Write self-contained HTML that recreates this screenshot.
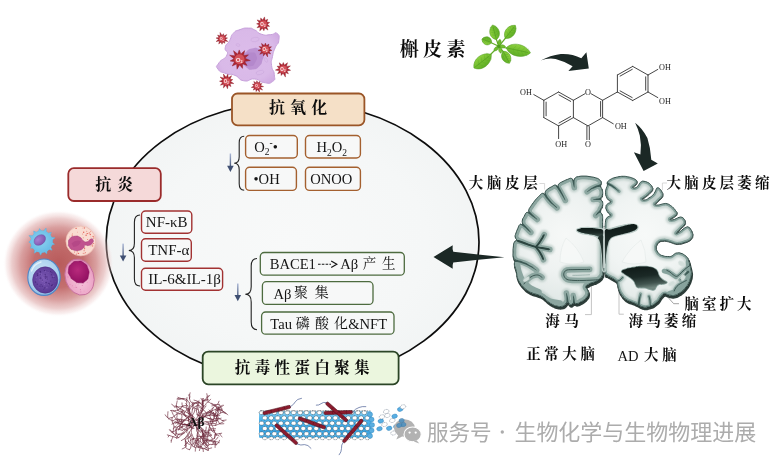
<!DOCTYPE html>
<html><head><meta charset="utf-8"><title>Quercetin and AD</title>
<style>html,body{margin:0;padding:0;background:#fff;}svg{display:block}text{font-family:"Liberation Serif",serif}</style>
</head><body>
<svg width="780" height="470" viewBox="0 0 780 470">
<defs>
<linearGradient id="gArr" x1="0" y1="0" x2="0" y2="1"><stop offset="0" stop-color="#a9b6d6"/><stop offset="1" stop-color="#3f4f72"/></linearGradient>
<radialGradient id="gEl" cx="50%" cy="50%" r="60%"><stop offset="0" stop-color="#f8f9f9"/><stop offset="0.6" stop-color="#f5f7f7"/><stop offset="1" stop-color="#f0f3f3"/></radialGradient>
<radialGradient id="gMac" cx="50%" cy="50%" r="60%"><stop offset="0" stop-color="#dcbcea"/><stop offset="0.75" stop-color="#d9b9e8"/><stop offset="1" stop-color="#d0abe2"/></radialGradient>
<radialGradient id="gGlow" cx="50%" cy="50%" r="50%"><stop offset="0" stop-color="#b45252" stop-opacity="0.95"/><stop offset="0.45" stop-color="#bd5f5f" stop-opacity="0.9"/><stop offset="0.68" stop-color="#cc7f7f" stop-opacity="0.75"/><stop offset="0.84" stop-color="#dca4a4" stop-opacity="0.55"/><stop offset="0.94" stop-color="#ecc8c8" stop-opacity="0.27"/><stop offset="1" stop-color="#fff" stop-opacity="0"/></radialGradient>
<radialGradient id="gC1" cx="45%" cy="45%" r="60%"><stop offset="0" stop-color="#8fd3f0"/><stop offset="1" stop-color="#67bce6"/></radialGradient>
<radialGradient id="gN1" cx="40%" cy="35%" r="70%"><stop offset="0" stop-color="#a77fd0"/><stop offset="1" stop-color="#7a52ac"/></radialGradient>
<radialGradient id="gC3" cx="45%" cy="40%" r="65%"><stop offset="0" stop-color="#cfe6f6"/><stop offset="0.7" stop-color="#a9d0ee"/><stop offset="1" stop-color="#7fb2e0"/></radialGradient>
<radialGradient id="gN3" cx="45%" cy="45%" r="60%"><stop offset="0" stop-color="#7c59b5"/><stop offset="1" stop-color="#553590"/></radialGradient>
<radialGradient id="gC4" cx="50%" cy="60%" r="65%"><stop offset="0" stop-color="#f6c6dc"/><stop offset="0.7" stop-color="#eba4c6"/><stop offset="1" stop-color="#dd86b2"/></radialGradient>
<radialGradient id="gN4" cx="45%" cy="40%" r="65%"><stop offset="0" stop-color="#b82a7c"/><stop offset="1" stop-color="#900f60"/></radialGradient>
<linearGradient id="gLeaf" x1="0" y1="0" x2="0" y2="1"><stop offset="0" stop-color="#8ed13f"/><stop offset="0.5" stop-color="#74be30"/><stop offset="1" stop-color="#5fae26"/></linearGradient>
<clipPath id="cpLow"><rect x="500" y="256" width="220" height="70"/></clipPath>
<filter id="fBl2" x="-30%" y="-30%" width="160%" height="160%"><feGaussianBlur stdDeviation="0.6"/></filter>
<filter id="fBl" x="-5%" y="-5%" width="110%" height="110%"><feGaussianBlur stdDeviation="0.9"/></filter>
<radialGradient id="gWML" gradientUnits="userSpaceOnUse" cx="565" cy="235" r="70"><stop offset="0" stop-color="#f6f8f7"/><stop offset="0.55" stop-color="#eef2f1"/><stop offset="1" stop-color="#dfe7e5"/></radialGradient>
<radialGradient id="gWMR" gradientUnits="userSpaceOnUse" cx="645" cy="235" r="70"><stop offset="0" stop-color="#f7f9f8"/><stop offset="0.55" stop-color="#f0f4f3"/><stop offset="1" stop-color="#e2e9e7"/></radialGradient>
<linearGradient id="gV0" x1="0" y1="0" x2="0" y2="1"><stop offset="0" stop-color="#0f1a18"/><stop offset="0.5" stop-color="#1d2b28"/><stop offset="1" stop-color="#4a5f5a"/></linearGradient>
<linearGradient id="gV2" x1="0" y1="0" x2="0.25" y2="1"><stop offset="0" stop-color="#0e1816"/><stop offset="0.5" stop-color="#1b2926"/><stop offset="0.82" stop-color="#41544f"/><stop offset="1" stop-color="#71867f"/></linearGradient>
<linearGradient id="gTub" x1="0" y1="0" x2="0" y2="1"><stop offset="0" stop-color="#8fd2f3"/><stop offset="0.3" stop-color="#4fb4ea"/><stop offset="0.75" stop-color="#3aa2df"/><stop offset="1" stop-color="#5ab8ea"/></linearGradient>
</defs>
<rect width="780" height="470" fill="#fff"/>
<g opacity="0.999">
<ellipse cx="292.6" cy="241.4" rx="186.4" ry="139.8" transform="rotate(0.3 292.6 241.4)" fill="url(#gEl)" stroke="#0d0d0d" stroke-width="1.7"/>
<rect x="232.0" y="93.5" width="132.4" height="31.8" rx="5.5" fill="#f5e0c7" stroke="#9a5527" stroke-width="1.8"/>
<rect x="68.3" y="168.2" width="92.5" height="32.8" rx="5.5" fill="#f5d9d9" stroke="#9a2b2b" stroke-width="1.8"/>
<rect x="202.7" y="351.6" width="195.9" height="32.7" rx="5.5" fill="#ebf6de" stroke="#2b4526" stroke-width="1.8"/>
<rect x="245.6" y="135.5" width="51.7" height="22.5" rx="4.0" fill="#f7f8f8" stroke="#a4602f" stroke-width="1.4"/>
<rect x="305.5" y="135.5" width="54.9" height="22.5" rx="4.0" fill="#f7f8f8" stroke="#a4602f" stroke-width="1.4"/>
<rect x="245.6" y="167.2" width="50.8" height="23.2" rx="4.0" fill="#f7f8f8" stroke="#a4602f" stroke-width="1.4"/>
<rect x="305.5" y="167.2" width="54.9" height="23.2" rx="4.0" fill="#f7f8f8" stroke="#a4602f" stroke-width="1.4"/>
<rect x="141.5" y="211.0" width="50.3" height="22.2" rx="4.0" fill="#f7f8f8" stroke="#a23232" stroke-width="1.4"/>
<rect x="141.5" y="238.7" width="49.8" height="22.6" rx="4.0" fill="#f7f8f8" stroke="#a23232" stroke-width="1.4"/>
<rect x="141.5" y="268.2" width="81.1" height="22.0" rx="4.0" fill="#f7f8f8" stroke="#a23232" stroke-width="1.4"/>
<rect x="260.3" y="252.5" width="144.0" height="22.7" rx="4.0" fill="#f7f8f8" stroke="#4d6b3f" stroke-width="1.3"/>
<rect x="262.4" y="281.7" width="110.6" height="22.7" rx="4.0" fill="#f7f8f8" stroke="#4d6b3f" stroke-width="1.3"/>
<rect x="261.6" y="312.0" width="132.4" height="22.2" rx="4.0" fill="#f7f8f8" stroke="#4d6b3f" stroke-width="1.3"/>
<path d="M244.2 136.3 Q239.2 136.3 239.2 142.8 L239.2 156.7 Q239.2 163.2 234.2 163.2 Q239.2 163.2 239.2 169.7 L239.2 183.7 Q239.2 190.2 244.2 190.2" fill="none" stroke="#222" stroke-width="1.1"/>
<rect x="229.70" y="153.5" width="1.4" height="14.5" fill="url(#gArr)"/><path d="M227.1 165.8 L233.7 165.8 L230.4 172.0 Z" fill="#3f4f72"/>
<path d="M140.0 215.0 Q134.4 215.0 134.4 222.3 L134.4 243.2 Q134.4 250.5 128.8 250.5 Q134.4 250.5 134.4 257.8 L134.4 278.7 Q134.4 286.0 140.0 286.0" fill="none" stroke="#222" stroke-width="1.1"/>
<rect x="122.40" y="243.6" width="1.4" height="14.0" fill="url(#gArr)"/><path d="M119.8 255.4 L126.4 255.4 L123.1 261.6 Z" fill="#3f4f72"/>
<path d="M257.0 258.5 Q251.2 258.5 251.2 266.1 L251.2 286.7 Q251.2 294.3 245.3 294.3 Q251.2 294.3 251.2 301.9 L251.2 322.1 Q251.2 329.7 257.0 329.7" fill="none" stroke="#222" stroke-width="1.1"/>
<rect x="237.10" y="283.5" width="1.4" height="13.8" fill="url(#gArr)"/><path d="M234.5 295.1 L241.1 295.1 L237.8 301.3 Z" fill="#3f4f72"/>
<text x="254.3" y="151.5" font-size="14.6" text-anchor="start" font-family="Liberation Serif" fill="#151515" >O<tspan font-size="9.5" dy="3.2">2</tspan><tspan font-size="9.5" dy="-8.5">-</tspan><tspan dy="5.3">•</tspan></text>
<text x="316.5" y="152.2" font-size="14.6" text-anchor="start" font-family="Liberation Serif" fill="#151515" >H<tspan font-size="9.5" dy="3.4">2</tspan><tspan dy="-3.4">O</tspan><tspan font-size="9.5" dy="3.4">2</tspan></text>
<text x="253.5" y="184.2" font-size="14.6" text-anchor="start" font-family="Liberation Serif" fill="#151515" >•OH</text>
<text x="310.2" y="184.4" font-size="14.6" text-anchor="start" font-family="Liberation Serif" fill="#151515" >ONOO</text>
<text x="145.8" y="227.0" font-size="15.0" text-anchor="start" font-family="Liberation Serif" fill="#151515" >NF-κB</text>
<text x="148.2" y="255.0" font-size="15.0" text-anchor="start" font-family="Liberation Serif" fill="#151515" >TNF-α</text>
<text x="148.2" y="284.2" font-size="15.0" text-anchor="start" font-family="Liberation Serif" fill="#151515" >IL-6&amp;IL-1β</text>
<text x="269.7" y="269.0" font-size="14.6" text-anchor="start" font-family="Liberation Serif" fill="#151515" >BACE1</text>
<path d="M318 264.2 H331" stroke="#151515" stroke-width="1.1" stroke-dasharray="2.6 1.2" fill="none"/><path d="M331.2 260.9 L336.8 264.2 L331.2 267.5" fill="none" stroke="#151515" stroke-width="1.2"/>
<text x="340.3" y="269.0" font-size="14.6" text-anchor="start" font-family="Liberation Serif" fill="#151515" >Aβ</text>
<text x="362.7" y="268.0" font-size="13.5" textLength="32.7" lengthAdjust="spacing" style="font-family:'Liberation Serif','Noto Serif CJK SC',serif" fill="#0c0c0c">产生</text>
<text x="273.5" y="298.6" font-size="14.6" text-anchor="start" font-family="Liberation Serif" fill="#151515" >Aβ</text>
<text x="294.1" y="297.2" font-size="14" textLength="34.6" lengthAdjust="spacing" style="font-family:'Liberation Serif','Noto Serif CJK SC',serif" fill="#0c0c0c">聚集</text>
<text x="270.3" y="328.8" font-size="14.6" text-anchor="start" font-family="Liberation Serif" fill="#151515" >Tau</text>
<text x="295.8" y="328.2" font-size="14" textLength="52.2" lengthAdjust="spacing" style="font-family:'Liberation Serif','Noto Serif CJK SC',serif" fill="#0c0c0c">磷酸化</text>
<text x="348.2" y="328.8" font-size="14.6" text-anchor="start" font-family="Liberation Serif" fill="#151515" >&amp;NFT</text>
<text x="268.9" y="113.2" font-size="16" font-weight="bold" textLength="58.4" lengthAdjust="spacing" style="font-family:'Liberation Serif','Noto Serif CJK SC',serif" fill="#0c0c0c">抗氧化</text>
<text x="95.3" y="190.0" font-size="16" font-weight="bold" textLength="38.0" lengthAdjust="spacing" style="font-family:'Liberation Serif','Noto Serif CJK SC',serif" fill="#0c0c0c">抗炎</text>
<text x="234.7" y="373.4" font-size="15.5" font-weight="bold" textLength="135.1" lengthAdjust="spacing" style="font-family:'Liberation Serif','Noto Serif CJK SC',serif" fill="#0c0c0c">抗毒性蛋白聚集</text>
<text x="399.8" y="56.4" font-size="19" font-weight="bold" textLength="65.6" lengthAdjust="spacing" style="font-family:'Liberation Serif','Noto Serif CJK SC',serif" fill="#0c0c0c">槲皮素</text>
<text x="468.7" y="188.4" font-size="14.5" font-weight="bold" textLength="69.1" lengthAdjust="spacing" style="font-family:'Liberation Serif','Noto Serif CJK SC',serif" fill="#0c0c0c">大脑皮层</text>
<text x="666.5" y="188.2" font-size="14.5" font-weight="bold" textLength="103.0" lengthAdjust="spacing" style="font-family:'Liberation Serif','Noto Serif CJK SC',serif" fill="#0c0c0c">大脑皮层萎缩</text>
<text x="684.6" y="309.3" font-size="14.5" font-weight="bold" textLength="67.0" lengthAdjust="spacing" style="font-family:'Liberation Serif','Noto Serif CJK SC',serif" fill="#0c0c0c">脑室扩大</text>
<text x="545.3" y="325.5" font-size="14.5" font-weight="bold" textLength="33.4" lengthAdjust="spacing" style="font-family:'Liberation Serif','Noto Serif CJK SC',serif" fill="#0c0c0c">海马</text>
<text x="628.5" y="325.5" font-size="14.5" font-weight="bold" textLength="67.7" lengthAdjust="spacing" style="font-family:'Liberation Serif','Noto Serif CJK SC',serif" fill="#0c0c0c">海马萎缩</text>
<text x="526.3" y="359.4" font-size="14.5" font-weight="bold" textLength="68.6" lengthAdjust="spacing" style="font-family:'Liberation Serif','Noto Serif CJK SC',serif" fill="#0c0c0c">正常大脑</text>
<text x="617.5" y="360.6" font-size="14.6" text-anchor="start" font-family="Liberation Serif" fill="#151515" >AD</text>
<text x="644.1" y="359.7" font-size="14.5" font-weight="bold" textLength="32.6" lengthAdjust="spacing" style="font-family:'Liberation Serif','Noto Serif CJK SC',serif" fill="#0c0c0c">大脑</text>
<path d="M539.5 183.5 H544.6 V189.5" fill="none" stroke="#cfcfcf" stroke-width="0.8"/>
<path d="M667 183 H662.4 V190" fill="none" stroke="#cfcfcf" stroke-width="0.8"/>
<path d="M591.4 285 V314.6 H585" fill="none" stroke="#b5b5b5" stroke-width="0.8"/>
<path d="M619 280 V314.2 H623.8" fill="none" stroke="#b5b5b5" stroke-width="0.8"/>
<path d="M656.4 284.4 L673.7 303.7 H679" fill="none" stroke="#8a8a8a" stroke-width="0.8"/>
<path d="M433.5 257 L452.7 245.3 Q452.2 249 453.3 251.7 Q478 254.5 504.5 257.2 Q478 259.5 453.3 262.6 Q452.2 265 452.7 268.8 Z" fill="#1b2825"/>
<path d="M540.8 60.4 Q550 55.5 560.8 54 Q572 53.4 581.3 58.3 L586.4 52.2 L588.8 68.5 L568.4 70.9 L572.6 66.2 Q565 61.5 555.6 59 Q548 57.8 540.8 60.4 Z" fill="#1b2825"/>
<path d="M635.1 122.8 Q642.5 128.5 647.4 138 Q650.6 148 651.3 159.7 L657.8 163.4 L643.6 171 L633.9 152.2 L640.4 154.6 Q641.8 145 639.8 135.4 Q638 128.5 635.1 122.8 Z" fill="#1b2825"/>
<path d="M543.8 100.3 L558.6 92.0 M558.6 92.0 L573.4 100.3 M573.4 100.3 L573.4 117.6 M573.4 117.6 L558.6 125.9 M558.6 125.9 L543.8 117.6 M543.8 117.6 L543.8 100.3 M602.6 100.3 L602.6 117.6 M602.6 117.6 L588.0 125.9 M588.0 125.9 L573.4 117.6 M602.6 100.3 L617.4 92.0 M617.4 92.0 L617.4 75.0 M617.4 75.0 L632.7 66.4 M632.7 66.4 L648.0 75.0 M648.0 75.0 L648.0 92.0 M648.0 92.0 L632.7 100.5 M632.7 100.5 L617.4 92.0 M543.8 100.3 L533.8 94.6 M558.6 125.9 L558.6 138.6 M602.6 117.6 L613.3 123.8 M648.0 75.0 L657.8 69.4 M648.0 92.0 L657.8 97.6 M573.4 100.3 L585.0 93.7 M591.0 93.7 L602.6 100.3 M586.9 125.9 V139.6 M589.3 126.6 V139.6 M559.0 94.9 L570.7 101.4 M546.1 115.8 L546.1 102.1 M570.7 116.5 L559.0 123.0 M600.6 101.5 L600.6 116.4 M620.1 76.1 L632.3 69.3 M645.7 76.8 L645.7 90.2 M632.2 97.6 L620.1 90.9" fill="none" stroke="#3c3c3c" stroke-width="0.95" stroke-linecap="round"/><text x="588.0" y="95.0" font-family="Liberation Serif" font-size="8.2" fill="#222" text-anchor="middle">O</text><text x="588.0" y="146.8" font-family="Liberation Serif" font-size="8.2" fill="#222" text-anchor="middle">O</text><text x="526.0" y="95.3" font-family="Liberation Serif" font-size="8.2" fill="#222" text-anchor="middle">OH</text><text x="561.2" y="146.8" font-family="Liberation Serif" font-size="8.2" fill="#222" text-anchor="middle">OH</text><text x="620.8" y="129.3" font-family="Liberation Serif" font-size="8.2" fill="#222" text-anchor="middle">OH</text><text x="665.0" y="69.8" font-family="Liberation Serif" font-size="8.2" fill="#222" text-anchor="middle">OH</text><text x="665.0" y="103.6" font-family="Liberation Serif" font-size="8.2" fill="#222" text-anchor="middle">OH</text>
<path d="M233.2 33.4C236.7 29.7 234.9 31.4 240.0 29.6C245.1 27.8 243.5 28.0 248.4 28.1C253.3 28.2 250.1 27.8 254.6 29.9C259.1 32.0 256.4 32.7 261.8 34.3C267.2 35.9 265.6 34.9 270.7 34.6C275.8 34.3 274.3 31.4 277.0 33.4C279.7 35.4 279.4 35.8 278.8 40.6C278.2 45.4 277.3 42.4 275.2 47.7C273.1 53.0 273.7 50.6 272.5 56.6C271.3 62.6 271.0 59.6 271.6 65.6C272.2 71.6 274.0 69.2 274.3 74.5C274.6 79.8 276.1 78.9 272.5 81.6C268.9 84.3 269.6 83.4 263.6 82.5C257.6 81.6 261.2 79.6 254.6 79.0C248.0 78.4 250.4 82.0 243.9 80.8C237.4 79.6 240.9 77.8 235.0 75.4C229.1 73.0 231.8 75.7 226.1 73.6C220.4 71.5 220.4 72.7 218.0 69.1C215.6 65.5 215.9 67.6 218.9 62.9C221.9 58.2 224.9 60.0 227.0 54.9C229.1 49.8 224.3 52.5 225.2 47.7C226.1 42.9 226.9 45.4 229.6 40.6C232.3 35.8 229.7 37.1 233.2 33.4Z" fill="url(#gMac)" stroke="#c6a0da" stroke-width="1"/><ellipse cx="255.0" cy="39.5" rx="4.2" ry="2.2" transform="rotate(-10 255.0 39.5)" fill="none" stroke="#caa6dc" stroke-width="0.6" opacity="0.8"/><ellipse cx="260.0" cy="72.5" rx="4.0" ry="2.0" transform="rotate(-15 260.0 72.5)" fill="none" stroke="#caa6dc" stroke-width="0.6" opacity="0.8"/><ellipse cx="238.0" cy="45.0" rx="2.0" ry="1.2" transform="rotate(20 238.0 45.0)" fill="none" stroke="#caa6dc" stroke-width="0.6" opacity="0.8"/><ellipse cx="266.0" cy="60.0" rx="2.5" ry="1.4" transform="rotate(60 266.0 60.0)" fill="none" stroke="#caa6dc" stroke-width="0.6" opacity="0.8"/><ellipse cx="232.0" cy="64.0" rx="2.0" ry="1.2" transform="rotate(0 232.0 64.0)" fill="none" stroke="#caa6dc" stroke-width="0.6" opacity="0.8"/><path d="M246.0 52.0C248.7 49.5 247.7 49.5 252.0 48.5C256.3 47.5 255.2 47.3 259.0 49.0C262.8 50.7 262.3 49.8 263.5 53.5C264.7 57.2 263.8 55.8 262.5 60.0C261.2 64.2 262.7 62.8 259.5 66.0C256.3 69.2 257.3 69.0 253.0 69.5C248.7 70.0 249.7 70.2 246.5 67.5C243.3 64.8 244.4 65.3 243.5 61.5C242.6 57.7 243.0 59.2 243.8 56.0C244.6 52.8 243.3 54.5 246.0 52.0Z" fill="#b98fd0" opacity="0.9"/><path d="M249.0 55.0C251.3 51.3 251.3 52.0 255.0 52.0C258.7 52.0 258.7 51.7 260.0 55.0C261.3 58.3 261.0 58.3 259.0 62.0C257.0 65.7 257.7 65.7 254.0 66.0C250.3 66.3 249.7 66.7 248.0 63.0C246.3 59.3 246.7 58.7 249.0 55.0Z" fill="#ad80c6" opacity="0.55" transform="translate(1.5 1.5) scale(0.98)"/><path d="M269.6 26.3L266.6 26.5L268.0 30.1L264.8 27.9L263.9 30.7L262.5 28.2L259.8 30.8L260.4 27.1L257.0 27.7L259.2 25.1L256.6 23.8L259.3 22.8L257.1 19.9L260.6 20.9L260.7 18.0L262.8 20.0L264.5 16.9L265.1 20.4L267.7 19.3L266.8 22.0L269.7 22.5L267.3 24.3Z" fill="#ad2733" stroke="#8a1a25" stroke-width="0.4" stroke-linejoin="round"/><circle cx="263.2" cy="24.1" r="3.7" fill="#d4525b"/><text x="262.9" y="25.8" style="font-family:Liberation Sans,sans-serif" font-weight="bold" font-size="4.6" fill="#fbe9e9" text-anchor="middle">O<tspan font-size="2.8" dy="1.1">2</tspan></text><path d="M227.8 41.4L224.5 41.0L224.9 43.3L222.9 42.0L222.0 44.3L221.1 42.0L218.7 43.9L219.5 41.0L216.1 41.5L218.7 39.3L216.0 38.0L219.0 37.4L217.6 35.0L220.2 36.0L220.1 32.5L222.0 35.5L223.5 33.7L223.8 36.0L226.8 34.6L225.0 37.4L227.5 38.0L225.3 39.3Z" fill="#ad2733" stroke="#8a1a25" stroke-width="0.4" stroke-linejoin="round"/><circle cx="222.0" cy="38.8" r="3.0" fill="#d4525b"/><text x="221.7" y="40.1" style="font-family:Liberation Sans,sans-serif" font-weight="bold" font-size="3.7" fill="#fbe9e9" text-anchor="middle">O<tspan font-size="2.2" dy="0.9">2</tspan></text><path d="M271.9 50.4L269.1 51.2L270.6 54.0L267.6 52.9L267.6 56.9L265.4 53.5L263.5 55.9L263.2 52.9L259.8 54.3L261.7 51.2L258.0 50.5L261.4 48.9L259.1 46.6L262.4 46.9L261.5 43.4L264.3 45.6L265.4 43.1L266.5 45.6L268.9 44.1L268.5 46.9L271.5 46.7L269.4 48.9Z" fill="#ad2733" stroke="#8a1a25" stroke-width="0.4" stroke-linejoin="round"/><circle cx="265.4" cy="49.5" r="3.6" fill="#d4525b"/><text x="265.1" y="51.1" style="font-family:Liberation Sans,sans-serif" font-weight="bold" font-size="4.5" fill="#fbe9e9" text-anchor="middle">O<tspan font-size="2.7" dy="1.1">2</tspan></text><path d="M247.1 65.5L242.7 63.9L242.5 68.4L239.7 64.9L237.0 69.2L236.6 64.1L232.2 66.0L234.5 61.8L230.1 61.0L233.9 58.7L229.6 55.2L235.1 55.8L233.5 50.7L237.7 54.0L239.2 49.9L240.9 53.9L244.7 50.6L243.6 55.5L248.5 54.8L245.0 58.3L250.3 60.5L244.7 61.5Z" fill="#ad2733" stroke="#8a1a25" stroke-width="0.4" stroke-linejoin="round"/><circle cx="239.5" cy="59.3" r="5.0" fill="#d4525b"/><text x="239.2" y="61.5" style="font-family:Liberation Sans,sans-serif" font-weight="bold" font-size="6.2" fill="#fbe9e9" text-anchor="middle">O<tspan font-size="3.7" dy="1.6">2</tspan></text><path d="M288.4 73.8L285.4 72.6L285.4 77.1L283.1 73.2L281.2 75.5L280.9 72.6L277.6 73.8L279.4 70.8L275.4 70.1L279.1 68.4L277.1 66.2L280.1 66.3L279.3 62.8L282.1 65.1L283.3 62.5L284.4 65.1L287.5 62.7L286.4 66.4L290.4 65.9L287.3 68.6L290.6 70.3L286.9 70.9Z" fill="#ad2733" stroke="#8a1a25" stroke-width="0.4" stroke-linejoin="round"/><circle cx="283.2" cy="69.1" r="3.7" fill="#d4525b"/><text x="282.9" y="70.8" style="font-family:Liberation Sans,sans-serif" font-weight="bold" font-size="4.6" fill="#fbe9e9" text-anchor="middle">O<tspan font-size="2.8" dy="1.1">2</tspan></text><path d="M231.0 86.6L228.2 85.0L227.5 88.8L226.0 85.3L223.4 87.9L223.9 84.3L220.4 85.2L222.7 82.4L219.5 81.2L222.8 80.1L220.1 77.0L224.0 78.2L223.4 74.0L226.1 77.3L227.8 74.2L228.3 77.7L231.6 75.7L230.0 79.2L232.8 79.6L230.6 81.4L233.8 83.6L230.0 83.5Z" fill="#ad2733" stroke="#8a1a25" stroke-width="0.4" stroke-linejoin="round"/><circle cx="226.6" cy="81.3" r="3.6" fill="#d4525b"/><text x="226.3" y="82.9" style="font-family:Liberation Sans,sans-serif" font-weight="bold" font-size="4.5" fill="#fbe9e9" text-anchor="middle">O<tspan font-size="2.7" dy="1.1">2</tspan></text><path d="M262.6 90.1L259.3 88.8L259.5 92.1L257.5 89.4L256.1 91.6L255.7 89.0L253.2 90.1L254.4 87.7L251.3 87.4L254.0 85.8L252.4 84.3L254.7 84.1L253.8 81.4L256.2 83.0L256.9 80.7L258.0 82.9L259.9 81.4L259.6 83.8L261.9 83.6L260.5 85.4L263.6 86.6L260.4 87.3Z" fill="#ad2733" stroke="#8a1a25" stroke-width="0.4" stroke-linejoin="round"/><circle cx="257.3" cy="86.1" r="3.0" fill="#d4525b"/><text x="257.0" y="87.4" style="font-family:Liberation Sans,sans-serif" font-weight="bold" font-size="3.7" fill="#fbe9e9" text-anchor="middle">O<tspan font-size="2.2" dy="0.9">2</tspan></text>
<ellipse cx="58.5" cy="263.5" rx="55.5" ry="53.5" fill="url(#gGlow)"/><path d="M52.4 242.4L54.5 244.2L51.8 245.1L50.8 247.3L52.1 250.2L49.0 249.4L47.1 250.9L46.8 253.8L44.5 252.0L42.1 252.4L40.5 255.2L39.4 252.2L37.1 251.4L34.3 253.2L34.7 249.9L33.0 248.2L30.4 248.1L31.6 245.8L31.0 243.4L28.8 242.1L30.8 240.6L31.3 238.3L29.0 235.6L32.5 235.8L34.0 233.9L33.7 231.1L36.3 232.2L38.5 231.3L39.5 228.6L41.2 230.8L43.6 231.0L46.1 228.1L46.3 231.9L48.3 233.2L51.3 232.3L50.3 235.2L51.5 237.3L55.0 237.7L52.3 240.0Z" fill="#74c4ea" stroke="#5aaedb" stroke-width="0.5" stroke-linejoin="round"/><circle cx="41.6" cy="241.6" r="10.9" fill="url(#gC1)"/><ellipse cx="39.8" cy="240" rx="6.3" ry="4.7" transform="rotate(-38 39.8 240)" fill="url(#gN1)" stroke="#6d4a9c" stroke-width="0.4"/><circle cx="80.8" cy="241.0" r="14.9" fill="#f9dcd2" stroke="#e9b9ae" stroke-width="0.7"/><circle cx="69.7" cy="242.7" r="0.40" fill="#e0584e" opacity="0.80"/><circle cx="87.6" cy="233.5" r="0.61" fill="#e0584e" opacity="0.82"/><circle cx="92.0" cy="245.8" r="0.56" fill="#e0584e" opacity="0.67"/><circle cx="93.6" cy="243.5" r="0.52" fill="#e0584e" opacity="0.84"/><circle cx="89.3" cy="232.9" r="0.67" fill="#e0584e" opacity="0.71"/><circle cx="83.7" cy="232.2" r="0.68" fill="#e0584e" opacity="0.90"/><circle cx="85.0" cy="244.0" r="0.43" fill="#e0584e" opacity="0.94"/><circle cx="70.6" cy="245.3" r="0.46" fill="#e0584e" opacity="0.75"/><circle cx="74.6" cy="246.4" r="0.55" fill="#e0584e" opacity="0.78"/><circle cx="90.3" cy="234.5" r="0.68" fill="#e0584e" opacity="0.89"/><circle cx="92.2" cy="240.4" r="0.41" fill="#e0584e" opacity="0.89"/><circle cx="93.8" cy="238.1" r="0.55" fill="#e0584e" opacity="0.84"/><circle cx="83.9" cy="253.4" r="0.55" fill="#e0584e" opacity="0.66"/><circle cx="92.7" cy="246.0" r="0.70" fill="#e0584e" opacity="0.59"/><circle cx="83.6" cy="232.5" r="0.40" fill="#e0584e" opacity="0.67"/><circle cx="82.3" cy="228.0" r="0.37" fill="#e0584e" opacity="0.80"/><circle cx="92.2" cy="244.3" r="0.47" fill="#e0584e" opacity="0.90"/><circle cx="90.7" cy="239.8" r="0.70" fill="#e0584e" opacity="0.67"/><circle cx="90.4" cy="246.0" r="0.36" fill="#e0584e" opacity="0.63"/><circle cx="71.7" cy="247.0" r="0.40" fill="#e0584e" opacity="0.57"/><circle cx="86.1" cy="235.2" r="0.69" fill="#e0584e" opacity="0.91"/><circle cx="74.0" cy="247.6" r="0.53" fill="#e0584e" opacity="0.81"/><circle cx="72.2" cy="235.1" r="0.57" fill="#e0584e" opacity="0.93"/><circle cx="71.6" cy="240.6" r="0.60" fill="#e0584e" opacity="0.65"/><circle cx="76.4" cy="254.1" r="0.53" fill="#e0584e" opacity="0.77"/><circle cx="89.8" cy="241.6" r="0.55" fill="#e0584e" opacity="0.56"/><circle cx="72.5" cy="233.6" r="0.37" fill="#e0584e" opacity="0.80"/><circle cx="69.5" cy="243.4" r="0.47" fill="#e0584e" opacity="0.83"/><circle cx="80.6" cy="238.9" r="0.37" fill="#e0584e" opacity="0.82"/><circle cx="87.6" cy="239.4" r="0.51" fill="#e0584e" opacity="0.79"/><circle cx="77.2" cy="248.6" r="0.46" fill="#e0584e" opacity="0.70"/><circle cx="74.5" cy="236.7" r="0.48" fill="#e0584e" opacity="0.86"/><circle cx="91.2" cy="242.8" r="0.61" fill="#e0584e" opacity="0.67"/><circle cx="83.0" cy="253.3" r="0.43" fill="#e0584e" opacity="0.62"/><circle cx="70.1" cy="245.6" r="0.39" fill="#e0584e" opacity="0.68"/><circle cx="74.4" cy="252.0" r="0.50" fill="#e0584e" opacity="0.89"/><circle cx="84.7" cy="248.1" r="0.58" fill="#e0584e" opacity="0.90"/><circle cx="74.5" cy="243.0" r="0.39" fill="#e0584e" opacity="0.76"/><circle cx="85.4" cy="252.7" r="0.64" fill="#e0584e" opacity="0.62"/><circle cx="78.6" cy="253.4" r="0.57" fill="#e0584e" opacity="0.87"/><circle cx="78.0" cy="245.2" r="0.45" fill="#e0584e" opacity="0.87"/><circle cx="79.7" cy="249.2" r="0.50" fill="#e0584e" opacity="0.72"/><circle cx="69.5" cy="248.2" r="0.40" fill="#e0584e" opacity="0.55"/><circle cx="93.1" cy="236.4" r="0.70" fill="#e0584e" opacity="0.72"/><circle cx="93.6" cy="236.9" r="0.43" fill="#e0584e" opacity="0.85"/><circle cx="86.7" cy="231.3" r="0.53" fill="#e0584e" opacity="0.67"/><circle cx="77.2" cy="246.6" r="0.37" fill="#e0584e" opacity="0.79"/><circle cx="77.9" cy="253.2" r="0.37" fill="#e0584e" opacity="0.91"/><circle cx="76.1" cy="228.4" r="0.66" fill="#e0584e" opacity="0.91"/><circle cx="79.4" cy="240.3" r="0.61" fill="#e0584e" opacity="0.62"/><circle cx="77.3" cy="251.8" r="0.53" fill="#e0584e" opacity="0.72"/><circle cx="90.9" cy="236.9" r="0.47" fill="#e0584e" opacity="0.65"/><circle cx="87.0" cy="233.6" r="0.62" fill="#e0584e" opacity="0.69"/><circle cx="84.1" cy="250.7" r="0.64" fill="#e0584e" opacity="0.62"/><circle cx="84.3" cy="228.0" r="0.63" fill="#e0584e" opacity="0.88"/><circle cx="91.9" cy="241.5" r="0.65" fill="#e0584e" opacity="0.57"/><circle cx="79.8" cy="248.2" r="0.53" fill="#e0584e" opacity="0.72"/><circle cx="68.7" cy="243.1" r="0.35" fill="#e0584e" opacity="0.57"/><circle cx="84.2" cy="244.5" r="0.37" fill="#e0584e" opacity="0.94"/><circle cx="83.3" cy="237.8" r="0.53" fill="#e0584e" opacity="0.68"/><circle cx="77.5" cy="248.6" r="0.58" fill="#e0584e" opacity="0.78"/><circle cx="76.9" cy="245.7" r="0.47" fill="#e0584e" opacity="0.60"/><circle cx="69.7" cy="237.0" r="0.48" fill="#e0584e" opacity="0.58"/><circle cx="84.5" cy="248.7" r="0.56" fill="#e0584e" opacity="0.86"/><circle cx="71.7" cy="249.5" r="0.57" fill="#e0584e" opacity="0.72"/><circle cx="74.0" cy="248.1" r="0.60" fill="#e0584e" opacity="0.72"/><circle cx="77.5" cy="232.1" r="0.44" fill="#e0584e" opacity="0.76"/><circle cx="79.5" cy="237.5" r="0.50" fill="#e0584e" opacity="0.72"/><circle cx="90.6" cy="231.7" r="0.48" fill="#e0584e" opacity="0.91"/><circle cx="82.6" cy="234.1" r="0.51" fill="#e0584e" opacity="0.60"/><path d="M68.5 243.5C68.7 240.6 67.8 240.9 70.0 238.5C72.2 236.1 71.7 236.6 75.0 236.2C78.3 235.8 77.3 235.9 80.0 237.3C82.7 238.7 80.7 239.0 83.0 240.5C85.3 242.0 84.5 242.2 87.0 241.8C89.5 241.4 88.5 239.9 90.5 239.2C92.5 238.5 92.4 238.5 93.0 239.8C93.6 241.1 93.8 241.3 92.3 243.2C90.8 245.1 90.9 244.8 88.5 245.5C86.1 246.2 86.8 244.4 85.0 245.3C83.2 246.2 85.4 246.6 83.2 248.3C81.0 250.0 81.9 249.9 78.5 250.4C75.1 250.9 76.0 250.9 73.0 249.8C70.0 248.7 71.0 249.3 69.5 247.2C68.0 245.1 68.3 246.4 68.5 243.5Z" fill="#c0538f" stroke="#a23c78" stroke-width="0.5"/><path d="M71.5 243.5 Q76 239 81 241.5 Q79 246.5 73.5 247 Z" fill="#b04483" opacity="0.7"/><ellipse cx="44" cy="277.2" rx="16.2" ry="18.2" fill="url(#gC3)" stroke="#4f86c6" stroke-width="1.1"/><ellipse cx="45.2" cy="280" rx="12.6" ry="13.2" fill="url(#gN3)" stroke="#4a2d80" stroke-width="0.5"/><circle cx="48.2" cy="272.2" r="0.75" fill="#8a68bd" opacity="0.7"/><circle cx="40.5" cy="272.2" r="0.63" fill="#49297f" opacity="0.7"/><circle cx="48.2" cy="271.8" r="0.59" fill="#49297f" opacity="0.7"/><circle cx="45.2" cy="277.8" r="0.44" fill="#49297f" opacity="0.7"/><circle cx="41.4" cy="274.6" r="0.73" fill="#8a68bd" opacity="0.7"/><circle cx="46.9" cy="277.0" r="0.74" fill="#3d2070" opacity="0.7"/><circle cx="36.2" cy="281.0" r="0.51" fill="#8a68bd" opacity="0.7"/><circle cx="45.5" cy="278.1" r="0.71" fill="#3d2070" opacity="0.7"/><circle cx="39.9" cy="279.1" r="0.62" fill="#49297f" opacity="0.7"/><circle cx="47.3" cy="279.0" r="0.53" fill="#3d2070" opacity="0.7"/><circle cx="46.1" cy="282.6" r="0.80" fill="#3d2070" opacity="0.7"/><circle cx="44.9" cy="288.2" r="0.70" fill="#8a68bd" opacity="0.7"/><circle cx="44.8" cy="288.1" r="0.78" fill="#3d2070" opacity="0.7"/><circle cx="42.3" cy="281.5" r="0.60" fill="#8a68bd" opacity="0.7"/><circle cx="50.6" cy="271.5" r="0.57" fill="#3d2070" opacity="0.7"/><circle cx="45.2" cy="271.4" r="0.61" fill="#8a68bd" opacity="0.7"/><circle cx="48.6" cy="285.5" r="0.76" fill="#49297f" opacity="0.7"/><circle cx="52.3" cy="285.1" r="0.77" fill="#3d2070" opacity="0.7"/><circle cx="52.5" cy="277.6" r="0.74" fill="#49297f" opacity="0.7"/><circle cx="44.4" cy="284.6" r="0.63" fill="#8a68bd" opacity="0.7"/><circle cx="53.7" cy="276.2" r="0.62" fill="#8a68bd" opacity="0.7"/><circle cx="40.3" cy="271.5" r="0.64" fill="#3d2070" opacity="0.7"/><circle cx="40.3" cy="277.3" r="0.49" fill="#49297f" opacity="0.7"/><circle cx="43.8" cy="289.3" r="0.48" fill="#3d2070" opacity="0.7"/><circle cx="41.1" cy="284.6" r="0.71" fill="#49297f" opacity="0.7"/><circle cx="37.3" cy="284.3" r="0.68" fill="#49297f" opacity="0.7"/><circle cx="35.6" cy="281.9" r="0.73" fill="#3d2070" opacity="0.7"/><circle cx="55.1" cy="281.8" r="0.43" fill="#8a68bd" opacity="0.7"/><circle cx="46.9" cy="270.4" r="0.42" fill="#49297f" opacity="0.7"/><circle cx="51.4" cy="274.7" r="0.71" fill="#49297f" opacity="0.7"/><circle cx="54.2" cy="277.5" r="0.50" fill="#49297f" opacity="0.7"/><circle cx="45.5" cy="276.2" r="0.65" fill="#3d2070" opacity="0.7"/><circle cx="51.1" cy="272.3" r="0.50" fill="#49297f" opacity="0.7"/><circle cx="42.3" cy="286.3" r="0.69" fill="#49297f" opacity="0.7"/><circle cx="48.9" cy="283.6" r="0.77" fill="#49297f" opacity="0.7"/><circle cx="40.0" cy="286.2" r="0.67" fill="#49297f" opacity="0.7"/><circle cx="50.8" cy="281.1" r="0.55" fill="#49297f" opacity="0.7"/><circle cx="46.9" cy="287.7" r="0.78" fill="#8a68bd" opacity="0.7"/><circle cx="49.1" cy="284.2" r="0.75" fill="#49297f" opacity="0.7"/><circle cx="43.1" cy="277.0" r="0.75" fill="#8a68bd" opacity="0.7"/><circle cx="53.2" cy="285.8" r="0.55" fill="#8a68bd" opacity="0.7"/><circle cx="45.2" cy="274.3" r="0.67" fill="#3d2070" opacity="0.7"/><circle cx="53.8" cy="276.8" r="0.44" fill="#8a68bd" opacity="0.7"/><circle cx="41.3" cy="273.2" r="0.45" fill="#8a68bd" opacity="0.7"/><circle cx="42.4" cy="279.9" r="0.52" fill="#3d2070" opacity="0.7"/><circle cx="40.8" cy="278.2" r="0.66" fill="#3d2070" opacity="0.7"/><circle cx="48.6" cy="285.1" r="0.77" fill="#8a68bd" opacity="0.7"/><circle cx="52.1" cy="287.0" r="0.46" fill="#8a68bd" opacity="0.7"/><circle cx="39.7" cy="273.4" r="0.57" fill="#8a68bd" opacity="0.7"/><circle cx="40.7" cy="274.4" r="0.52" fill="#49297f" opacity="0.7"/><circle cx="44.0" cy="276.7" r="0.47" fill="#3d2070" opacity="0.7"/><circle cx="36.3" cy="277.6" r="0.54" fill="#8a68bd" opacity="0.7"/><circle cx="44.6" cy="282.4" r="0.45" fill="#8a68bd" opacity="0.7"/><circle cx="39.7" cy="279.8" r="0.71" fill="#8a68bd" opacity="0.7"/><circle cx="52.1" cy="272.8" r="0.58" fill="#49297f" opacity="0.7"/><circle cx="39.1" cy="287.7" r="0.44" fill="#8a68bd" opacity="0.7"/><circle cx="37.6" cy="275.4" r="0.63" fill="#3d2070" opacity="0.7"/><circle cx="51.5" cy="285.6" r="0.63" fill="#3d2070" opacity="0.7"/><circle cx="44.5" cy="270.6" r="0.70" fill="#3d2070" opacity="0.7"/><circle cx="37.4" cy="273.9" r="0.72" fill="#3d2070" opacity="0.7"/><path d="M31.5 271 Q34 264 41 262" fill="none" stroke="#e6f3fb" stroke-width="1.4" stroke-linecap="round" opacity="0.9"/><g transform="rotate(-18 79.8 277.8)"><ellipse cx="79.8" cy="277" rx="14.2" ry="18.4" fill="url(#gC4)" stroke="#c7709d" stroke-width="0.9"/><circle cx="70.9" cy="275.8" r="0.36" fill="#d35f9a" opacity="0.6"/><circle cx="79.8" cy="291.7" r="0.31" fill="#d35f9a" opacity="0.6"/><circle cx="83.5" cy="263.8" r="0.58" fill="#d35f9a" opacity="0.6"/><circle cx="73.2" cy="285.6" r="0.47" fill="#d35f9a" opacity="0.6"/><circle cx="71.9" cy="266.3" r="0.51" fill="#d35f9a" opacity="0.6"/><circle cx="76.4" cy="291.6" r="0.45" fill="#d35f9a" opacity="0.6"/><circle cx="71.6" cy="269.9" r="0.30" fill="#d35f9a" opacity="0.6"/><circle cx="81.0" cy="265.2" r="0.45" fill="#d35f9a" opacity="0.6"/><circle cx="71.8" cy="276.2" r="0.36" fill="#d35f9a" opacity="0.6"/><circle cx="77.5" cy="277.2" r="0.45" fill="#d35f9a" opacity="0.6"/><circle cx="74.9" cy="269.5" r="0.47" fill="#d35f9a" opacity="0.6"/><circle cx="90.7" cy="274.0" r="0.34" fill="#d35f9a" opacity="0.6"/><circle cx="82.3" cy="265.9" r="0.32" fill="#d35f9a" opacity="0.6"/><circle cx="76.1" cy="283.6" r="0.32" fill="#d35f9a" opacity="0.6"/><circle cx="68.6" cy="274.1" r="0.40" fill="#d35f9a" opacity="0.6"/><circle cx="86.7" cy="268.3" r="0.34" fill="#d35f9a" opacity="0.6"/><circle cx="85.6" cy="268.4" r="0.58" fill="#d35f9a" opacity="0.6"/><circle cx="77.6" cy="264.6" r="0.40" fill="#d35f9a" opacity="0.6"/><circle cx="83.8" cy="263.6" r="0.56" fill="#d35f9a" opacity="0.6"/><circle cx="70.2" cy="283.1" r="0.45" fill="#d35f9a" opacity="0.6"/><circle cx="81.7" cy="279.9" r="0.32" fill="#d35f9a" opacity="0.6"/><circle cx="81.3" cy="283.8" r="0.45" fill="#d35f9a" opacity="0.6"/><circle cx="77.0" cy="266.9" r="0.43" fill="#d35f9a" opacity="0.6"/><circle cx="75.9" cy="270.8" r="0.44" fill="#d35f9a" opacity="0.6"/><circle cx="80.1" cy="267.9" r="0.35" fill="#d35f9a" opacity="0.6"/><circle cx="88.0" cy="269.9" r="0.41" fill="#d35f9a" opacity="0.6"/><circle cx="73.8" cy="286.1" r="0.48" fill="#d35f9a" opacity="0.6"/><circle cx="79.9" cy="278.6" r="0.36" fill="#d35f9a" opacity="0.6"/><circle cx="80.7" cy="272.0" r="0.44" fill="#d35f9a" opacity="0.6"/><circle cx="81.6" cy="284.6" r="0.35" fill="#d35f9a" opacity="0.6"/><circle cx="75.8" cy="281.5" r="0.31" fill="#d35f9a" opacity="0.6"/><circle cx="83.6" cy="281.9" r="0.45" fill="#d35f9a" opacity="0.6"/><circle cx="81.5" cy="278.7" r="0.43" fill="#d35f9a" opacity="0.6"/><circle cx="71.4" cy="285.0" r="0.32" fill="#d35f9a" opacity="0.6"/><circle cx="73.6" cy="283.4" r="0.31" fill="#d35f9a" opacity="0.6"/><circle cx="85.3" cy="276.2" r="0.33" fill="#d35f9a" opacity="0.6"/><circle cx="75.0" cy="278.8" r="0.49" fill="#d35f9a" opacity="0.6"/><circle cx="77.4" cy="282.3" r="0.32" fill="#d35f9a" opacity="0.6"/><circle cx="78.9" cy="269.7" r="0.54" fill="#d35f9a" opacity="0.6"/><circle cx="68.5" cy="281.1" r="0.39" fill="#d35f9a" opacity="0.6"/><circle cx="79.8" cy="285.9" r="0.54" fill="#d35f9a" opacity="0.6"/><circle cx="75.0" cy="271.1" r="0.33" fill="#d35f9a" opacity="0.6"/><circle cx="74.9" cy="263.7" r="0.48" fill="#d35f9a" opacity="0.6"/><circle cx="81.9" cy="277.9" r="0.33" fill="#d35f9a" opacity="0.6"/><circle cx="80.9" cy="280.4" r="0.32" fill="#d35f9a" opacity="0.6"/><circle cx="73.4" cy="265.5" r="0.36" fill="#d35f9a" opacity="0.6"/><circle cx="88.0" cy="276.0" r="0.54" fill="#d35f9a" opacity="0.6"/><circle cx="89.9" cy="270.3" r="0.31" fill="#d35f9a" opacity="0.6"/><circle cx="76.7" cy="289.3" r="0.58" fill="#d35f9a" opacity="0.6"/><circle cx="85.3" cy="282.2" r="0.55" fill="#d35f9a" opacity="0.6"/><circle cx="85.4" cy="284.3" r="0.40" fill="#d35f9a" opacity="0.6"/><circle cx="74.9" cy="264.1" r="0.35" fill="#d35f9a" opacity="0.6"/><circle cx="79.1" cy="264.4" r="0.55" fill="#d35f9a" opacity="0.6"/><circle cx="68.9" cy="272.8" r="0.41" fill="#d35f9a" opacity="0.6"/><circle cx="74.9" cy="281.6" r="0.53" fill="#d35f9a" opacity="0.6"/></g><path d="M68.5 270.0C69.0 265.9 68.5 266.7 71.5 263.8C74.5 260.9 73.3 261.6 77.5 261.3C81.7 261.0 80.5 260.6 84.0 263.0C87.5 265.4 86.5 264.3 88.0 268.5C89.5 272.7 89.3 271.3 88.5 275.5C87.7 279.7 88.3 278.6 85.5 281.0C82.7 283.4 83.8 283.0 80.0 282.8C76.2 282.6 77.3 282.8 74.0 280.5C70.7 278.2 71.8 279.5 70.0 276.0C68.2 272.5 68.0 274.1 68.5 270.0Z" fill="url(#gN4)" stroke="#860f5a" stroke-width="0.5"/>
<path d="M498.8 46.3 L488 57 M498.8 46.3 L513 49.5 M498.8 46.3 L495.5 37 M498.8 46.3 L508 35 M498.8 46.3 L489.5 42 M498.8 46.3 L505.5 54.5" stroke="#62ad28" stroke-width="1.2" fill="none"/><g transform="translate(482.6 61.2) rotate(-38.0)"><path d="M-11.0 0 C-6.6 -8.2 6.1 -7.6 11.0 0 C6.1 7.6 -6.6 8.2 -11.0 0Z" fill="url(#gLeaf)" stroke="#4e9a1e" stroke-width="0.5"/><path d="M-9.9 0 L8.8 0" stroke="#4a941c" stroke-width="0.5" fill="none"/><path d="M-5.0 0 L-2.5 -4.0 M-5.0 0 L-2.5 4.0 M-1.1 0 L1.3 -4.0 M-1.1 0 L1.3 4.0 M2.8 0 L5.2 -4.0 M2.8 0 L5.2 4.0 M6.1 0 L8.5 -4.0 M6.1 0 L8.5 4.0" stroke="#58a524" stroke-width="0.35" fill="none" opacity="0.8"/></g><g transform="translate(518.3 50.4) rotate(12.0)"><path d="M-12.4 0 C-7.4 -8.1 6.8 -7.5 12.4 0 C6.8 7.5 -7.4 8.1 -12.4 0Z" fill="url(#gLeaf)" stroke="#4e9a1e" stroke-width="0.5"/><path d="M-11.2 0 L9.9 0" stroke="#4a941c" stroke-width="0.5" fill="none"/><path d="M-5.6 0 L-2.9 -3.9 M-5.6 0 L-2.9 3.9 M-1.2 0 L1.5 -3.9 M-1.2 0 L1.5 3.9 M3.1 0 L5.8 -3.9 M3.1 0 L5.8 3.9 M6.8 0 L9.5 -3.9 M6.8 0 L9.5 3.9" stroke="#58a524" stroke-width="0.35" fill="none" opacity="0.8"/></g><g transform="translate(494.5 32.3) rotate(-105.0)"><path d="M-7.6 0 C-4.6 -6.6 4.2 -6.1 7.6 0 C4.2 6.1 -4.6 6.6 -7.6 0Z" fill="url(#gLeaf)" stroke="#4e9a1e" stroke-width="0.5"/><path d="M-6.8 0 L6.1 0" stroke="#4a941c" stroke-width="0.5" fill="none"/><path d="M-3.4 0 L-1.7 -3.2 M-3.4 0 L-1.7 3.2 M-0.8 0 L0.9 -3.2 M-0.8 0 L0.9 3.2 M1.9 0 L3.6 -3.2 M1.9 0 L3.6 3.2 M4.2 0 L5.9 -3.2 M4.2 0 L5.9 3.2" stroke="#58a524" stroke-width="0.35" fill="none" opacity="0.8"/></g><g transform="translate(510.3 31.8) rotate(-52.0)"><path d="M-8.2 0 C-4.9 -6.5 4.5 -6.0 8.2 0 C4.5 6.0 -4.9 6.5 -8.2 0Z" fill="url(#gLeaf)" stroke="#4e9a1e" stroke-width="0.5"/><path d="M-7.4 0 L6.6 0" stroke="#4a941c" stroke-width="0.5" fill="none"/><path d="M-3.7 0 L-1.9 -3.1 M-3.7 0 L-1.9 3.1 M-0.8 0 L1.0 -3.1 M-0.8 0 L1.0 3.1 M2.0 0 L3.9 -3.1 M2.0 0 L3.9 3.1 M4.5 0 L6.3 -3.1 M4.5 0 L6.3 3.1" stroke="#58a524" stroke-width="0.35" fill="none" opacity="0.8"/></g><g transform="translate(486.8 40.8) rotate(-160.0)"><path d="M-5.2 0 C-3.1 -5.5 2.9 -5.1 5.2 0 C2.9 5.1 -3.1 5.5 -5.2 0Z" fill="url(#gLeaf)" stroke="#4e9a1e" stroke-width="0.5"/><path d="M-4.7 0 L4.2 0" stroke="#4a941c" stroke-width="0.5" fill="none"/><path d="M-2.3 0 L-1.2 -2.6 M-2.3 0 L-1.2 2.6 M-0.5 0 L0.6 -2.6 M-0.5 0 L0.6 2.6 M1.3 0 L2.4 -2.6 M1.3 0 L2.4 2.6 M2.9 0 L4.0 -2.6 M2.9 0 L4.0 2.6" stroke="#58a524" stroke-width="0.35" fill="none" opacity="0.8"/></g><g transform="translate(506.3 57.3) rotate(62.0)"><path d="M-6.8 0 C-4.1 -6.0 3.7 -5.5 6.8 0 C3.7 5.5 -4.1 6.0 -6.8 0Z" fill="url(#gLeaf)" stroke="#4e9a1e" stroke-width="0.5"/><path d="M-6.1 0 L5.4 0" stroke="#4a941c" stroke-width="0.5" fill="none"/><path d="M-3.1 0 L-1.6 -2.9 M-3.1 0 L-1.6 2.9 M-0.7 0 L0.8 -2.9 M-0.7 0 L0.8 2.9 M1.7 0 L3.2 -2.9 M1.7 0 L3.2 2.9 M3.7 0 L5.2 -2.9 M3.7 0 L5.2 2.9" stroke="#58a524" stroke-width="0.35" fill="none" opacity="0.8"/></g><g transform="translate(499.5 42.5) rotate(-80.0)"><path d="M-3.2 0 C-1.9 -2.2 1.8 -2.1 3.2 0 C1.8 2.1 -1.9 2.2 -3.2 0Z" fill="#6fbb2e" stroke="#4e9a1e" stroke-width="0.5"/></g><g transform="translate(502.3 46.5) rotate(5.0)"><path d="M-3.2 0 C-1.9 -2.2 1.8 -2.1 3.2 0 C1.8 2.1 -1.9 2.2 -3.2 0Z" fill="#74c030" stroke="#4e9a1e" stroke-width="0.5"/></g><g transform="translate(496.3 48.7) rotate(140.0)"><path d="M-3.0 0 C-1.8 -2.2 1.7 -2.1 3.0 0 C1.7 2.1 -1.8 2.2 -3.0 0Z" fill="#6fbb2e" stroke="#4e9a1e" stroke-width="0.5"/></g><g transform="translate(500.3 50.2) rotate(80.0)"><path d="M-3.0 0 C-1.8 -2.1 1.7 -2.0 3.0 0 C1.7 2.0 -1.8 2.1 -3.0 0Z" fill="#78c434" stroke="#4e9a1e" stroke-width="0.5"/></g><circle cx="498.8" cy="46.3" r="1.6" fill="#4e9a1e"/>
<clipPath id="cpL"><path d="M602.6 226.0C602.5 220.0 602.7 223.7 602.6 220.0C602.5 216.3 603.0 218.0 602.2 215.0C601.4 212.0 600.2 214.0 600.3 211.0C600.4 208.0 601.6 209.0 602.4 206.0C603.2 203.0 603.2 204.3 602.6 202.0C602.0 199.7 600.7 201.3 600.6 199.0C600.5 196.7 601.9 198.0 602.4 195.0C602.9 192.0 602.9 193.0 602.2 190.0C601.5 187.0 600.7 188.5 600.4 186.0C600.1 183.5 601.6 184.6 601.2 182.5C600.8 180.4 601.1 181.2 599.2 179.6C597.3 178.0 598.6 178.8 595.5 177.8C592.4 176.8 593.8 177.3 590.0 176.7C586.2 176.1 587.8 176.1 584.0 176.1C580.2 176.1 581.4 176.0 578.5 176.6C575.6 177.2 576.9 176.7 575.2 178.0C573.5 179.3 574.7 180.5 573.4 180.6C572.1 180.7 573.4 178.8 571.4 178.4C569.4 178.0 570.3 178.4 567.5 179.4C564.7 180.4 565.8 180.0 563.0 181.4C560.2 182.8 561.1 181.9 559.2 183.6C557.3 185.3 558.6 186.1 557.3 186.6C556.0 187.1 557.2 184.9 555.3 185.0C553.4 185.1 554.0 185.5 551.5 186.8C549.0 188.1 549.8 187.5 547.8 189.0C545.8 190.5 546.6 189.7 545.5 191.4C544.4 193.1 545.6 193.6 544.6 194.2C543.6 194.8 544.2 192.9 542.6 193.3C541.0 193.7 541.8 193.6 539.8 195.4C537.8 197.2 538.7 196.2 536.6 198.6C534.5 201.0 535.4 199.9 533.4 202.6C531.4 205.3 532.1 204.3 530.6 206.6C529.1 208.9 529.6 207.6 528.9 209.6C528.2 211.6 529.4 211.6 528.6 212.6C527.8 213.6 527.8 211.4 526.4 212.6C525.0 213.8 525.6 213.7 524.3 216.2C523.0 218.7 523.1 217.3 522.4 220.0C521.7 222.7 523.0 222.8 522.2 224.3C521.4 225.8 521.5 223.0 520.0 224.4C518.5 225.8 519.1 225.6 517.8 228.5C516.5 231.4 516.9 230.2 516.0 233.0C515.1 235.8 515.0 234.7 515.2 237.0C515.4 239.3 516.9 238.3 516.6 240.0C516.3 241.7 515.4 239.9 514.3 242.2C513.2 244.5 513.7 243.7 513.3 247.0C512.9 250.3 513.1 248.7 513.1 252.0C513.1 255.3 512.7 254.1 513.4 257.0C514.1 259.9 514.9 258.3 515.2 260.6C515.5 262.9 514.2 261.3 514.3 264.0C514.4 266.7 514.8 265.6 515.6 268.6C516.4 271.6 516.0 270.0 516.6 273.0C517.2 276.0 516.3 274.4 517.4 277.6C518.5 280.8 517.8 279.5 519.8 282.6C521.8 285.7 520.8 284.3 523.4 287.0C526.0 289.7 524.7 288.6 527.6 290.6C530.5 292.6 528.9 291.6 532.0 292.9C535.1 294.2 533.8 293.3 537.0 294.5C540.2 295.7 538.9 294.9 541.6 296.4C544.3 297.9 542.7 297.1 545.0 299.0C547.3 300.9 546.1 300.2 548.6 302.0C551.1 303.8 549.8 303.1 552.6 304.5C555.4 305.9 554.1 305.5 557.0 306.1C559.9 306.7 558.8 306.8 561.3 306.4C563.8 306.0 562.5 306.4 564.6 305.0C566.7 303.6 565.7 302.3 567.6 302.2C569.5 302.1 568.4 304.3 570.4 304.6C572.4 304.9 571.4 303.4 573.6 303.0C575.8 302.6 574.7 303.8 577.0 303.5C579.3 303.2 578.3 303.1 580.4 302.0C582.5 300.9 581.4 301.8 583.4 300.3C585.4 298.8 584.8 299.5 586.4 297.4C588.0 295.3 587.8 296.5 588.2 294.0C588.6 291.5 588.4 292.4 587.6 290.0C586.8 287.6 585.5 288.7 585.8 286.8C586.1 284.9 586.5 285.6 588.6 284.2C590.7 282.8 589.7 283.6 592.2 282.6C594.7 281.6 593.5 282.5 596.0 281.2C598.5 279.9 597.6 280.6 599.6 278.8C601.6 277.0 600.9 278.1 602.0 275.8C603.1 273.5 602.5 276.6 602.8 272.0C603.1 267.4 602.9 269.3 603.0 262.0C603.1 254.7 603.0 258.0 603.0 250.0C603.0 242.0 603.1 246.0 603.0 238.0C602.9 230.0 602.7 232.0 602.6 226.0Z"/></clipPath><path d="M602.6 226.0C602.5 220.0 602.7 223.7 602.6 220.0C602.5 216.3 603.0 218.0 602.2 215.0C601.4 212.0 600.2 214.0 600.3 211.0C600.4 208.0 601.6 209.0 602.4 206.0C603.2 203.0 603.2 204.3 602.6 202.0C602.0 199.7 600.7 201.3 600.6 199.0C600.5 196.7 601.9 198.0 602.4 195.0C602.9 192.0 602.9 193.0 602.2 190.0C601.5 187.0 600.7 188.5 600.4 186.0C600.1 183.5 601.6 184.6 601.2 182.5C600.8 180.4 601.1 181.2 599.2 179.6C597.3 178.0 598.6 178.8 595.5 177.8C592.4 176.8 593.8 177.3 590.0 176.7C586.2 176.1 587.8 176.1 584.0 176.1C580.2 176.1 581.4 176.0 578.5 176.6C575.6 177.2 576.9 176.7 575.2 178.0C573.5 179.3 574.7 180.5 573.4 180.6C572.1 180.7 573.4 178.8 571.4 178.4C569.4 178.0 570.3 178.4 567.5 179.4C564.7 180.4 565.8 180.0 563.0 181.4C560.2 182.8 561.1 181.9 559.2 183.6C557.3 185.3 558.6 186.1 557.3 186.6C556.0 187.1 557.2 184.9 555.3 185.0C553.4 185.1 554.0 185.5 551.5 186.8C549.0 188.1 549.8 187.5 547.8 189.0C545.8 190.5 546.6 189.7 545.5 191.4C544.4 193.1 545.6 193.6 544.6 194.2C543.6 194.8 544.2 192.9 542.6 193.3C541.0 193.7 541.8 193.6 539.8 195.4C537.8 197.2 538.7 196.2 536.6 198.6C534.5 201.0 535.4 199.9 533.4 202.6C531.4 205.3 532.1 204.3 530.6 206.6C529.1 208.9 529.6 207.6 528.9 209.6C528.2 211.6 529.4 211.6 528.6 212.6C527.8 213.6 527.8 211.4 526.4 212.6C525.0 213.8 525.6 213.7 524.3 216.2C523.0 218.7 523.1 217.3 522.4 220.0C521.7 222.7 523.0 222.8 522.2 224.3C521.4 225.8 521.5 223.0 520.0 224.4C518.5 225.8 519.1 225.6 517.8 228.5C516.5 231.4 516.9 230.2 516.0 233.0C515.1 235.8 515.0 234.7 515.2 237.0C515.4 239.3 516.9 238.3 516.6 240.0C516.3 241.7 515.4 239.9 514.3 242.2C513.2 244.5 513.7 243.7 513.3 247.0C512.9 250.3 513.1 248.7 513.1 252.0C513.1 255.3 512.7 254.1 513.4 257.0C514.1 259.9 514.9 258.3 515.2 260.6C515.5 262.9 514.2 261.3 514.3 264.0C514.4 266.7 514.8 265.6 515.6 268.6C516.4 271.6 516.0 270.0 516.6 273.0C517.2 276.0 516.3 274.4 517.4 277.6C518.5 280.8 517.8 279.5 519.8 282.6C521.8 285.7 520.8 284.3 523.4 287.0C526.0 289.7 524.7 288.6 527.6 290.6C530.5 292.6 528.9 291.6 532.0 292.9C535.1 294.2 533.8 293.3 537.0 294.5C540.2 295.7 538.9 294.9 541.6 296.4C544.3 297.9 542.7 297.1 545.0 299.0C547.3 300.9 546.1 300.2 548.6 302.0C551.1 303.8 549.8 303.1 552.6 304.5C555.4 305.9 554.1 305.5 557.0 306.1C559.9 306.7 558.8 306.8 561.3 306.4C563.8 306.0 562.5 306.4 564.6 305.0C566.7 303.6 565.7 302.3 567.6 302.2C569.5 302.1 568.4 304.3 570.4 304.6C572.4 304.9 571.4 303.4 573.6 303.0C575.8 302.6 574.7 303.8 577.0 303.5C579.3 303.2 578.3 303.1 580.4 302.0C582.5 300.9 581.4 301.8 583.4 300.3C585.4 298.8 584.8 299.5 586.4 297.4C588.0 295.3 587.8 296.5 588.2 294.0C588.6 291.5 588.4 292.4 587.6 290.0C586.8 287.6 585.5 288.7 585.8 286.8C586.1 284.9 586.5 285.6 588.6 284.2C590.7 282.8 589.7 283.6 592.2 282.6C594.7 281.6 593.5 282.5 596.0 281.2C598.5 279.9 597.6 280.6 599.6 278.8C601.6 277.0 600.9 278.1 602.0 275.8C603.1 273.5 602.5 276.6 602.8 272.0C603.1 267.4 602.9 269.3 603.0 262.0C603.1 254.7 603.0 258.0 603.0 250.0C603.0 242.0 603.1 246.0 603.0 238.0C602.9 230.0 602.7 232.0 602.6 226.0Z" fill="#22332f" stroke="#22332f" stroke-width="1.0" transform="translate(0.3 0.6)" opacity="0.9"/><g clip-path="url(#cpLow)"><path d="M602.6 226.0C602.5 220.0 602.7 223.7 602.6 220.0C602.5 216.3 603.0 218.0 602.2 215.0C601.4 212.0 600.2 214.0 600.3 211.0C600.4 208.0 601.6 209.0 602.4 206.0C603.2 203.0 603.2 204.3 602.6 202.0C602.0 199.7 600.7 201.3 600.6 199.0C600.5 196.7 601.9 198.0 602.4 195.0C602.9 192.0 602.9 193.0 602.2 190.0C601.5 187.0 600.7 188.5 600.4 186.0C600.1 183.5 601.6 184.6 601.2 182.5C600.8 180.4 601.1 181.2 599.2 179.6C597.3 178.0 598.6 178.8 595.5 177.8C592.4 176.8 593.8 177.3 590.0 176.7C586.2 176.1 587.8 176.1 584.0 176.1C580.2 176.1 581.4 176.0 578.5 176.6C575.6 177.2 576.9 176.7 575.2 178.0C573.5 179.3 574.7 180.5 573.4 180.6C572.1 180.7 573.4 178.8 571.4 178.4C569.4 178.0 570.3 178.4 567.5 179.4C564.7 180.4 565.8 180.0 563.0 181.4C560.2 182.8 561.1 181.9 559.2 183.6C557.3 185.3 558.6 186.1 557.3 186.6C556.0 187.1 557.2 184.9 555.3 185.0C553.4 185.1 554.0 185.5 551.5 186.8C549.0 188.1 549.8 187.5 547.8 189.0C545.8 190.5 546.6 189.7 545.5 191.4C544.4 193.1 545.6 193.6 544.6 194.2C543.6 194.8 544.2 192.9 542.6 193.3C541.0 193.7 541.8 193.6 539.8 195.4C537.8 197.2 538.7 196.2 536.6 198.6C534.5 201.0 535.4 199.9 533.4 202.6C531.4 205.3 532.1 204.3 530.6 206.6C529.1 208.9 529.6 207.6 528.9 209.6C528.2 211.6 529.4 211.6 528.6 212.6C527.8 213.6 527.8 211.4 526.4 212.6C525.0 213.8 525.6 213.7 524.3 216.2C523.0 218.7 523.1 217.3 522.4 220.0C521.7 222.7 523.0 222.8 522.2 224.3C521.4 225.8 521.5 223.0 520.0 224.4C518.5 225.8 519.1 225.6 517.8 228.5C516.5 231.4 516.9 230.2 516.0 233.0C515.1 235.8 515.0 234.7 515.2 237.0C515.4 239.3 516.9 238.3 516.6 240.0C516.3 241.7 515.4 239.9 514.3 242.2C513.2 244.5 513.7 243.7 513.3 247.0C512.9 250.3 513.1 248.7 513.1 252.0C513.1 255.3 512.7 254.1 513.4 257.0C514.1 259.9 514.9 258.3 515.2 260.6C515.5 262.9 514.2 261.3 514.3 264.0C514.4 266.7 514.8 265.6 515.6 268.6C516.4 271.6 516.0 270.0 516.6 273.0C517.2 276.0 516.3 274.4 517.4 277.6C518.5 280.8 517.8 279.5 519.8 282.6C521.8 285.7 520.8 284.3 523.4 287.0C526.0 289.7 524.7 288.6 527.6 290.6C530.5 292.6 528.9 291.6 532.0 292.9C535.1 294.2 533.8 293.3 537.0 294.5C540.2 295.7 538.9 294.9 541.6 296.4C544.3 297.9 542.7 297.1 545.0 299.0C547.3 300.9 546.1 300.2 548.6 302.0C551.1 303.8 549.8 303.1 552.6 304.5C555.4 305.9 554.1 305.5 557.0 306.1C559.9 306.7 558.8 306.8 561.3 306.4C563.8 306.0 562.5 306.4 564.6 305.0C566.7 303.6 565.7 302.3 567.6 302.2C569.5 302.1 568.4 304.3 570.4 304.6C572.4 304.9 571.4 303.4 573.6 303.0C575.8 302.6 574.7 303.8 577.0 303.5C579.3 303.2 578.3 303.1 580.4 302.0C582.5 300.9 581.4 301.8 583.4 300.3C585.4 298.8 584.8 299.5 586.4 297.4C588.0 295.3 587.8 296.5 588.2 294.0C588.6 291.5 588.4 292.4 587.6 290.0C586.8 287.6 585.5 288.7 585.8 286.8C586.1 284.9 586.5 285.6 588.6 284.2C590.7 282.8 589.7 283.6 592.2 282.6C594.7 281.6 593.5 282.5 596.0 281.2C598.5 279.9 597.6 280.6 599.6 278.8C601.6 277.0 600.9 278.1 602.0 275.8C603.1 273.5 602.5 276.6 602.8 272.0C603.1 267.4 602.9 269.3 603.0 262.0C603.1 254.7 603.0 258.0 603.0 250.0C603.0 242.0 603.1 246.0 603.0 238.0C602.9 230.0 602.7 232.0 602.6 226.0Z" fill="#22332f" stroke="#22332f" stroke-width="2.0" transform="translate(0.7 2.1)" opacity="0.95"/></g><path d="M602.6 226.0C602.5 220.0 602.7 223.7 602.6 220.0C602.5 216.3 603.0 218.0 602.2 215.0C601.4 212.0 600.2 214.0 600.3 211.0C600.4 208.0 601.6 209.0 602.4 206.0C603.2 203.0 603.2 204.3 602.6 202.0C602.0 199.7 600.7 201.3 600.6 199.0C600.5 196.7 601.9 198.0 602.4 195.0C602.9 192.0 602.9 193.0 602.2 190.0C601.5 187.0 600.7 188.5 600.4 186.0C600.1 183.5 601.6 184.6 601.2 182.5C600.8 180.4 601.1 181.2 599.2 179.6C597.3 178.0 598.6 178.8 595.5 177.8C592.4 176.8 593.8 177.3 590.0 176.7C586.2 176.1 587.8 176.1 584.0 176.1C580.2 176.1 581.4 176.0 578.5 176.6C575.6 177.2 576.9 176.7 575.2 178.0C573.5 179.3 574.7 180.5 573.4 180.6C572.1 180.7 573.4 178.8 571.4 178.4C569.4 178.0 570.3 178.4 567.5 179.4C564.7 180.4 565.8 180.0 563.0 181.4C560.2 182.8 561.1 181.9 559.2 183.6C557.3 185.3 558.6 186.1 557.3 186.6C556.0 187.1 557.2 184.9 555.3 185.0C553.4 185.1 554.0 185.5 551.5 186.8C549.0 188.1 549.8 187.5 547.8 189.0C545.8 190.5 546.6 189.7 545.5 191.4C544.4 193.1 545.6 193.6 544.6 194.2C543.6 194.8 544.2 192.9 542.6 193.3C541.0 193.7 541.8 193.6 539.8 195.4C537.8 197.2 538.7 196.2 536.6 198.6C534.5 201.0 535.4 199.9 533.4 202.6C531.4 205.3 532.1 204.3 530.6 206.6C529.1 208.9 529.6 207.6 528.9 209.6C528.2 211.6 529.4 211.6 528.6 212.6C527.8 213.6 527.8 211.4 526.4 212.6C525.0 213.8 525.6 213.7 524.3 216.2C523.0 218.7 523.1 217.3 522.4 220.0C521.7 222.7 523.0 222.8 522.2 224.3C521.4 225.8 521.5 223.0 520.0 224.4C518.5 225.8 519.1 225.6 517.8 228.5C516.5 231.4 516.9 230.2 516.0 233.0C515.1 235.8 515.0 234.7 515.2 237.0C515.4 239.3 516.9 238.3 516.6 240.0C516.3 241.7 515.4 239.9 514.3 242.2C513.2 244.5 513.7 243.7 513.3 247.0C512.9 250.3 513.1 248.7 513.1 252.0C513.1 255.3 512.7 254.1 513.4 257.0C514.1 259.9 514.9 258.3 515.2 260.6C515.5 262.9 514.2 261.3 514.3 264.0C514.4 266.7 514.8 265.6 515.6 268.6C516.4 271.6 516.0 270.0 516.6 273.0C517.2 276.0 516.3 274.4 517.4 277.6C518.5 280.8 517.8 279.5 519.8 282.6C521.8 285.7 520.8 284.3 523.4 287.0C526.0 289.7 524.7 288.6 527.6 290.6C530.5 292.6 528.9 291.6 532.0 292.9C535.1 294.2 533.8 293.3 537.0 294.5C540.2 295.7 538.9 294.9 541.6 296.4C544.3 297.9 542.7 297.1 545.0 299.0C547.3 300.9 546.1 300.2 548.6 302.0C551.1 303.8 549.8 303.1 552.6 304.5C555.4 305.9 554.1 305.5 557.0 306.1C559.9 306.7 558.8 306.8 561.3 306.4C563.8 306.0 562.5 306.4 564.6 305.0C566.7 303.6 565.7 302.3 567.6 302.2C569.5 302.1 568.4 304.3 570.4 304.6C572.4 304.9 571.4 303.4 573.6 303.0C575.8 302.6 574.7 303.8 577.0 303.5C579.3 303.2 578.3 303.1 580.4 302.0C582.5 300.9 581.4 301.8 583.4 300.3C585.4 298.8 584.8 299.5 586.4 297.4C588.0 295.3 587.8 296.5 588.2 294.0C588.6 291.5 588.4 292.4 587.6 290.0C586.8 287.6 585.5 288.7 585.8 286.8C586.1 284.9 586.5 285.6 588.6 284.2C590.7 282.8 589.7 283.6 592.2 282.6C594.7 281.6 593.5 282.5 596.0 281.2C598.5 279.9 597.6 280.6 599.6 278.8C601.6 277.0 600.9 278.1 602.0 275.8C603.1 273.5 602.5 276.6 602.8 272.0C603.1 267.4 602.9 269.3 603.0 262.0C603.1 254.7 603.0 258.0 603.0 250.0C603.0 242.0 603.1 246.0 603.0 238.0C602.9 230.0 602.7 232.0 602.6 226.0Z" fill="url(#gWML)"/><g clip-path="url(#cpL)" fill="none" stroke-linecap="round" stroke-linejoin="round"><g filter="url(#fBl)" stroke="#c3d1cd"><path d="M602.6 226.0C602.5 220.0 602.7 223.7 602.6 220.0C602.5 216.3 603.0 218.0 602.2 215.0C601.4 212.0 600.2 214.0 600.3 211.0C600.4 208.0 601.6 209.0 602.4 206.0C603.2 203.0 603.2 204.3 602.6 202.0C602.0 199.7 600.7 201.3 600.6 199.0C600.5 196.7 601.9 198.0 602.4 195.0C602.9 192.0 602.9 193.0 602.2 190.0C601.5 187.0 600.7 188.5 600.4 186.0C600.1 183.5 601.6 184.6 601.2 182.5C600.8 180.4 601.1 181.2 599.2 179.6C597.3 178.0 598.6 178.8 595.5 177.8C592.4 176.8 593.8 177.3 590.0 176.7C586.2 176.1 587.8 176.1 584.0 176.1C580.2 176.1 581.4 176.0 578.5 176.6C575.6 177.2 576.9 176.7 575.2 178.0C573.5 179.3 574.7 180.5 573.4 180.6C572.1 180.7 573.4 178.8 571.4 178.4C569.4 178.0 570.3 178.4 567.5 179.4C564.7 180.4 565.8 180.0 563.0 181.4C560.2 182.8 561.1 181.9 559.2 183.6C557.3 185.3 558.6 186.1 557.3 186.6C556.0 187.1 557.2 184.9 555.3 185.0C553.4 185.1 554.0 185.5 551.5 186.8C549.0 188.1 549.8 187.5 547.8 189.0C545.8 190.5 546.6 189.7 545.5 191.4C544.4 193.1 545.6 193.6 544.6 194.2C543.6 194.8 544.2 192.9 542.6 193.3C541.0 193.7 541.8 193.6 539.8 195.4C537.8 197.2 538.7 196.2 536.6 198.6C534.5 201.0 535.4 199.9 533.4 202.6C531.4 205.3 532.1 204.3 530.6 206.6C529.1 208.9 529.6 207.6 528.9 209.6C528.2 211.6 529.4 211.6 528.6 212.6C527.8 213.6 527.8 211.4 526.4 212.6C525.0 213.8 525.6 213.7 524.3 216.2C523.0 218.7 523.1 217.3 522.4 220.0C521.7 222.7 523.0 222.8 522.2 224.3C521.4 225.8 521.5 223.0 520.0 224.4C518.5 225.8 519.1 225.6 517.8 228.5C516.5 231.4 516.9 230.2 516.0 233.0C515.1 235.8 515.0 234.7 515.2 237.0C515.4 239.3 516.9 238.3 516.6 240.0C516.3 241.7 515.4 239.9 514.3 242.2C513.2 244.5 513.7 243.7 513.3 247.0C512.9 250.3 513.1 248.7 513.1 252.0C513.1 255.3 512.7 254.1 513.4 257.0C514.1 259.9 514.9 258.3 515.2 260.6C515.5 262.9 514.2 261.3 514.3 264.0C514.4 266.7 514.8 265.6 515.6 268.6C516.4 271.6 516.0 270.0 516.6 273.0C517.2 276.0 516.3 274.4 517.4 277.6C518.5 280.8 517.8 279.5 519.8 282.6C521.8 285.7 520.8 284.3 523.4 287.0C526.0 289.7 524.7 288.6 527.6 290.6C530.5 292.6 528.9 291.6 532.0 292.9C535.1 294.2 533.8 293.3 537.0 294.5C540.2 295.7 538.9 294.9 541.6 296.4C544.3 297.9 542.7 297.1 545.0 299.0C547.3 300.9 546.1 300.2 548.6 302.0C551.1 303.8 549.8 303.1 552.6 304.5C555.4 305.9 554.1 305.5 557.0 306.1C559.9 306.7 558.8 306.8 561.3 306.4C563.8 306.0 562.5 306.4 564.6 305.0C566.7 303.6 565.7 302.3 567.6 302.2C569.5 302.1 568.4 304.3 570.4 304.6C572.4 304.9 571.4 303.4 573.6 303.0C575.8 302.6 574.7 303.8 577.0 303.5C579.3 303.2 578.3 303.1 580.4 302.0C582.5 300.9 581.4 301.8 583.4 300.3C585.4 298.8 584.8 299.5 586.4 297.4C588.0 295.3 587.8 296.5 588.2 294.0C588.6 291.5 588.4 292.4 587.6 290.0C586.8 287.6 585.5 288.7 585.8 286.8C586.1 284.9 586.5 285.6 588.6 284.2C590.7 282.8 589.7 283.6 592.2 282.6C594.7 281.6 593.5 282.5 596.0 281.2C598.5 279.9 597.6 280.6 599.6 278.8C601.6 277.0 600.9 278.1 602.0 275.8C603.1 273.5 602.5 276.6 602.8 272.0C603.1 267.4 602.9 269.3 603.0 262.0C603.1 254.7 603.0 258.0 603.0 250.0C603.0 242.0 603.1 246.0 603.0 238.0C602.9 230.0 602.7 232.0 602.6 226.0Z" stroke-width="10.8"/><path d="M573.4 180.0C573.5 180.7 573.6 182.7 573.8 184.0C573.9 185.3 574.2 187.0 574.3 187.6 M557.2 186.0C557.7 186.8 559.1 188.9 560.0 190.5C560.9 192.1 561.9 193.9 562.8 195.6C563.7 197.2 564.9 199.6 565.3 200.4 M544.5 193.6C545.0 194.3 546.0 196.4 547.2 198.0C548.4 199.6 549.9 201.4 551.5 203.0C553.1 204.6 556.1 207.0 557.0 207.8 M528.4 212.0C529.1 212.6 531.0 214.3 532.5 215.6C534.0 216.8 536.4 218.8 537.2 219.5 M522.0 224.0C522.7 224.6 524.5 226.2 526.0 227.6C527.5 229.0 530.0 231.6 530.8 232.4 M515.8 240.0C516.8 240.3 519.8 241.2 522.0 242.0C524.2 242.8 526.7 243.8 529.0 244.6C531.3 245.4 534.7 246.5 535.8 246.9 M535.8 246.9C536.4 246.2 538.4 244.0 539.4 242.6C540.4 241.2 541.2 239.9 542.0 238.6C542.8 237.3 543.8 235.3 544.2 234.6 M535.8 246.9C536.8 247.1 539.7 247.6 542.0 248.0C544.3 248.4 548.5 249.2 549.8 249.5 M535.8 246.9C536.3 247.6 538.0 249.6 539.0 251.0C540.0 252.4 540.9 253.9 541.6 255.4C542.4 256.9 543.2 259.1 543.5 259.8 M514.8 260.6C515.7 260.8 518.1 261.1 520.0 261.6C521.9 262.1 524.0 262.9 526.0 263.8C528.0 264.7 530.2 265.9 532.0 267.0C533.8 268.1 535.8 269.8 536.6 270.4 M524.0 284.0C524.6 283.2 526.1 280.8 527.5 279.5C528.9 278.2 530.8 276.8 532.5 276.0C534.2 275.2 536.4 274.8 538.0 275.0C539.6 275.2 541.3 277.0 542.0 277.4 M600.8 185.4C600.1 185.6 598.0 185.9 596.5 186.4C595.0 186.9 593.1 187.7 591.6 188.6C590.1 189.5 587.9 191.3 587.2 191.8 M601.0 199.0C600.3 199.0 598.3 199.1 597.0 199.2C595.7 199.3 593.8 199.4 593.2 199.5 M600.6 211.0C600.2 211.3 598.8 212.2 598.0 213.0C597.2 213.8 596.2 215.1 595.8 215.5 M567.6 302.6C567.5 301.8 567.4 299.2 567.2 297.6C567.0 296.0 566.5 293.8 566.4 293.0 M574.0 303.5C574.0 302.8 573.9 300.3 573.8 299.0C573.7 297.7 573.3 296.2 573.2 295.6 M599.0 279.6C597.7 279.7 593.8 280.1 591.0 280.2C588.2 280.3 585.0 280.5 582.0 280.5C579.0 280.5 575.5 280.6 573.0 280.4C570.5 280.2 568.5 280.1 567.0 279.4C565.5 278.7 564.5 277.2 564.0 276.0C563.5 274.8 563.7 273.4 564.2 272.4C564.7 271.4 565.4 270.5 567.0 270.0C568.6 269.5 571.5 269.7 574.0 269.6C576.5 269.5 579.4 269.5 582.0 269.5C584.6 269.5 588.3 269.4 589.6 269.4" stroke-width="9.3"/></g><path d="M516.0 262.0C516.3 263.7 517.0 268.8 518.0 272.0C519.0 275.2 520.2 278.3 522.0 281.0C523.8 283.7 526.3 286.1 529.0 288.0C531.7 289.9 536.5 291.8 538.0 292.5" stroke="#8ca6a0" stroke-width="7.5"/><path d="M541.0 296.0C542.5 296.8 546.8 299.8 550.0 301.0C553.2 302.2 558.3 302.7 560.0 303.0" stroke="#8ca6a0" stroke-width="5.5"/><path d="M602.6 226.0C602.5 220.0 602.7 223.7 602.6 220.0C602.5 216.3 603.0 218.0 602.2 215.0C601.4 212.0 600.2 214.0 600.3 211.0C600.4 208.0 601.6 209.0 602.4 206.0C603.2 203.0 603.2 204.3 602.6 202.0C602.0 199.7 600.7 201.3 600.6 199.0C600.5 196.7 601.9 198.0 602.4 195.0C602.9 192.0 602.9 193.0 602.2 190.0C601.5 187.0 600.7 188.5 600.4 186.0C600.1 183.5 601.6 184.6 601.2 182.5C600.8 180.4 601.1 181.2 599.2 179.6C597.3 178.0 598.6 178.8 595.5 177.8C592.4 176.8 593.8 177.3 590.0 176.7C586.2 176.1 587.8 176.1 584.0 176.1C580.2 176.1 581.4 176.0 578.5 176.6C575.6 177.2 576.9 176.7 575.2 178.0C573.5 179.3 574.7 180.5 573.4 180.6C572.1 180.7 573.4 178.8 571.4 178.4C569.4 178.0 570.3 178.4 567.5 179.4C564.7 180.4 565.8 180.0 563.0 181.4C560.2 182.8 561.1 181.9 559.2 183.6C557.3 185.3 558.6 186.1 557.3 186.6C556.0 187.1 557.2 184.9 555.3 185.0C553.4 185.1 554.0 185.5 551.5 186.8C549.0 188.1 549.8 187.5 547.8 189.0C545.8 190.5 546.6 189.7 545.5 191.4C544.4 193.1 545.6 193.6 544.6 194.2C543.6 194.8 544.2 192.9 542.6 193.3C541.0 193.7 541.8 193.6 539.8 195.4C537.8 197.2 538.7 196.2 536.6 198.6C534.5 201.0 535.4 199.9 533.4 202.6C531.4 205.3 532.1 204.3 530.6 206.6C529.1 208.9 529.6 207.6 528.9 209.6C528.2 211.6 529.4 211.6 528.6 212.6C527.8 213.6 527.8 211.4 526.4 212.6C525.0 213.8 525.6 213.7 524.3 216.2C523.0 218.7 523.1 217.3 522.4 220.0C521.7 222.7 523.0 222.8 522.2 224.3C521.4 225.8 521.5 223.0 520.0 224.4C518.5 225.8 519.1 225.6 517.8 228.5C516.5 231.4 516.9 230.2 516.0 233.0C515.1 235.8 515.0 234.7 515.2 237.0C515.4 239.3 516.9 238.3 516.6 240.0C516.3 241.7 515.4 239.9 514.3 242.2C513.2 244.5 513.7 243.7 513.3 247.0C512.9 250.3 513.1 248.7 513.1 252.0C513.1 255.3 512.7 254.1 513.4 257.0C514.1 259.9 514.9 258.3 515.2 260.6C515.5 262.9 514.2 261.3 514.3 264.0C514.4 266.7 514.8 265.6 515.6 268.6C516.4 271.6 516.0 270.0 516.6 273.0C517.2 276.0 516.3 274.4 517.4 277.6C518.5 280.8 517.8 279.5 519.8 282.6C521.8 285.7 520.8 284.3 523.4 287.0C526.0 289.7 524.7 288.6 527.6 290.6C530.5 292.6 528.9 291.6 532.0 292.9C535.1 294.2 533.8 293.3 537.0 294.5C540.2 295.7 538.9 294.9 541.6 296.4C544.3 297.9 542.7 297.1 545.0 299.0C547.3 300.9 546.1 300.2 548.6 302.0C551.1 303.8 549.8 303.1 552.6 304.5C555.4 305.9 554.1 305.5 557.0 306.1C559.9 306.7 558.8 306.8 561.3 306.4C563.8 306.0 562.5 306.4 564.6 305.0C566.7 303.6 565.7 302.3 567.6 302.2C569.5 302.1 568.4 304.3 570.4 304.6C572.4 304.9 571.4 303.4 573.6 303.0C575.8 302.6 574.7 303.8 577.0 303.5C579.3 303.2 578.3 303.1 580.4 302.0C582.5 300.9 581.4 301.8 583.4 300.3C585.4 298.8 584.8 299.5 586.4 297.4C588.0 295.3 587.8 296.5 588.2 294.0C588.6 291.5 588.4 292.4 587.6 290.0C586.8 287.6 585.5 288.7 585.8 286.8C586.1 284.9 586.5 285.6 588.6 284.2C590.7 282.8 589.7 283.6 592.2 282.6C594.7 281.6 593.5 282.5 596.0 281.2C598.5 279.9 597.6 280.6 599.6 278.8C601.6 277.0 600.9 278.1 602.0 275.8C603.1 273.5 602.5 276.6 602.8 272.0C603.1 267.4 602.9 269.3 603.0 262.0C603.1 254.7 603.0 258.0 603.0 250.0C603.0 242.0 603.1 246.0 603.0 238.0C602.9 230.0 602.7 232.0 602.6 226.0Z" stroke="#8ca6a0" stroke-width="6.4"/><path d="M573.4 180.0C573.5 180.7 573.6 182.7 573.8 184.0C573.9 185.3 574.2 187.0 574.3 187.6 M557.2 186.0C557.7 186.8 559.1 188.9 560.0 190.5C560.9 192.1 561.9 193.9 562.8 195.6C563.7 197.2 564.9 199.6 565.3 200.4 M544.5 193.6C545.0 194.3 546.0 196.4 547.2 198.0C548.4 199.6 549.9 201.4 551.5 203.0C553.1 204.6 556.1 207.0 557.0 207.8 M528.4 212.0C529.1 212.6 531.0 214.3 532.5 215.6C534.0 216.8 536.4 218.8 537.2 219.5 M522.0 224.0C522.7 224.6 524.5 226.2 526.0 227.6C527.5 229.0 530.0 231.6 530.8 232.4 M515.8 240.0C516.8 240.3 519.8 241.2 522.0 242.0C524.2 242.8 526.7 243.8 529.0 244.6C531.3 245.4 534.7 246.5 535.8 246.9 M535.8 246.9C536.4 246.2 538.4 244.0 539.4 242.6C540.4 241.2 541.2 239.9 542.0 238.6C542.8 237.3 543.8 235.3 544.2 234.6 M535.8 246.9C536.8 247.1 539.7 247.6 542.0 248.0C544.3 248.4 548.5 249.2 549.8 249.5 M535.8 246.9C536.3 247.6 538.0 249.6 539.0 251.0C540.0 252.4 540.9 253.9 541.6 255.4C542.4 256.9 543.2 259.1 543.5 259.8 M514.8 260.6C515.7 260.8 518.1 261.1 520.0 261.6C521.9 262.1 524.0 262.9 526.0 263.8C528.0 264.7 530.2 265.9 532.0 267.0C533.8 268.1 535.8 269.8 536.6 270.4 M524.0 284.0C524.6 283.2 526.1 280.8 527.5 279.5C528.9 278.2 530.8 276.8 532.5 276.0C534.2 275.2 536.4 274.8 538.0 275.0C539.6 275.2 541.3 277.0 542.0 277.4 M600.8 185.4C600.1 185.6 598.0 185.9 596.5 186.4C595.0 186.9 593.1 187.7 591.6 188.6C590.1 189.5 587.9 191.3 587.2 191.8 M601.0 199.0C600.3 199.0 598.3 199.1 597.0 199.2C595.7 199.3 593.8 199.4 593.2 199.5 M600.6 211.0C600.2 211.3 598.8 212.2 598.0 213.0C597.2 213.8 596.2 215.1 595.8 215.5 M567.6 302.6C567.5 301.8 567.4 299.2 567.2 297.6C567.0 296.0 566.5 293.8 566.4 293.0 M574.0 303.5C574.0 302.8 573.9 300.3 573.8 299.0C573.7 297.7 573.3 296.2 573.2 295.6 M599.0 279.6C597.7 279.7 593.8 280.1 591.0 280.2C588.2 280.3 585.0 280.5 582.0 280.5C579.0 280.5 575.5 280.6 573.0 280.4C570.5 280.2 568.5 280.1 567.0 279.4C565.5 278.7 564.5 277.2 564.0 276.0C563.5 274.8 563.7 273.4 564.2 272.4C564.7 271.4 565.4 270.5 567.0 270.0C568.6 269.5 571.5 269.7 574.0 269.6C576.5 269.5 579.4 269.5 582.0 269.5C584.6 269.5 588.3 269.4 589.6 269.4" stroke="#8ca6a0" stroke-width="5.6"/><path d="M515.8 240.0C516.8 240.3 519.8 241.2 522.0 242.0C524.2 242.8 526.7 243.8 529.0 244.6C531.3 245.4 534.7 246.5 535.8 246.9 M535.8 246.9C536.4 246.2 538.4 244.0 539.4 242.6C540.4 241.2 541.2 239.9 542.0 238.6C542.8 237.3 543.8 235.3 544.2 234.6 M535.8 246.9C536.8 247.1 539.7 247.6 542.0 248.0C544.3 248.4 548.5 249.2 549.8 249.5 M535.8 246.9C536.3 247.6 538.0 249.6 539.0 251.0C540.0 252.4 540.9 253.9 541.6 255.4C542.4 256.9 543.2 259.1 543.5 259.8 M524.0 284.0C524.6 283.2 526.1 280.8 527.5 279.5C528.9 278.2 530.8 276.8 532.5 276.0C534.2 275.2 536.4 274.8 538.0 275.0C539.6 275.2 541.3 277.0 542.0 277.4 M599.0 279.6C597.7 279.7 593.8 280.1 591.0 280.2C588.2 280.3 585.0 280.5 582.0 280.5C579.0 280.5 575.5 280.6 573.0 280.4C570.5 280.2 568.5 280.1 567.0 279.4C565.5 278.7 564.5 277.2 564.0 276.0C563.5 274.8 563.7 273.4 564.2 272.4C564.7 271.4 565.4 270.5 567.0 270.0C568.6 269.5 571.5 269.7 574.0 269.6C576.5 269.5 579.4 269.5 582.0 269.5C584.6 269.5 588.3 269.4 589.6 269.4" stroke="#35504b" stroke-width="1.0" opacity="0.9"/><path d="M572.2 178.9L572.3 180.1L572.5 181.1L572.7 182.1L572.9 183.1L573.1 184.1L573.3 185.0L573.6 185.9L573.8 186.8L574.1 187.6L574.5 187.6L574.5 186.6L574.5 185.7L574.5 184.8L574.5 183.9L574.5 182.9L574.5 181.9L574.5 180.9L574.5 179.9L574.4 178.7Z M555.6 185.6L556.3 186.6L557.0 187.7L557.8 188.8L558.5 189.9L559.3 190.9L560.0 192.2L560.8 193.4L561.5 194.6L562.3 195.9L563.0 197.0L563.7 198.2L564.4 199.4L565.1 200.5L565.5 200.3L565.0 199.0L564.4 197.8L563.9 196.6L563.3 195.3L562.7 194.0L562.0 192.7L561.4 191.4L560.7 190.1L560.1 188.9L559.4 187.7L558.8 186.6L558.1 185.4L557.5 184.4Z M542.9 193.2L543.6 194.2L544.3 195.2L545.0 196.3L545.7 197.4L546.5 198.5L547.7 199.8L548.8 201.0L549.9 202.2L551.1 203.4L552.5 204.6L554.0 205.7L555.4 206.9L556.8 208.0L557.2 207.6L555.9 206.3L554.5 205.1L553.2 203.8L551.9 202.6L550.9 201.3L549.9 200.0L548.9 198.7L547.9 197.5L547.3 196.4L546.7 195.3L546.1 194.2L545.4 193.0L544.8 192.0Z M526.8 212.0L527.7 212.8L528.8 213.7L529.8 214.5L530.9 215.3L532.0 216.2L533.3 217.1L534.5 217.9L535.8 218.8L537.0 219.7L537.4 219.3L536.3 218.2L535.2 217.2L534.1 216.1L533.0 215.0L532.0 214.1L531.1 213.1L530.1 212.1L529.1 211.2L528.2 210.4Z M520.4 224.0L521.3 224.8L522.3 225.7L523.4 226.5L524.4 227.3L525.5 228.1L526.7 229.3L528.0 230.4L529.3 231.5L530.6 232.6L531.0 232.2L529.9 230.9L528.8 229.6L527.7 228.3L526.5 227.1L525.6 226.1L524.6 225.1L523.7 224.1L522.7 223.2L521.8 222.4Z M513.4 261.5L514.6 261.7L515.9 261.9L517.2 262.1L518.5 262.3L519.7 262.5L521.2 263.0L522.7 263.5L524.2 264.0L525.7 264.5L527.2 265.2L528.7 265.9L530.2 266.7L531.7 267.4L532.9 268.2L534.1 269.0L535.3 269.8L536.5 270.6L536.7 270.2L535.6 269.3L534.5 268.4L533.4 267.5L532.3 266.6L530.8 265.7L529.3 264.9L527.8 264.0L526.3 263.1L524.8 262.5L523.3 261.9L521.8 261.3L520.3 260.7L518.9 260.4L517.6 260.1L516.3 259.8L515.0 259.5L513.8 259.3Z M601.7 184.1L600.6 184.3L599.5 184.6L598.4 184.9L597.4 185.2L596.2 185.6L594.9 186.2L593.7 186.8L592.6 187.4L591.3 188.1L590.2 189.0L589.1 189.9L588.1 190.7L587.1 191.6L587.3 192.0L588.5 191.3L589.7 190.5L590.8 189.8L591.9 189.1L593.1 188.7L594.4 188.2L595.6 187.7L596.8 187.2L597.8 187.1L598.9 186.9L600.0 186.7L601.0 186.5L602.2 186.2Z M602.1 197.8L600.9 197.9L599.9 198.0L599.0 198.2L598.0 198.4L597.0 198.5L596.0 198.7L595.1 198.9L594.1 199.0L593.2 199.3L593.2 199.7L594.2 199.8L595.1 199.8L596.1 199.9L597.0 199.9L598.0 199.9L599.0 200.0L600.1 200.1L601.1 200.1L602.3 200.0Z M600.9 209.4L599.9 210.1L599.3 210.7L598.7 211.3L598.2 211.9L597.5 212.5L597.0 213.2L596.5 213.9L596.1 214.6L595.6 215.3L596.0 215.7L596.6 215.1L597.3 214.6L597.9 214.0L598.5 213.5L599.1 213.1L599.9 212.7L600.6 212.3L601.3 211.9L602.2 211.1Z M568.8 303.7L568.7 302.5L568.5 301.3L568.3 300.0L568.1 298.8L567.9 297.5L567.6 296.3L567.3 295.2L567.0 294.1L566.6 293.0L566.2 293.0L566.2 294.2L566.3 295.4L566.4 296.6L566.5 297.7L566.5 298.9L566.5 300.2L566.5 301.4L566.5 302.7L566.6 303.9Z M575.2 304.6L575.1 303.5L574.9 302.3L574.8 301.2L574.6 300.1L574.4 298.9L574.2 298.1L574.0 297.2L573.7 296.4L573.4 295.6L573.0 295.6L573.0 296.5L573.0 297.4L573.1 298.2L573.2 299.1L573.1 300.2L573.0 301.3L573.0 302.4L572.9 303.5L573.0 304.7Z" fill="#3d5a55" stroke="none"/><path d="M518.0 241.0C519.0 241.3 522.0 242.3 524.0 243.0C526.0 243.7 528.0 244.5 530.0 245.2C532.0 245.8 534.8 246.6 535.8 246.9" stroke="#2c4540" stroke-width="1.9"/><path d="M535.8 246.9C536.4 246.2 538.4 244.0 539.4 242.6C540.4 241.2 541.3 239.8 542.0 238.6C542.7 237.4 543.3 236.1 543.6 235.6" stroke="#2c4540" stroke-width="1.9"/><path d="M535.8 246.9C536.8 247.1 539.9 247.6 542.0 248.0C544.1 248.4 547.5 249.1 548.6 249.3" stroke="#2c4540" stroke-width="1.9"/><path d="M535.8 246.9C536.3 247.6 538.0 249.6 539.0 251.0C540.0 252.4 540.9 254.1 541.6 255.4C542.3 256.7 542.8 258.2 543.0 258.8" stroke="#2c4540" stroke-width="1.9"/><path d="M572.8 275.3C574.0 275.3 577.2 275.3 580.0 275.2C582.8 275.1 588.0 274.9 589.6 274.8" stroke="#8ca6a0" stroke-width="0.8"/></g><ellipse cx="526.4" cy="279.2" rx="3.6" ry="1.9" transform="rotate(-35 526.4 279.2)" fill="#d3dfdb" filter="url(#fBl2)"/><path d="M602.6 226.0C602.5 220.0 602.7 223.7 602.6 220.0C602.5 216.3 603.0 218.0 602.2 215.0C601.4 212.0 600.2 214.0 600.3 211.0C600.4 208.0 601.6 209.0 602.4 206.0C603.2 203.0 603.2 204.3 602.6 202.0C602.0 199.7 600.7 201.3 600.6 199.0C600.5 196.7 601.9 198.0 602.4 195.0C602.9 192.0 602.9 193.0 602.2 190.0C601.5 187.0 600.7 188.5 600.4 186.0C600.1 183.5 601.6 184.6 601.2 182.5C600.8 180.4 601.1 181.2 599.2 179.6C597.3 178.0 598.6 178.8 595.5 177.8C592.4 176.8 593.8 177.3 590.0 176.7C586.2 176.1 587.8 176.1 584.0 176.1C580.2 176.1 581.4 176.0 578.5 176.6C575.6 177.2 576.9 176.7 575.2 178.0C573.5 179.3 574.7 180.5 573.4 180.6C572.1 180.7 573.4 178.8 571.4 178.4C569.4 178.0 570.3 178.4 567.5 179.4C564.7 180.4 565.8 180.0 563.0 181.4C560.2 182.8 561.1 181.9 559.2 183.6C557.3 185.3 558.6 186.1 557.3 186.6C556.0 187.1 557.2 184.9 555.3 185.0C553.4 185.1 554.0 185.5 551.5 186.8C549.0 188.1 549.8 187.5 547.8 189.0C545.8 190.5 546.6 189.7 545.5 191.4C544.4 193.1 545.6 193.6 544.6 194.2C543.6 194.8 544.2 192.9 542.6 193.3C541.0 193.7 541.8 193.6 539.8 195.4C537.8 197.2 538.7 196.2 536.6 198.6C534.5 201.0 535.4 199.9 533.4 202.6C531.4 205.3 532.1 204.3 530.6 206.6C529.1 208.9 529.6 207.6 528.9 209.6C528.2 211.6 529.4 211.6 528.6 212.6C527.8 213.6 527.8 211.4 526.4 212.6C525.0 213.8 525.6 213.7 524.3 216.2C523.0 218.7 523.1 217.3 522.4 220.0C521.7 222.7 523.0 222.8 522.2 224.3C521.4 225.8 521.5 223.0 520.0 224.4C518.5 225.8 519.1 225.6 517.8 228.5C516.5 231.4 516.9 230.2 516.0 233.0C515.1 235.8 515.0 234.7 515.2 237.0C515.4 239.3 516.9 238.3 516.6 240.0C516.3 241.7 515.4 239.9 514.3 242.2C513.2 244.5 513.7 243.7 513.3 247.0C512.9 250.3 513.1 248.7 513.1 252.0C513.1 255.3 512.7 254.1 513.4 257.0C514.1 259.9 514.9 258.3 515.2 260.6C515.5 262.9 514.2 261.3 514.3 264.0C514.4 266.7 514.8 265.6 515.6 268.6C516.4 271.6 516.0 270.0 516.6 273.0C517.2 276.0 516.3 274.4 517.4 277.6C518.5 280.8 517.8 279.5 519.8 282.6C521.8 285.7 520.8 284.3 523.4 287.0C526.0 289.7 524.7 288.6 527.6 290.6C530.5 292.6 528.9 291.6 532.0 292.9C535.1 294.2 533.8 293.3 537.0 294.5C540.2 295.7 538.9 294.9 541.6 296.4C544.3 297.9 542.7 297.1 545.0 299.0C547.3 300.9 546.1 300.2 548.6 302.0C551.1 303.8 549.8 303.1 552.6 304.5C555.4 305.9 554.1 305.5 557.0 306.1C559.9 306.7 558.8 306.8 561.3 306.4C563.8 306.0 562.5 306.4 564.6 305.0C566.7 303.6 565.7 302.3 567.6 302.2C569.5 302.1 568.4 304.3 570.4 304.6C572.4 304.9 571.4 303.4 573.6 303.0C575.8 302.6 574.7 303.8 577.0 303.5C579.3 303.2 578.3 303.1 580.4 302.0C582.5 300.9 581.4 301.8 583.4 300.3C585.4 298.8 584.8 299.5 586.4 297.4C588.0 295.3 587.8 296.5 588.2 294.0C588.6 291.5 588.4 292.4 587.6 290.0C586.8 287.6 585.5 288.7 585.8 286.8C586.1 284.9 586.5 285.6 588.6 284.2C590.7 282.8 589.7 283.6 592.2 282.6C594.7 281.6 593.5 282.5 596.0 281.2C598.5 279.9 597.6 280.6 599.6 278.8C601.6 277.0 600.9 278.1 602.0 275.8C603.1 273.5 602.5 276.6 602.8 272.0C603.1 267.4 602.9 269.3 603.0 262.0C603.1 254.7 603.0 258.0 603.0 250.0C603.0 242.0 603.1 246.0 603.0 238.0C602.9 230.0 602.7 232.0 602.6 226.0Z" fill="none" stroke="#35504b" stroke-width="1.0" stroke-linejoin="round"/><clipPath id="cpR"><path d="M605.0 226.0C605.3 220.7 605.0 224.4 605.4 222.0C605.8 219.6 605.2 220.6 606.2 218.8C607.2 217.0 606.9 217.8 608.4 216.6C609.9 215.4 610.7 216.4 610.8 215.2C610.9 214.0 610.0 214.7 608.6 213.0C607.2 211.3 607.5 212.1 606.6 210.0C605.7 207.9 605.7 208.6 606.0 206.6C606.3 204.6 605.8 205.6 607.4 204.0C609.0 202.4 610.5 203.3 610.8 201.8C611.1 200.3 609.9 201.3 608.4 199.6C606.9 197.9 607.3 198.9 606.4 196.6C605.5 194.3 605.7 195.3 605.6 192.6C605.5 189.9 605.6 191.1 606.2 188.6C606.8 186.1 607.1 187.1 607.4 185.2C607.7 183.3 606.8 184.3 607.2 182.8C607.6 181.3 607.2 182.1 608.6 180.8C610.0 179.5 609.3 180.0 611.4 178.9C613.5 177.8 612.5 178.3 615.0 177.6C617.5 176.9 616.3 177.1 619.0 176.7C621.7 176.3 620.3 176.3 623.2 176.3C626.1 176.3 624.8 176.3 627.6 176.8C630.4 177.3 629.1 176.9 631.6 177.8C634.1 178.7 633.2 178.1 635.0 179.4C636.8 180.7 636.7 180.1 636.9 181.8C637.1 183.5 636.7 182.9 635.6 184.4C634.5 185.9 634.6 185.2 633.6 186.2C632.6 187.2 631.9 186.9 632.5 187.4C633.1 187.9 633.6 188.3 635.4 187.8C637.2 187.3 636.6 187.3 638.0 185.8C639.4 184.3 638.4 184.8 639.6 183.4C640.8 182.0 640.1 182.3 641.6 181.6C643.1 180.9 642.0 181.0 644.0 181.3C646.0 181.6 645.5 181.4 647.6 182.4C649.7 183.4 648.9 182.9 650.4 184.4C651.9 185.9 651.3 185.2 652.0 186.8C652.7 188.4 653.0 187.6 652.5 189.3C652.0 191.0 652.3 190.1 650.6 192.0C648.9 193.9 649.6 193.1 647.4 195.0C645.2 196.9 645.8 196.2 644.0 197.6C642.2 199.0 641.5 198.3 642.0 199.1C642.5 199.9 643.1 200.3 645.4 199.9C647.7 199.5 646.6 199.4 649.0 197.9C651.4 196.4 650.6 197.3 652.6 195.3C654.6 193.3 653.8 194.0 655.0 192.0C656.2 190.0 655.3 190.7 656.2 189.3C657.1 187.9 656.3 187.8 657.6 187.8C658.9 187.8 658.6 187.9 660.0 189.2C661.4 190.5 660.9 190.0 661.8 191.8C662.7 193.6 662.8 192.7 662.7 194.6C662.6 196.5 662.8 195.6 661.6 197.4C660.4 199.2 660.7 198.3 659.0 200.0C657.3 201.7 658.0 201.0 656.6 202.4C655.2 203.8 654.5 203.4 654.8 204.3C655.1 205.2 655.6 205.0 657.6 205.0C659.6 205.0 658.7 204.8 660.8 204.4C662.9 204.0 661.7 203.9 663.8 203.7C665.9 203.5 665.0 203.2 667.2 203.8C669.4 204.4 668.4 204.1 670.4 205.4C672.4 206.7 671.5 206.1 673.2 207.8C674.9 209.5 674.4 208.7 675.6 210.6C676.8 212.5 677.1 211.7 676.8 213.6C676.5 215.5 676.2 214.7 674.6 216.2C673.0 217.7 673.5 216.9 672.0 218.0C670.5 219.1 669.7 218.9 670.0 219.5C670.3 220.1 670.9 220.1 673.0 219.8C675.1 219.5 674.2 219.4 676.2 218.6C678.2 217.8 677.1 217.8 679.0 217.4C680.9 217.0 680.1 216.7 681.8 217.3C683.5 217.9 682.9 217.6 684.0 219.2C685.1 220.8 685.1 220.1 685.2 222.0C685.3 223.9 685.5 223.1 684.2 225.0C682.9 226.9 683.3 225.7 681.4 227.6C679.5 229.5 680.3 228.7 678.6 230.6C676.9 232.5 675.9 233.0 676.2 233.4C676.5 233.8 677.3 233.2 679.6 231.8C681.9 230.4 680.9 230.7 683.0 229.2C685.1 227.7 684.1 228.1 685.8 227.4C687.5 226.7 686.7 226.5 688.2 227.0C689.7 227.5 689.1 227.3 690.4 229.0C691.7 230.7 691.3 229.8 692.0 232.0C692.7 234.2 692.9 233.4 692.6 235.6C692.3 237.8 692.5 236.9 691.2 238.6C689.9 240.3 691.0 239.5 688.6 240.8C686.2 242.1 687.1 241.6 684.0 242.6C680.9 243.6 682.3 243.4 679.4 243.7C676.5 244.0 678.2 244.1 675.4 243.6C672.6 243.1 674.0 243.1 671.0 242.2C668.0 241.3 669.3 241.4 666.4 240.9C663.5 240.4 664.9 240.5 662.4 240.8C659.9 241.1 660.9 240.6 659.0 241.9C657.1 243.2 657.7 242.6 656.8 244.6C655.9 246.6 656.1 245.9 656.2 248.0C656.3 250.1 655.9 249.0 657.0 251.0C658.1 253.0 657.4 252.4 659.4 254.0C661.4 255.6 660.3 255.0 663.0 255.8C665.7 256.6 664.7 256.4 667.6 256.5C670.5 256.6 669.3 256.9 671.6 256.1C673.9 255.3 672.5 255.1 674.4 254.0C676.3 252.9 675.2 253.1 677.4 252.9C679.6 252.7 678.7 252.6 681.0 253.3C683.3 254.0 682.3 253.6 684.4 255.0C686.5 256.4 685.7 255.6 687.2 257.6C688.7 259.6 687.9 258.5 688.8 261.0C689.7 263.5 689.1 262.0 689.8 265.0C690.5 268.0 690.5 266.8 691.0 270.0C691.5 273.2 691.5 271.6 691.2 274.6C690.9 277.6 691.1 276.1 690.2 279.0C689.3 281.9 689.8 280.7 688.4 283.4C687.0 286.1 687.8 284.7 686.0 287.0C684.2 289.3 685.2 288.4 683.0 290.4C680.8 292.4 682.1 291.4 679.4 293.0C676.7 294.6 677.8 294.4 675.0 295.2C672.2 296.0 673.5 295.6 671.0 295.3C668.5 295.0 669.6 295.0 667.4 294.4C665.2 293.8 666.2 293.3 664.4 293.6C662.6 293.9 663.4 294.1 662.0 295.4C660.6 296.7 661.4 295.9 660.2 297.6C659.0 299.3 659.8 298.7 658.4 300.4C657.0 302.1 657.6 301.2 656.0 302.6C654.4 304.0 655.3 303.5 653.6 304.6C651.9 305.7 653.1 305.0 651.0 305.8C648.9 306.6 649.7 306.5 647.2 306.9C644.7 307.3 646.0 307.5 643.4 307.0C640.8 306.5 642.1 306.6 639.4 305.4C636.7 304.2 638.1 304.6 635.4 303.4C632.7 302.2 634.1 302.9 631.4 301.8C628.7 300.7 629.9 301.6 627.4 300.2C624.9 298.8 626.0 299.5 624.0 297.6C622.0 295.7 622.9 296.7 621.4 294.4C619.9 292.1 620.5 293.5 619.4 290.8C618.3 288.1 618.8 289.3 618.0 286.4C617.2 283.5 618.2 284.3 617.0 282.0C615.8 279.7 616.5 281.0 614.4 279.4C612.3 277.8 613.0 278.6 610.6 277.2C608.2 275.8 609.1 276.7 607.2 275.2C605.3 273.7 605.9 277.0 605.0 272.6C604.1 268.2 604.7 269.5 604.6 262.0C604.5 254.5 604.6 258.0 604.6 250.0C604.6 242.0 604.5 246.0 604.6 238.0C604.7 230.0 604.7 231.3 605.0 226.0Z"/></clipPath><path d="M605.0 226.0C605.3 220.7 605.0 224.4 605.4 222.0C605.8 219.6 605.2 220.6 606.2 218.8C607.2 217.0 606.9 217.8 608.4 216.6C609.9 215.4 610.7 216.4 610.8 215.2C610.9 214.0 610.0 214.7 608.6 213.0C607.2 211.3 607.5 212.1 606.6 210.0C605.7 207.9 605.7 208.6 606.0 206.6C606.3 204.6 605.8 205.6 607.4 204.0C609.0 202.4 610.5 203.3 610.8 201.8C611.1 200.3 609.9 201.3 608.4 199.6C606.9 197.9 607.3 198.9 606.4 196.6C605.5 194.3 605.7 195.3 605.6 192.6C605.5 189.9 605.6 191.1 606.2 188.6C606.8 186.1 607.1 187.1 607.4 185.2C607.7 183.3 606.8 184.3 607.2 182.8C607.6 181.3 607.2 182.1 608.6 180.8C610.0 179.5 609.3 180.0 611.4 178.9C613.5 177.8 612.5 178.3 615.0 177.6C617.5 176.9 616.3 177.1 619.0 176.7C621.7 176.3 620.3 176.3 623.2 176.3C626.1 176.3 624.8 176.3 627.6 176.8C630.4 177.3 629.1 176.9 631.6 177.8C634.1 178.7 633.2 178.1 635.0 179.4C636.8 180.7 636.7 180.1 636.9 181.8C637.1 183.5 636.7 182.9 635.6 184.4C634.5 185.9 634.6 185.2 633.6 186.2C632.6 187.2 631.9 186.9 632.5 187.4C633.1 187.9 633.6 188.3 635.4 187.8C637.2 187.3 636.6 187.3 638.0 185.8C639.4 184.3 638.4 184.8 639.6 183.4C640.8 182.0 640.1 182.3 641.6 181.6C643.1 180.9 642.0 181.0 644.0 181.3C646.0 181.6 645.5 181.4 647.6 182.4C649.7 183.4 648.9 182.9 650.4 184.4C651.9 185.9 651.3 185.2 652.0 186.8C652.7 188.4 653.0 187.6 652.5 189.3C652.0 191.0 652.3 190.1 650.6 192.0C648.9 193.9 649.6 193.1 647.4 195.0C645.2 196.9 645.8 196.2 644.0 197.6C642.2 199.0 641.5 198.3 642.0 199.1C642.5 199.9 643.1 200.3 645.4 199.9C647.7 199.5 646.6 199.4 649.0 197.9C651.4 196.4 650.6 197.3 652.6 195.3C654.6 193.3 653.8 194.0 655.0 192.0C656.2 190.0 655.3 190.7 656.2 189.3C657.1 187.9 656.3 187.8 657.6 187.8C658.9 187.8 658.6 187.9 660.0 189.2C661.4 190.5 660.9 190.0 661.8 191.8C662.7 193.6 662.8 192.7 662.7 194.6C662.6 196.5 662.8 195.6 661.6 197.4C660.4 199.2 660.7 198.3 659.0 200.0C657.3 201.7 658.0 201.0 656.6 202.4C655.2 203.8 654.5 203.4 654.8 204.3C655.1 205.2 655.6 205.0 657.6 205.0C659.6 205.0 658.7 204.8 660.8 204.4C662.9 204.0 661.7 203.9 663.8 203.7C665.9 203.5 665.0 203.2 667.2 203.8C669.4 204.4 668.4 204.1 670.4 205.4C672.4 206.7 671.5 206.1 673.2 207.8C674.9 209.5 674.4 208.7 675.6 210.6C676.8 212.5 677.1 211.7 676.8 213.6C676.5 215.5 676.2 214.7 674.6 216.2C673.0 217.7 673.5 216.9 672.0 218.0C670.5 219.1 669.7 218.9 670.0 219.5C670.3 220.1 670.9 220.1 673.0 219.8C675.1 219.5 674.2 219.4 676.2 218.6C678.2 217.8 677.1 217.8 679.0 217.4C680.9 217.0 680.1 216.7 681.8 217.3C683.5 217.9 682.9 217.6 684.0 219.2C685.1 220.8 685.1 220.1 685.2 222.0C685.3 223.9 685.5 223.1 684.2 225.0C682.9 226.9 683.3 225.7 681.4 227.6C679.5 229.5 680.3 228.7 678.6 230.6C676.9 232.5 675.9 233.0 676.2 233.4C676.5 233.8 677.3 233.2 679.6 231.8C681.9 230.4 680.9 230.7 683.0 229.2C685.1 227.7 684.1 228.1 685.8 227.4C687.5 226.7 686.7 226.5 688.2 227.0C689.7 227.5 689.1 227.3 690.4 229.0C691.7 230.7 691.3 229.8 692.0 232.0C692.7 234.2 692.9 233.4 692.6 235.6C692.3 237.8 692.5 236.9 691.2 238.6C689.9 240.3 691.0 239.5 688.6 240.8C686.2 242.1 687.1 241.6 684.0 242.6C680.9 243.6 682.3 243.4 679.4 243.7C676.5 244.0 678.2 244.1 675.4 243.6C672.6 243.1 674.0 243.1 671.0 242.2C668.0 241.3 669.3 241.4 666.4 240.9C663.5 240.4 664.9 240.5 662.4 240.8C659.9 241.1 660.9 240.6 659.0 241.9C657.1 243.2 657.7 242.6 656.8 244.6C655.9 246.6 656.1 245.9 656.2 248.0C656.3 250.1 655.9 249.0 657.0 251.0C658.1 253.0 657.4 252.4 659.4 254.0C661.4 255.6 660.3 255.0 663.0 255.8C665.7 256.6 664.7 256.4 667.6 256.5C670.5 256.6 669.3 256.9 671.6 256.1C673.9 255.3 672.5 255.1 674.4 254.0C676.3 252.9 675.2 253.1 677.4 252.9C679.6 252.7 678.7 252.6 681.0 253.3C683.3 254.0 682.3 253.6 684.4 255.0C686.5 256.4 685.7 255.6 687.2 257.6C688.7 259.6 687.9 258.5 688.8 261.0C689.7 263.5 689.1 262.0 689.8 265.0C690.5 268.0 690.5 266.8 691.0 270.0C691.5 273.2 691.5 271.6 691.2 274.6C690.9 277.6 691.1 276.1 690.2 279.0C689.3 281.9 689.8 280.7 688.4 283.4C687.0 286.1 687.8 284.7 686.0 287.0C684.2 289.3 685.2 288.4 683.0 290.4C680.8 292.4 682.1 291.4 679.4 293.0C676.7 294.6 677.8 294.4 675.0 295.2C672.2 296.0 673.5 295.6 671.0 295.3C668.5 295.0 669.6 295.0 667.4 294.4C665.2 293.8 666.2 293.3 664.4 293.6C662.6 293.9 663.4 294.1 662.0 295.4C660.6 296.7 661.4 295.9 660.2 297.6C659.0 299.3 659.8 298.7 658.4 300.4C657.0 302.1 657.6 301.2 656.0 302.6C654.4 304.0 655.3 303.5 653.6 304.6C651.9 305.7 653.1 305.0 651.0 305.8C648.9 306.6 649.7 306.5 647.2 306.9C644.7 307.3 646.0 307.5 643.4 307.0C640.8 306.5 642.1 306.6 639.4 305.4C636.7 304.2 638.1 304.6 635.4 303.4C632.7 302.2 634.1 302.9 631.4 301.8C628.7 300.7 629.9 301.6 627.4 300.2C624.9 298.8 626.0 299.5 624.0 297.6C622.0 295.7 622.9 296.7 621.4 294.4C619.9 292.1 620.5 293.5 619.4 290.8C618.3 288.1 618.8 289.3 618.0 286.4C617.2 283.5 618.2 284.3 617.0 282.0C615.8 279.7 616.5 281.0 614.4 279.4C612.3 277.8 613.0 278.6 610.6 277.2C608.2 275.8 609.1 276.7 607.2 275.2C605.3 273.7 605.9 277.0 605.0 272.6C604.1 268.2 604.7 269.5 604.6 262.0C604.5 254.5 604.6 258.0 604.6 250.0C604.6 242.0 604.5 246.0 604.6 238.0C604.7 230.0 604.7 231.3 605.0 226.0Z" fill="#22332f" stroke="#22332f" stroke-width="1.0" transform="translate(0.3 0.6)" opacity="0.9"/><g clip-path="url(#cpLow)"><path d="M605.0 226.0C605.3 220.7 605.0 224.4 605.4 222.0C605.8 219.6 605.2 220.6 606.2 218.8C607.2 217.0 606.9 217.8 608.4 216.6C609.9 215.4 610.7 216.4 610.8 215.2C610.9 214.0 610.0 214.7 608.6 213.0C607.2 211.3 607.5 212.1 606.6 210.0C605.7 207.9 605.7 208.6 606.0 206.6C606.3 204.6 605.8 205.6 607.4 204.0C609.0 202.4 610.5 203.3 610.8 201.8C611.1 200.3 609.9 201.3 608.4 199.6C606.9 197.9 607.3 198.9 606.4 196.6C605.5 194.3 605.7 195.3 605.6 192.6C605.5 189.9 605.6 191.1 606.2 188.6C606.8 186.1 607.1 187.1 607.4 185.2C607.7 183.3 606.8 184.3 607.2 182.8C607.6 181.3 607.2 182.1 608.6 180.8C610.0 179.5 609.3 180.0 611.4 178.9C613.5 177.8 612.5 178.3 615.0 177.6C617.5 176.9 616.3 177.1 619.0 176.7C621.7 176.3 620.3 176.3 623.2 176.3C626.1 176.3 624.8 176.3 627.6 176.8C630.4 177.3 629.1 176.9 631.6 177.8C634.1 178.7 633.2 178.1 635.0 179.4C636.8 180.7 636.7 180.1 636.9 181.8C637.1 183.5 636.7 182.9 635.6 184.4C634.5 185.9 634.6 185.2 633.6 186.2C632.6 187.2 631.9 186.9 632.5 187.4C633.1 187.9 633.6 188.3 635.4 187.8C637.2 187.3 636.6 187.3 638.0 185.8C639.4 184.3 638.4 184.8 639.6 183.4C640.8 182.0 640.1 182.3 641.6 181.6C643.1 180.9 642.0 181.0 644.0 181.3C646.0 181.6 645.5 181.4 647.6 182.4C649.7 183.4 648.9 182.9 650.4 184.4C651.9 185.9 651.3 185.2 652.0 186.8C652.7 188.4 653.0 187.6 652.5 189.3C652.0 191.0 652.3 190.1 650.6 192.0C648.9 193.9 649.6 193.1 647.4 195.0C645.2 196.9 645.8 196.2 644.0 197.6C642.2 199.0 641.5 198.3 642.0 199.1C642.5 199.9 643.1 200.3 645.4 199.9C647.7 199.5 646.6 199.4 649.0 197.9C651.4 196.4 650.6 197.3 652.6 195.3C654.6 193.3 653.8 194.0 655.0 192.0C656.2 190.0 655.3 190.7 656.2 189.3C657.1 187.9 656.3 187.8 657.6 187.8C658.9 187.8 658.6 187.9 660.0 189.2C661.4 190.5 660.9 190.0 661.8 191.8C662.7 193.6 662.8 192.7 662.7 194.6C662.6 196.5 662.8 195.6 661.6 197.4C660.4 199.2 660.7 198.3 659.0 200.0C657.3 201.7 658.0 201.0 656.6 202.4C655.2 203.8 654.5 203.4 654.8 204.3C655.1 205.2 655.6 205.0 657.6 205.0C659.6 205.0 658.7 204.8 660.8 204.4C662.9 204.0 661.7 203.9 663.8 203.7C665.9 203.5 665.0 203.2 667.2 203.8C669.4 204.4 668.4 204.1 670.4 205.4C672.4 206.7 671.5 206.1 673.2 207.8C674.9 209.5 674.4 208.7 675.6 210.6C676.8 212.5 677.1 211.7 676.8 213.6C676.5 215.5 676.2 214.7 674.6 216.2C673.0 217.7 673.5 216.9 672.0 218.0C670.5 219.1 669.7 218.9 670.0 219.5C670.3 220.1 670.9 220.1 673.0 219.8C675.1 219.5 674.2 219.4 676.2 218.6C678.2 217.8 677.1 217.8 679.0 217.4C680.9 217.0 680.1 216.7 681.8 217.3C683.5 217.9 682.9 217.6 684.0 219.2C685.1 220.8 685.1 220.1 685.2 222.0C685.3 223.9 685.5 223.1 684.2 225.0C682.9 226.9 683.3 225.7 681.4 227.6C679.5 229.5 680.3 228.7 678.6 230.6C676.9 232.5 675.9 233.0 676.2 233.4C676.5 233.8 677.3 233.2 679.6 231.8C681.9 230.4 680.9 230.7 683.0 229.2C685.1 227.7 684.1 228.1 685.8 227.4C687.5 226.7 686.7 226.5 688.2 227.0C689.7 227.5 689.1 227.3 690.4 229.0C691.7 230.7 691.3 229.8 692.0 232.0C692.7 234.2 692.9 233.4 692.6 235.6C692.3 237.8 692.5 236.9 691.2 238.6C689.9 240.3 691.0 239.5 688.6 240.8C686.2 242.1 687.1 241.6 684.0 242.6C680.9 243.6 682.3 243.4 679.4 243.7C676.5 244.0 678.2 244.1 675.4 243.6C672.6 243.1 674.0 243.1 671.0 242.2C668.0 241.3 669.3 241.4 666.4 240.9C663.5 240.4 664.9 240.5 662.4 240.8C659.9 241.1 660.9 240.6 659.0 241.9C657.1 243.2 657.7 242.6 656.8 244.6C655.9 246.6 656.1 245.9 656.2 248.0C656.3 250.1 655.9 249.0 657.0 251.0C658.1 253.0 657.4 252.4 659.4 254.0C661.4 255.6 660.3 255.0 663.0 255.8C665.7 256.6 664.7 256.4 667.6 256.5C670.5 256.6 669.3 256.9 671.6 256.1C673.9 255.3 672.5 255.1 674.4 254.0C676.3 252.9 675.2 253.1 677.4 252.9C679.6 252.7 678.7 252.6 681.0 253.3C683.3 254.0 682.3 253.6 684.4 255.0C686.5 256.4 685.7 255.6 687.2 257.6C688.7 259.6 687.9 258.5 688.8 261.0C689.7 263.5 689.1 262.0 689.8 265.0C690.5 268.0 690.5 266.8 691.0 270.0C691.5 273.2 691.5 271.6 691.2 274.6C690.9 277.6 691.1 276.1 690.2 279.0C689.3 281.9 689.8 280.7 688.4 283.4C687.0 286.1 687.8 284.7 686.0 287.0C684.2 289.3 685.2 288.4 683.0 290.4C680.8 292.4 682.1 291.4 679.4 293.0C676.7 294.6 677.8 294.4 675.0 295.2C672.2 296.0 673.5 295.6 671.0 295.3C668.5 295.0 669.6 295.0 667.4 294.4C665.2 293.8 666.2 293.3 664.4 293.6C662.6 293.9 663.4 294.1 662.0 295.4C660.6 296.7 661.4 295.9 660.2 297.6C659.0 299.3 659.8 298.7 658.4 300.4C657.0 302.1 657.6 301.2 656.0 302.6C654.4 304.0 655.3 303.5 653.6 304.6C651.9 305.7 653.1 305.0 651.0 305.8C648.9 306.6 649.7 306.5 647.2 306.9C644.7 307.3 646.0 307.5 643.4 307.0C640.8 306.5 642.1 306.6 639.4 305.4C636.7 304.2 638.1 304.6 635.4 303.4C632.7 302.2 634.1 302.9 631.4 301.8C628.7 300.7 629.9 301.6 627.4 300.2C624.9 298.8 626.0 299.5 624.0 297.6C622.0 295.7 622.9 296.7 621.4 294.4C619.9 292.1 620.5 293.5 619.4 290.8C618.3 288.1 618.8 289.3 618.0 286.4C617.2 283.5 618.2 284.3 617.0 282.0C615.8 279.7 616.5 281.0 614.4 279.4C612.3 277.8 613.0 278.6 610.6 277.2C608.2 275.8 609.1 276.7 607.2 275.2C605.3 273.7 605.9 277.0 605.0 272.6C604.1 268.2 604.7 269.5 604.6 262.0C604.5 254.5 604.6 258.0 604.6 250.0C604.6 242.0 604.5 246.0 604.6 238.0C604.7 230.0 604.7 231.3 605.0 226.0Z" fill="#22332f" stroke="#22332f" stroke-width="2.0" transform="translate(0.7 2.1)" opacity="0.95"/></g><path d="M605.0 226.0C605.3 220.7 605.0 224.4 605.4 222.0C605.8 219.6 605.2 220.6 606.2 218.8C607.2 217.0 606.9 217.8 608.4 216.6C609.9 215.4 610.7 216.4 610.8 215.2C610.9 214.0 610.0 214.7 608.6 213.0C607.2 211.3 607.5 212.1 606.6 210.0C605.7 207.9 605.7 208.6 606.0 206.6C606.3 204.6 605.8 205.6 607.4 204.0C609.0 202.4 610.5 203.3 610.8 201.8C611.1 200.3 609.9 201.3 608.4 199.6C606.9 197.9 607.3 198.9 606.4 196.6C605.5 194.3 605.7 195.3 605.6 192.6C605.5 189.9 605.6 191.1 606.2 188.6C606.8 186.1 607.1 187.1 607.4 185.2C607.7 183.3 606.8 184.3 607.2 182.8C607.6 181.3 607.2 182.1 608.6 180.8C610.0 179.5 609.3 180.0 611.4 178.9C613.5 177.8 612.5 178.3 615.0 177.6C617.5 176.9 616.3 177.1 619.0 176.7C621.7 176.3 620.3 176.3 623.2 176.3C626.1 176.3 624.8 176.3 627.6 176.8C630.4 177.3 629.1 176.9 631.6 177.8C634.1 178.7 633.2 178.1 635.0 179.4C636.8 180.7 636.7 180.1 636.9 181.8C637.1 183.5 636.7 182.9 635.6 184.4C634.5 185.9 634.6 185.2 633.6 186.2C632.6 187.2 631.9 186.9 632.5 187.4C633.1 187.9 633.6 188.3 635.4 187.8C637.2 187.3 636.6 187.3 638.0 185.8C639.4 184.3 638.4 184.8 639.6 183.4C640.8 182.0 640.1 182.3 641.6 181.6C643.1 180.9 642.0 181.0 644.0 181.3C646.0 181.6 645.5 181.4 647.6 182.4C649.7 183.4 648.9 182.9 650.4 184.4C651.9 185.9 651.3 185.2 652.0 186.8C652.7 188.4 653.0 187.6 652.5 189.3C652.0 191.0 652.3 190.1 650.6 192.0C648.9 193.9 649.6 193.1 647.4 195.0C645.2 196.9 645.8 196.2 644.0 197.6C642.2 199.0 641.5 198.3 642.0 199.1C642.5 199.9 643.1 200.3 645.4 199.9C647.7 199.5 646.6 199.4 649.0 197.9C651.4 196.4 650.6 197.3 652.6 195.3C654.6 193.3 653.8 194.0 655.0 192.0C656.2 190.0 655.3 190.7 656.2 189.3C657.1 187.9 656.3 187.8 657.6 187.8C658.9 187.8 658.6 187.9 660.0 189.2C661.4 190.5 660.9 190.0 661.8 191.8C662.7 193.6 662.8 192.7 662.7 194.6C662.6 196.5 662.8 195.6 661.6 197.4C660.4 199.2 660.7 198.3 659.0 200.0C657.3 201.7 658.0 201.0 656.6 202.4C655.2 203.8 654.5 203.4 654.8 204.3C655.1 205.2 655.6 205.0 657.6 205.0C659.6 205.0 658.7 204.8 660.8 204.4C662.9 204.0 661.7 203.9 663.8 203.7C665.9 203.5 665.0 203.2 667.2 203.8C669.4 204.4 668.4 204.1 670.4 205.4C672.4 206.7 671.5 206.1 673.2 207.8C674.9 209.5 674.4 208.7 675.6 210.6C676.8 212.5 677.1 211.7 676.8 213.6C676.5 215.5 676.2 214.7 674.6 216.2C673.0 217.7 673.5 216.9 672.0 218.0C670.5 219.1 669.7 218.9 670.0 219.5C670.3 220.1 670.9 220.1 673.0 219.8C675.1 219.5 674.2 219.4 676.2 218.6C678.2 217.8 677.1 217.8 679.0 217.4C680.9 217.0 680.1 216.7 681.8 217.3C683.5 217.9 682.9 217.6 684.0 219.2C685.1 220.8 685.1 220.1 685.2 222.0C685.3 223.9 685.5 223.1 684.2 225.0C682.9 226.9 683.3 225.7 681.4 227.6C679.5 229.5 680.3 228.7 678.6 230.6C676.9 232.5 675.9 233.0 676.2 233.4C676.5 233.8 677.3 233.2 679.6 231.8C681.9 230.4 680.9 230.7 683.0 229.2C685.1 227.7 684.1 228.1 685.8 227.4C687.5 226.7 686.7 226.5 688.2 227.0C689.7 227.5 689.1 227.3 690.4 229.0C691.7 230.7 691.3 229.8 692.0 232.0C692.7 234.2 692.9 233.4 692.6 235.6C692.3 237.8 692.5 236.9 691.2 238.6C689.9 240.3 691.0 239.5 688.6 240.8C686.2 242.1 687.1 241.6 684.0 242.6C680.9 243.6 682.3 243.4 679.4 243.7C676.5 244.0 678.2 244.1 675.4 243.6C672.6 243.1 674.0 243.1 671.0 242.2C668.0 241.3 669.3 241.4 666.4 240.9C663.5 240.4 664.9 240.5 662.4 240.8C659.9 241.1 660.9 240.6 659.0 241.9C657.1 243.2 657.7 242.6 656.8 244.6C655.9 246.6 656.1 245.9 656.2 248.0C656.3 250.1 655.9 249.0 657.0 251.0C658.1 253.0 657.4 252.4 659.4 254.0C661.4 255.6 660.3 255.0 663.0 255.8C665.7 256.6 664.7 256.4 667.6 256.5C670.5 256.6 669.3 256.9 671.6 256.1C673.9 255.3 672.5 255.1 674.4 254.0C676.3 252.9 675.2 253.1 677.4 252.9C679.6 252.7 678.7 252.6 681.0 253.3C683.3 254.0 682.3 253.6 684.4 255.0C686.5 256.4 685.7 255.6 687.2 257.6C688.7 259.6 687.9 258.5 688.8 261.0C689.7 263.5 689.1 262.0 689.8 265.0C690.5 268.0 690.5 266.8 691.0 270.0C691.5 273.2 691.5 271.6 691.2 274.6C690.9 277.6 691.1 276.1 690.2 279.0C689.3 281.9 689.8 280.7 688.4 283.4C687.0 286.1 687.8 284.7 686.0 287.0C684.2 289.3 685.2 288.4 683.0 290.4C680.8 292.4 682.1 291.4 679.4 293.0C676.7 294.6 677.8 294.4 675.0 295.2C672.2 296.0 673.5 295.6 671.0 295.3C668.5 295.0 669.6 295.0 667.4 294.4C665.2 293.8 666.2 293.3 664.4 293.6C662.6 293.9 663.4 294.1 662.0 295.4C660.6 296.7 661.4 295.9 660.2 297.6C659.0 299.3 659.8 298.7 658.4 300.4C657.0 302.1 657.6 301.2 656.0 302.6C654.4 304.0 655.3 303.5 653.6 304.6C651.9 305.7 653.1 305.0 651.0 305.8C648.9 306.6 649.7 306.5 647.2 306.9C644.7 307.3 646.0 307.5 643.4 307.0C640.8 306.5 642.1 306.6 639.4 305.4C636.7 304.2 638.1 304.6 635.4 303.4C632.7 302.2 634.1 302.9 631.4 301.8C628.7 300.7 629.9 301.6 627.4 300.2C624.9 298.8 626.0 299.5 624.0 297.6C622.0 295.7 622.9 296.7 621.4 294.4C619.9 292.1 620.5 293.5 619.4 290.8C618.3 288.1 618.8 289.3 618.0 286.4C617.2 283.5 618.2 284.3 617.0 282.0C615.8 279.7 616.5 281.0 614.4 279.4C612.3 277.8 613.0 278.6 610.6 277.2C608.2 275.8 609.1 276.7 607.2 275.2C605.3 273.7 605.9 277.0 605.0 272.6C604.1 268.2 604.7 269.5 604.6 262.0C604.5 254.5 604.6 258.0 604.6 250.0C604.6 242.0 604.5 246.0 604.6 238.0C604.7 230.0 604.7 231.3 605.0 226.0Z" fill="url(#gWMR)"/><g clip-path="url(#cpR)" fill="none" stroke-linecap="round" stroke-linejoin="round"><g filter="url(#fBl)" stroke="#c3d1cd"><path d="M605.0 226.0C605.3 220.7 605.0 224.4 605.4 222.0C605.8 219.6 605.2 220.6 606.2 218.8C607.2 217.0 606.9 217.8 608.4 216.6C609.9 215.4 610.7 216.4 610.8 215.2C610.9 214.0 610.0 214.7 608.6 213.0C607.2 211.3 607.5 212.1 606.6 210.0C605.7 207.9 605.7 208.6 606.0 206.6C606.3 204.6 605.8 205.6 607.4 204.0C609.0 202.4 610.5 203.3 610.8 201.8C611.1 200.3 609.9 201.3 608.4 199.6C606.9 197.9 607.3 198.9 606.4 196.6C605.5 194.3 605.7 195.3 605.6 192.6C605.5 189.9 605.6 191.1 606.2 188.6C606.8 186.1 607.1 187.1 607.4 185.2C607.7 183.3 606.8 184.3 607.2 182.8C607.6 181.3 607.2 182.1 608.6 180.8C610.0 179.5 609.3 180.0 611.4 178.9C613.5 177.8 612.5 178.3 615.0 177.6C617.5 176.9 616.3 177.1 619.0 176.7C621.7 176.3 620.3 176.3 623.2 176.3C626.1 176.3 624.8 176.3 627.6 176.8C630.4 177.3 629.1 176.9 631.6 177.8C634.1 178.7 633.2 178.1 635.0 179.4C636.8 180.7 636.7 180.1 636.9 181.8C637.1 183.5 636.7 182.9 635.6 184.4C634.5 185.9 634.6 185.2 633.6 186.2C632.6 187.2 631.9 186.9 632.5 187.4C633.1 187.9 633.6 188.3 635.4 187.8C637.2 187.3 636.6 187.3 638.0 185.8C639.4 184.3 638.4 184.8 639.6 183.4C640.8 182.0 640.1 182.3 641.6 181.6C643.1 180.9 642.0 181.0 644.0 181.3C646.0 181.6 645.5 181.4 647.6 182.4C649.7 183.4 648.9 182.9 650.4 184.4C651.9 185.9 651.3 185.2 652.0 186.8C652.7 188.4 653.0 187.6 652.5 189.3C652.0 191.0 652.3 190.1 650.6 192.0C648.9 193.9 649.6 193.1 647.4 195.0C645.2 196.9 645.8 196.2 644.0 197.6C642.2 199.0 641.5 198.3 642.0 199.1C642.5 199.9 643.1 200.3 645.4 199.9C647.7 199.5 646.6 199.4 649.0 197.9C651.4 196.4 650.6 197.3 652.6 195.3C654.6 193.3 653.8 194.0 655.0 192.0C656.2 190.0 655.3 190.7 656.2 189.3C657.1 187.9 656.3 187.8 657.6 187.8C658.9 187.8 658.6 187.9 660.0 189.2C661.4 190.5 660.9 190.0 661.8 191.8C662.7 193.6 662.8 192.7 662.7 194.6C662.6 196.5 662.8 195.6 661.6 197.4C660.4 199.2 660.7 198.3 659.0 200.0C657.3 201.7 658.0 201.0 656.6 202.4C655.2 203.8 654.5 203.4 654.8 204.3C655.1 205.2 655.6 205.0 657.6 205.0C659.6 205.0 658.7 204.8 660.8 204.4C662.9 204.0 661.7 203.9 663.8 203.7C665.9 203.5 665.0 203.2 667.2 203.8C669.4 204.4 668.4 204.1 670.4 205.4C672.4 206.7 671.5 206.1 673.2 207.8C674.9 209.5 674.4 208.7 675.6 210.6C676.8 212.5 677.1 211.7 676.8 213.6C676.5 215.5 676.2 214.7 674.6 216.2C673.0 217.7 673.5 216.9 672.0 218.0C670.5 219.1 669.7 218.9 670.0 219.5C670.3 220.1 670.9 220.1 673.0 219.8C675.1 219.5 674.2 219.4 676.2 218.6C678.2 217.8 677.1 217.8 679.0 217.4C680.9 217.0 680.1 216.7 681.8 217.3C683.5 217.9 682.9 217.6 684.0 219.2C685.1 220.8 685.1 220.1 685.2 222.0C685.3 223.9 685.5 223.1 684.2 225.0C682.9 226.9 683.3 225.7 681.4 227.6C679.5 229.5 680.3 228.7 678.6 230.6C676.9 232.5 675.9 233.0 676.2 233.4C676.5 233.8 677.3 233.2 679.6 231.8C681.9 230.4 680.9 230.7 683.0 229.2C685.1 227.7 684.1 228.1 685.8 227.4C687.5 226.7 686.7 226.5 688.2 227.0C689.7 227.5 689.1 227.3 690.4 229.0C691.7 230.7 691.3 229.8 692.0 232.0C692.7 234.2 692.9 233.4 692.6 235.6C692.3 237.8 692.5 236.9 691.2 238.6C689.9 240.3 691.0 239.5 688.6 240.8C686.2 242.1 687.1 241.6 684.0 242.6C680.9 243.6 682.3 243.4 679.4 243.7C676.5 244.0 678.2 244.1 675.4 243.6C672.6 243.1 674.0 243.1 671.0 242.2C668.0 241.3 669.3 241.4 666.4 240.9C663.5 240.4 664.9 240.5 662.4 240.8C659.9 241.1 660.9 240.6 659.0 241.9C657.1 243.2 657.7 242.6 656.8 244.6C655.9 246.6 656.1 245.9 656.2 248.0C656.3 250.1 655.9 249.0 657.0 251.0C658.1 253.0 657.4 252.4 659.4 254.0C661.4 255.6 660.3 255.0 663.0 255.8C665.7 256.6 664.7 256.4 667.6 256.5C670.5 256.6 669.3 256.9 671.6 256.1C673.9 255.3 672.5 255.1 674.4 254.0C676.3 252.9 675.2 253.1 677.4 252.9C679.6 252.7 678.7 252.6 681.0 253.3C683.3 254.0 682.3 253.6 684.4 255.0C686.5 256.4 685.7 255.6 687.2 257.6C688.7 259.6 687.9 258.5 688.8 261.0C689.7 263.5 689.1 262.0 689.8 265.0C690.5 268.0 690.5 266.8 691.0 270.0C691.5 273.2 691.5 271.6 691.2 274.6C690.9 277.6 691.1 276.1 690.2 279.0C689.3 281.9 689.8 280.7 688.4 283.4C687.0 286.1 687.8 284.7 686.0 287.0C684.2 289.3 685.2 288.4 683.0 290.4C680.8 292.4 682.1 291.4 679.4 293.0C676.7 294.6 677.8 294.4 675.0 295.2C672.2 296.0 673.5 295.6 671.0 295.3C668.5 295.0 669.6 295.0 667.4 294.4C665.2 293.8 666.2 293.3 664.4 293.6C662.6 293.9 663.4 294.1 662.0 295.4C660.6 296.7 661.4 295.9 660.2 297.6C659.0 299.3 659.8 298.7 658.4 300.4C657.0 302.1 657.6 301.2 656.0 302.6C654.4 304.0 655.3 303.5 653.6 304.6C651.9 305.7 653.1 305.0 651.0 305.8C648.9 306.6 649.7 306.5 647.2 306.9C644.7 307.3 646.0 307.5 643.4 307.0C640.8 306.5 642.1 306.6 639.4 305.4C636.7 304.2 638.1 304.6 635.4 303.4C632.7 302.2 634.1 302.9 631.4 301.8C628.7 300.7 629.9 301.6 627.4 300.2C624.9 298.8 626.0 299.5 624.0 297.6C622.0 295.7 622.9 296.7 621.4 294.4C619.9 292.1 620.5 293.5 619.4 290.8C618.3 288.1 618.8 289.3 618.0 286.4C617.2 283.5 618.2 284.3 617.0 282.0C615.8 279.7 616.5 281.0 614.4 279.4C612.3 277.8 613.0 278.6 610.6 277.2C608.2 275.8 609.1 276.7 607.2 275.2C605.3 273.7 605.9 277.0 605.0 272.6C604.1 268.2 604.7 269.5 604.6 262.0C604.5 254.5 604.6 258.0 604.6 250.0C604.6 242.0 604.5 246.0 604.6 238.0C604.7 230.0 604.7 231.3 605.0 226.0Z" stroke-width="8.0"/><path d="M607.4 183.6C608.0 183.9 609.7 184.5 611.0 185.2C612.3 185.9 613.7 187.0 615.0 188.0C616.3 189.0 618.3 190.8 619.0 191.4 M689.6 265.6C689.0 266.1 687.1 267.5 686.0 268.4C684.9 269.3 684.1 270.0 683.0 271.0C681.9 272.0 680.7 273.5 679.6 274.4C678.5 275.3 677.5 276.4 676.4 276.4C675.3 276.4 674.1 275.3 673.0 274.6C671.9 273.9 671.0 272.7 670.0 272.0C669.0 271.3 667.3 270.7 666.8 270.4 M686.4 280.4C685.8 280.7 683.9 281.7 682.6 282.4C681.3 283.1 679.8 283.9 678.6 284.8C677.4 285.7 676.3 287.0 675.6 288.0C674.9 289.0 674.4 290.5 674.2 291.0 M688.0 272.0C687.3 272.7 685.3 274.7 684.0 276.0C682.7 277.3 680.7 279.3 680.0 280.0 M638.6 304.8C638.7 303.8 639.1 300.8 639.4 299.0C639.7 297.2 640.4 294.8 640.6 294.0 M650.4 305.6C650.3 304.8 650.2 302.0 650.0 300.5C649.8 299.0 649.2 297.1 649.0 296.4 M606.4 276.0C607.2 276.6 609.6 278.7 611.0 279.6C612.4 280.5 613.6 281.3 615.0 281.4C616.4 281.5 618.4 281.0 619.6 280.4C620.8 279.8 621.9 278.1 622.4 277.6" stroke-width="6.5"/></g><path d="M689.0 262.0C689.0 264.0 689.7 270.3 689.0 274.0C688.3 277.7 686.8 281.2 685.0 284.0C683.2 286.8 680.5 289.3 678.0 291.0C675.5 292.7 671.3 293.5 670.0 294.0" stroke="#87a39d" stroke-width="6.5"/><path d="M664.0 271.0C665.0 271.3 668.0 272.0 670.0 273.0C672.0 274.0 675.0 276.3 676.0 277.0" stroke="#87a39d" stroke-width="4.5"/><path d="M605.0 226.0C605.3 220.7 605.0 224.4 605.4 222.0C605.8 219.6 605.2 220.6 606.2 218.8C607.2 217.0 606.9 217.8 608.4 216.6C609.9 215.4 610.7 216.4 610.8 215.2C610.9 214.0 610.0 214.7 608.6 213.0C607.2 211.3 607.5 212.1 606.6 210.0C605.7 207.9 605.7 208.6 606.0 206.6C606.3 204.6 605.8 205.6 607.4 204.0C609.0 202.4 610.5 203.3 610.8 201.8C611.1 200.3 609.9 201.3 608.4 199.6C606.9 197.9 607.3 198.9 606.4 196.6C605.5 194.3 605.7 195.3 605.6 192.6C605.5 189.9 605.6 191.1 606.2 188.6C606.8 186.1 607.1 187.1 607.4 185.2C607.7 183.3 606.8 184.3 607.2 182.8C607.6 181.3 607.2 182.1 608.6 180.8C610.0 179.5 609.3 180.0 611.4 178.9C613.5 177.8 612.5 178.3 615.0 177.6C617.5 176.9 616.3 177.1 619.0 176.7C621.7 176.3 620.3 176.3 623.2 176.3C626.1 176.3 624.8 176.3 627.6 176.8C630.4 177.3 629.1 176.9 631.6 177.8C634.1 178.7 633.2 178.1 635.0 179.4C636.8 180.7 636.7 180.1 636.9 181.8C637.1 183.5 636.7 182.9 635.6 184.4C634.5 185.9 634.6 185.2 633.6 186.2C632.6 187.2 631.9 186.9 632.5 187.4C633.1 187.9 633.6 188.3 635.4 187.8C637.2 187.3 636.6 187.3 638.0 185.8C639.4 184.3 638.4 184.8 639.6 183.4C640.8 182.0 640.1 182.3 641.6 181.6C643.1 180.9 642.0 181.0 644.0 181.3C646.0 181.6 645.5 181.4 647.6 182.4C649.7 183.4 648.9 182.9 650.4 184.4C651.9 185.9 651.3 185.2 652.0 186.8C652.7 188.4 653.0 187.6 652.5 189.3C652.0 191.0 652.3 190.1 650.6 192.0C648.9 193.9 649.6 193.1 647.4 195.0C645.2 196.9 645.8 196.2 644.0 197.6C642.2 199.0 641.5 198.3 642.0 199.1C642.5 199.9 643.1 200.3 645.4 199.9C647.7 199.5 646.6 199.4 649.0 197.9C651.4 196.4 650.6 197.3 652.6 195.3C654.6 193.3 653.8 194.0 655.0 192.0C656.2 190.0 655.3 190.7 656.2 189.3C657.1 187.9 656.3 187.8 657.6 187.8C658.9 187.8 658.6 187.9 660.0 189.2C661.4 190.5 660.9 190.0 661.8 191.8C662.7 193.6 662.8 192.7 662.7 194.6C662.6 196.5 662.8 195.6 661.6 197.4C660.4 199.2 660.7 198.3 659.0 200.0C657.3 201.7 658.0 201.0 656.6 202.4C655.2 203.8 654.5 203.4 654.8 204.3C655.1 205.2 655.6 205.0 657.6 205.0C659.6 205.0 658.7 204.8 660.8 204.4C662.9 204.0 661.7 203.9 663.8 203.7C665.9 203.5 665.0 203.2 667.2 203.8C669.4 204.4 668.4 204.1 670.4 205.4C672.4 206.7 671.5 206.1 673.2 207.8C674.9 209.5 674.4 208.7 675.6 210.6C676.8 212.5 677.1 211.7 676.8 213.6C676.5 215.5 676.2 214.7 674.6 216.2C673.0 217.7 673.5 216.9 672.0 218.0C670.5 219.1 669.7 218.9 670.0 219.5C670.3 220.1 670.9 220.1 673.0 219.8C675.1 219.5 674.2 219.4 676.2 218.6C678.2 217.8 677.1 217.8 679.0 217.4C680.9 217.0 680.1 216.7 681.8 217.3C683.5 217.9 682.9 217.6 684.0 219.2C685.1 220.8 685.1 220.1 685.2 222.0C685.3 223.9 685.5 223.1 684.2 225.0C682.9 226.9 683.3 225.7 681.4 227.6C679.5 229.5 680.3 228.7 678.6 230.6C676.9 232.5 675.9 233.0 676.2 233.4C676.5 233.8 677.3 233.2 679.6 231.8C681.9 230.4 680.9 230.7 683.0 229.2C685.1 227.7 684.1 228.1 685.8 227.4C687.5 226.7 686.7 226.5 688.2 227.0C689.7 227.5 689.1 227.3 690.4 229.0C691.7 230.7 691.3 229.8 692.0 232.0C692.7 234.2 692.9 233.4 692.6 235.6C692.3 237.8 692.5 236.9 691.2 238.6C689.9 240.3 691.0 239.5 688.6 240.8C686.2 242.1 687.1 241.6 684.0 242.6C680.9 243.6 682.3 243.4 679.4 243.7C676.5 244.0 678.2 244.1 675.4 243.6C672.6 243.1 674.0 243.1 671.0 242.2C668.0 241.3 669.3 241.4 666.4 240.9C663.5 240.4 664.9 240.5 662.4 240.8C659.9 241.1 660.9 240.6 659.0 241.9C657.1 243.2 657.7 242.6 656.8 244.6C655.9 246.6 656.1 245.9 656.2 248.0C656.3 250.1 655.9 249.0 657.0 251.0C658.1 253.0 657.4 252.4 659.4 254.0C661.4 255.6 660.3 255.0 663.0 255.8C665.7 256.6 664.7 256.4 667.6 256.5C670.5 256.6 669.3 256.9 671.6 256.1C673.9 255.3 672.5 255.1 674.4 254.0C676.3 252.9 675.2 253.1 677.4 252.9C679.6 252.7 678.7 252.6 681.0 253.3C683.3 254.0 682.3 253.6 684.4 255.0C686.5 256.4 685.7 255.6 687.2 257.6C688.7 259.6 687.9 258.5 688.8 261.0C689.7 263.5 689.1 262.0 689.8 265.0C690.5 268.0 690.5 266.8 691.0 270.0C691.5 273.2 691.5 271.6 691.2 274.6C690.9 277.6 691.1 276.1 690.2 279.0C689.3 281.9 689.8 280.7 688.4 283.4C687.0 286.1 687.8 284.7 686.0 287.0C684.2 289.3 685.2 288.4 683.0 290.4C680.8 292.4 682.1 291.4 679.4 293.0C676.7 294.6 677.8 294.4 675.0 295.2C672.2 296.0 673.5 295.6 671.0 295.3C668.5 295.0 669.6 295.0 667.4 294.4C665.2 293.8 666.2 293.3 664.4 293.6C662.6 293.9 663.4 294.1 662.0 295.4C660.6 296.7 661.4 295.9 660.2 297.6C659.0 299.3 659.8 298.7 658.4 300.4C657.0 302.1 657.6 301.2 656.0 302.6C654.4 304.0 655.3 303.5 653.6 304.6C651.9 305.7 653.1 305.0 651.0 305.8C648.9 306.6 649.7 306.5 647.2 306.9C644.7 307.3 646.0 307.5 643.4 307.0C640.8 306.5 642.1 306.6 639.4 305.4C636.7 304.2 638.1 304.6 635.4 303.4C632.7 302.2 634.1 302.9 631.4 301.8C628.7 300.7 629.9 301.6 627.4 300.2C624.9 298.8 626.0 299.5 624.0 297.6C622.0 295.7 622.9 296.7 621.4 294.4C619.9 292.1 620.5 293.5 619.4 290.8C618.3 288.1 618.8 289.3 618.0 286.4C617.2 283.5 618.2 284.3 617.0 282.0C615.8 279.7 616.5 281.0 614.4 279.4C612.3 277.8 613.0 278.6 610.6 277.2C608.2 275.8 609.1 276.7 607.2 275.2C605.3 273.7 605.9 277.0 605.0 272.6C604.1 268.2 604.7 269.5 604.6 262.0C604.5 254.5 604.6 258.0 604.6 250.0C604.6 242.0 604.5 246.0 604.6 238.0C604.7 230.0 604.7 231.3 605.0 226.0Z" stroke="#87a39d" stroke-width="4.0"/><path d="M607.4 183.6C608.0 183.9 609.7 184.5 611.0 185.2C612.3 185.9 613.7 187.0 615.0 188.0C616.3 189.0 618.3 190.8 619.0 191.4 M689.6 265.6C689.0 266.1 687.1 267.5 686.0 268.4C684.9 269.3 684.1 270.0 683.0 271.0C681.9 272.0 680.7 273.5 679.6 274.4C678.5 275.3 677.5 276.4 676.4 276.4C675.3 276.4 674.1 275.3 673.0 274.6C671.9 273.9 671.0 272.7 670.0 272.0C669.0 271.3 667.3 270.7 666.8 270.4 M686.4 280.4C685.8 280.7 683.9 281.7 682.6 282.4C681.3 283.1 679.8 283.9 678.6 284.8C677.4 285.7 676.3 287.0 675.6 288.0C674.9 289.0 674.4 290.5 674.2 291.0 M688.0 272.0C687.3 272.7 685.3 274.7 684.0 276.0C682.7 277.3 680.7 279.3 680.0 280.0 M638.6 304.8C638.7 303.8 639.1 300.8 639.4 299.0C639.7 297.2 640.4 294.8 640.6 294.0 M650.4 305.6C650.3 304.8 650.2 302.0 650.0 300.5C649.8 299.0 649.2 297.1 649.0 296.4 M606.4 276.0C607.2 276.6 609.6 278.7 611.0 279.6C612.4 280.5 613.6 281.3 615.0 281.4C616.4 281.5 618.4 281.0 619.6 280.4C620.8 279.8 621.9 278.1 622.4 277.6" stroke="#87a39d" stroke-width="3.2"/><path d="M689.6 265.6C689.0 266.1 687.1 267.5 686.0 268.4C684.9 269.3 684.1 270.0 683.0 271.0C681.9 272.0 680.7 273.5 679.6 274.4C678.5 275.3 677.5 276.4 676.4 276.4C675.3 276.4 674.1 275.3 673.0 274.6C671.9 273.9 671.0 272.7 670.0 272.0C669.0 271.3 667.3 270.7 666.8 270.4 M686.4 280.4C685.8 280.7 683.9 281.7 682.6 282.4C681.3 283.1 679.8 283.9 678.6 284.8C677.4 285.7 676.3 287.0 675.6 288.0C674.9 289.0 674.4 290.5 674.2 291.0 M650.4 305.6C650.3 304.8 650.2 302.0 650.0 300.5C649.8 299.0 649.2 297.1 649.0 296.4 M606.4 276.0C607.2 276.6 609.6 278.7 611.0 279.6C612.4 280.5 613.6 281.3 615.0 281.4C616.4 281.5 618.4 281.0 619.6 280.4C620.8 279.8 621.9 278.1 622.4 277.6" stroke="#35504b" stroke-width="1.0" opacity="0.9"/><path d="M605.9 184.1L607.0 184.6L607.9 185.0L608.8 185.3L609.7 185.7L610.6 186.0L611.5 186.6L612.6 187.2L613.6 187.9L614.6 188.5L615.7 189.2L616.7 190.0L617.8 190.8L618.8 191.6L619.2 191.2L618.2 190.3L617.3 189.4L616.3 188.5L615.4 187.5L614.4 186.7L613.4 186.0L612.5 185.2L611.4 184.4L610.5 183.9L609.6 183.5L608.7 183.0L607.8 182.6L606.8 182.1Z M688.1 270.4L687.2 271.2L686.3 272.3L685.4 273.4L684.4 274.4L683.5 275.5L682.6 276.6L681.7 277.7L680.7 278.7L679.8 279.8L680.2 280.2L681.3 279.3L682.3 278.3L683.4 277.4L684.5 276.5L685.6 275.6L686.6 274.6L687.7 273.7L688.8 272.8L689.6 271.9Z M639.5 306.1L639.7 305.0L639.8 303.5L639.9 302.0L640.0 300.6L640.1 299.1L640.3 297.9L640.5 296.6L640.7 295.3L640.8 294.1L640.4 293.9L639.9 295.2L639.5 296.4L639.1 297.6L638.7 298.9L638.4 300.3L638.1 301.8L637.8 303.2L637.5 304.6L637.3 305.8Z" fill="#3d5a55" stroke="none"/></g><ellipse cx="681.6" cy="263.6" rx="3.6" ry="2.4" transform="rotate(30 681.6 263.6)" fill="#d3dfdb" filter="url(#fBl2)"/><ellipse cx="683.0" cy="277.6" rx="2.2" ry="3.2" transform="rotate(30 683.0 277.6)" fill="#d3dfdb" filter="url(#fBl2)"/><ellipse cx="671.6" cy="283.6" rx="3.4" ry="2.2" transform="rotate(-30 671.6 283.6)" fill="#d3dfdb" filter="url(#fBl2)"/><path d="M605.0 226.0C605.3 220.7 605.0 224.4 605.4 222.0C605.8 219.6 605.2 220.6 606.2 218.8C607.2 217.0 606.9 217.8 608.4 216.6C609.9 215.4 610.7 216.4 610.8 215.2C610.9 214.0 610.0 214.7 608.6 213.0C607.2 211.3 607.5 212.1 606.6 210.0C605.7 207.9 605.7 208.6 606.0 206.6C606.3 204.6 605.8 205.6 607.4 204.0C609.0 202.4 610.5 203.3 610.8 201.8C611.1 200.3 609.9 201.3 608.4 199.6C606.9 197.9 607.3 198.9 606.4 196.6C605.5 194.3 605.7 195.3 605.6 192.6C605.5 189.9 605.6 191.1 606.2 188.6C606.8 186.1 607.1 187.1 607.4 185.2C607.7 183.3 606.8 184.3 607.2 182.8C607.6 181.3 607.2 182.1 608.6 180.8C610.0 179.5 609.3 180.0 611.4 178.9C613.5 177.8 612.5 178.3 615.0 177.6C617.5 176.9 616.3 177.1 619.0 176.7C621.7 176.3 620.3 176.3 623.2 176.3C626.1 176.3 624.8 176.3 627.6 176.8C630.4 177.3 629.1 176.9 631.6 177.8C634.1 178.7 633.2 178.1 635.0 179.4C636.8 180.7 636.7 180.1 636.9 181.8C637.1 183.5 636.7 182.9 635.6 184.4C634.5 185.9 634.6 185.2 633.6 186.2C632.6 187.2 631.9 186.9 632.5 187.4C633.1 187.9 633.6 188.3 635.4 187.8C637.2 187.3 636.6 187.3 638.0 185.8C639.4 184.3 638.4 184.8 639.6 183.4C640.8 182.0 640.1 182.3 641.6 181.6C643.1 180.9 642.0 181.0 644.0 181.3C646.0 181.6 645.5 181.4 647.6 182.4C649.7 183.4 648.9 182.9 650.4 184.4C651.9 185.9 651.3 185.2 652.0 186.8C652.7 188.4 653.0 187.6 652.5 189.3C652.0 191.0 652.3 190.1 650.6 192.0C648.9 193.9 649.6 193.1 647.4 195.0C645.2 196.9 645.8 196.2 644.0 197.6C642.2 199.0 641.5 198.3 642.0 199.1C642.5 199.9 643.1 200.3 645.4 199.9C647.7 199.5 646.6 199.4 649.0 197.9C651.4 196.4 650.6 197.3 652.6 195.3C654.6 193.3 653.8 194.0 655.0 192.0C656.2 190.0 655.3 190.7 656.2 189.3C657.1 187.9 656.3 187.8 657.6 187.8C658.9 187.8 658.6 187.9 660.0 189.2C661.4 190.5 660.9 190.0 661.8 191.8C662.7 193.6 662.8 192.7 662.7 194.6C662.6 196.5 662.8 195.6 661.6 197.4C660.4 199.2 660.7 198.3 659.0 200.0C657.3 201.7 658.0 201.0 656.6 202.4C655.2 203.8 654.5 203.4 654.8 204.3C655.1 205.2 655.6 205.0 657.6 205.0C659.6 205.0 658.7 204.8 660.8 204.4C662.9 204.0 661.7 203.9 663.8 203.7C665.9 203.5 665.0 203.2 667.2 203.8C669.4 204.4 668.4 204.1 670.4 205.4C672.4 206.7 671.5 206.1 673.2 207.8C674.9 209.5 674.4 208.7 675.6 210.6C676.8 212.5 677.1 211.7 676.8 213.6C676.5 215.5 676.2 214.7 674.6 216.2C673.0 217.7 673.5 216.9 672.0 218.0C670.5 219.1 669.7 218.9 670.0 219.5C670.3 220.1 670.9 220.1 673.0 219.8C675.1 219.5 674.2 219.4 676.2 218.6C678.2 217.8 677.1 217.8 679.0 217.4C680.9 217.0 680.1 216.7 681.8 217.3C683.5 217.9 682.9 217.6 684.0 219.2C685.1 220.8 685.1 220.1 685.2 222.0C685.3 223.9 685.5 223.1 684.2 225.0C682.9 226.9 683.3 225.7 681.4 227.6C679.5 229.5 680.3 228.7 678.6 230.6C676.9 232.5 675.9 233.0 676.2 233.4C676.5 233.8 677.3 233.2 679.6 231.8C681.9 230.4 680.9 230.7 683.0 229.2C685.1 227.7 684.1 228.1 685.8 227.4C687.5 226.7 686.7 226.5 688.2 227.0C689.7 227.5 689.1 227.3 690.4 229.0C691.7 230.7 691.3 229.8 692.0 232.0C692.7 234.2 692.9 233.4 692.6 235.6C692.3 237.8 692.5 236.9 691.2 238.6C689.9 240.3 691.0 239.5 688.6 240.8C686.2 242.1 687.1 241.6 684.0 242.6C680.9 243.6 682.3 243.4 679.4 243.7C676.5 244.0 678.2 244.1 675.4 243.6C672.6 243.1 674.0 243.1 671.0 242.2C668.0 241.3 669.3 241.4 666.4 240.9C663.5 240.4 664.9 240.5 662.4 240.8C659.9 241.1 660.9 240.6 659.0 241.9C657.1 243.2 657.7 242.6 656.8 244.6C655.9 246.6 656.1 245.9 656.2 248.0C656.3 250.1 655.9 249.0 657.0 251.0C658.1 253.0 657.4 252.4 659.4 254.0C661.4 255.6 660.3 255.0 663.0 255.8C665.7 256.6 664.7 256.4 667.6 256.5C670.5 256.6 669.3 256.9 671.6 256.1C673.9 255.3 672.5 255.1 674.4 254.0C676.3 252.9 675.2 253.1 677.4 252.9C679.6 252.7 678.7 252.6 681.0 253.3C683.3 254.0 682.3 253.6 684.4 255.0C686.5 256.4 685.7 255.6 687.2 257.6C688.7 259.6 687.9 258.5 688.8 261.0C689.7 263.5 689.1 262.0 689.8 265.0C690.5 268.0 690.5 266.8 691.0 270.0C691.5 273.2 691.5 271.6 691.2 274.6C690.9 277.6 691.1 276.1 690.2 279.0C689.3 281.9 689.8 280.7 688.4 283.4C687.0 286.1 687.8 284.7 686.0 287.0C684.2 289.3 685.2 288.4 683.0 290.4C680.8 292.4 682.1 291.4 679.4 293.0C676.7 294.6 677.8 294.4 675.0 295.2C672.2 296.0 673.5 295.6 671.0 295.3C668.5 295.0 669.6 295.0 667.4 294.4C665.2 293.8 666.2 293.3 664.4 293.6C662.6 293.9 663.4 294.1 662.0 295.4C660.6 296.7 661.4 295.9 660.2 297.6C659.0 299.3 659.8 298.7 658.4 300.4C657.0 302.1 657.6 301.2 656.0 302.6C654.4 304.0 655.3 303.5 653.6 304.6C651.9 305.7 653.1 305.0 651.0 305.8C648.9 306.6 649.7 306.5 647.2 306.9C644.7 307.3 646.0 307.5 643.4 307.0C640.8 306.5 642.1 306.6 639.4 305.4C636.7 304.2 638.1 304.6 635.4 303.4C632.7 302.2 634.1 302.9 631.4 301.8C628.7 300.7 629.9 301.6 627.4 300.2C624.9 298.8 626.0 299.5 624.0 297.6C622.0 295.7 622.9 296.7 621.4 294.4C619.9 292.1 620.5 293.5 619.4 290.8C618.3 288.1 618.8 289.3 618.0 286.4C617.2 283.5 618.2 284.3 617.0 282.0C615.8 279.7 616.5 281.0 614.4 279.4C612.3 277.8 613.0 278.6 610.6 277.2C608.2 275.8 609.1 276.7 607.2 275.2C605.3 273.7 605.9 277.0 605.0 272.6C604.1 268.2 604.7 269.5 604.6 262.0C604.5 254.5 604.6 258.0 604.6 250.0C604.6 242.0 604.5 246.0 604.6 238.0C604.7 230.0 604.7 231.3 605.0 226.0Z" fill="none" stroke="#35504b" stroke-width="1.0" stroke-linejoin="round"/><path d="M566 238 Q578 247 584 262 Q572 266 560 262 Q560 248 566 238Z" fill="#f7f9f8" stroke="#dfe6e4" stroke-width="0.6" opacity="0.8"/><path d="M641 240 Q629 249 622 262 Q634 266 646 262 Q646 250 641 240Z" fill="#f7f9f8" stroke="#dfe6e4" stroke-width="0.6" opacity="0.8"/><path d="M576.4 230.1C576.5 228.9 577.6 228.9 579.6 228.2C581.6 227.5 581.2 227.8 584.0 227.6C586.8 227.4 586.8 227.4 590.0 227.5C593.2 227.6 593.0 227.5 596.0 227.8C599.0 228.1 599.3 228.1 601.4 228.6C603.5 229.1 602.6 229.4 603.9 229.6C605.2 229.8 604.2 229.6 606.4 229.2C608.6 228.8 608.6 228.8 612.0 228.0C615.4 227.2 615.3 227.1 619.0 226.2C622.7 225.3 622.5 225.2 626.0 224.6C629.5 224.0 629.2 223.9 632.0 224.0C634.8 224.1 634.8 224.1 636.4 224.8C638.0 225.5 637.8 225.5 638.0 226.8C638.2 228.1 638.2 228.3 637.0 229.6C635.8 230.9 636.3 230.6 633.6 231.6C630.9 232.6 630.6 232.5 627.0 233.4C623.4 234.3 623.5 234.1 620.0 235.0C616.5 235.9 616.6 235.5 614.0 236.6C611.4 237.7 611.8 237.3 610.4 239.0C609.0 240.7 609.4 240.3 608.6 243.0C607.8 245.7 608.0 245.5 607.4 249.0C606.8 252.5 606.8 252.3 606.4 256.0C606.0 259.7 606.0 259.1 605.8 263.0C605.6 266.9 606.5 268.5 605.6 270.5C604.7 272.5 603.5 272.5 602.6 270.5C601.7 268.5 602.4 266.9 602.2 263.0C602.0 259.1 602.1 259.7 601.8 256.0C601.5 252.3 601.6 252.5 601.2 249.0C600.8 245.5 600.9 245.8 600.2 243.0C599.5 240.2 599.8 240.4 598.4 238.6C597.0 236.8 597.2 237.2 595.0 236.2C592.8 235.2 592.9 235.6 590.0 235.0C587.1 234.4 586.8 234.6 584.0 234.0C581.2 233.4 581.4 233.8 579.4 232.8C577.4 231.8 576.3 231.3 576.4 230.1Z" fill="#9bb2ad" stroke="#b9c9c5" stroke-width="1.2" stroke-linejoin="round"/><path d="M577.0 230.2C577.0 229.2 578.3 229.1 580.4 228.5C582.5 227.9 582.2 228.1 585.0 228.0C587.8 227.9 587.8 227.9 591.0 228.1C594.2 228.3 593.9 228.3 597.0 228.8C600.1 229.3 601.1 228.2 602.7 230.0C604.3 231.8 603.4 233.6 602.9 235.6C602.4 237.6 602.6 237.5 601.0 237.6C599.4 237.7 599.7 236.8 597.0 236.0C594.3 235.2 594.2 235.3 591.0 234.6C587.8 233.9 587.8 234.0 585.0 233.4C582.2 232.8 582.5 233.1 580.4 232.2C578.3 231.3 577.0 231.2 577.0 230.2Z" fill="url(#gV0)"/><path d="M605.2 230.0C606.6 227.8 607.1 230.1 610.0 229.6C612.9 229.1 612.5 228.9 616.0 228.0C619.5 227.1 619.3 227.1 623.0 226.2C626.7 225.3 626.8 225.1 630.0 224.6C633.2 224.1 633.1 223.9 635.0 224.4C636.9 224.9 637.0 225.1 637.3 226.4C637.6 227.7 637.6 227.9 636.2 229.2C634.8 230.5 634.7 230.3 632.0 231.4C629.3 232.5 629.5 232.2 626.0 233.2C622.5 234.2 622.5 234.0 619.0 235.0C615.5 236.0 615.5 235.6 613.0 236.8C610.5 238.0 611.1 237.7 609.8 239.6C608.5 241.5 608.8 241.2 608.0 244.0C607.2 246.8 607.3 246.5 606.8 250.0C606.3 253.5 606.4 253.3 606.0 257.0C605.6 260.7 605.7 265.9 605.4 264.0C605.1 262.1 605.0 256.9 604.9 250.0C604.8 243.1 604.8 243.3 604.9 238.0C605.0 232.7 603.8 232.2 605.2 230.0Z" fill="url(#gV0)"/><path d="M602.9 235.5C604.2 236.7 603.1 237.6 603.2 242.0C603.3 246.4 603.3 246.1 603.3 252.0C603.3 257.9 603.3 258.9 603.3 264.0C603.3 269.1 603.6 271.0 603.4 271.0C603.2 271.0 602.9 268.5 602.5 264.0C602.1 259.5 602.3 258.8 601.8 254.0C601.3 249.2 601.4 249.6 600.8 246.0C600.2 242.4 600.1 242.7 599.4 240.4C598.7 238.1 597.3 238.7 598.2 237.4C599.1 236.1 601.6 234.3 602.9 235.5Z" fill="#23332f"/><path d="M621.8 271.2C622.3 270.0 623.1 270.2 625.6 269.3C628.1 268.4 627.2 268.7 630.0 268.1C632.8 267.5 632.0 267.6 635.0 267.2C638.0 266.8 637.0 266.8 640.0 266.6C643.0 266.4 642.0 266.4 645.0 266.5C648.0 266.6 647.1 266.4 650.0 267.1C652.9 267.8 652.6 267.4 654.8 268.8C657.0 270.2 656.3 269.7 657.4 271.6C658.5 273.5 657.6 273.1 658.6 275.0C659.6 276.9 659.1 276.4 660.6 278.0C662.1 279.6 661.7 279.0 663.6 280.4C665.5 281.8 667.1 281.5 666.8 282.6C666.5 283.7 665.1 283.5 662.6 284.0C660.1 284.5 660.4 283.5 658.4 284.4C656.4 285.3 657.3 285.4 656.0 287.0C654.7 288.6 655.8 289.0 654.0 289.7C652.2 290.4 652.7 289.8 650.0 289.2C647.3 288.6 647.8 288.3 645.0 287.8C642.2 287.3 642.9 287.8 640.6 287.6C638.3 287.4 638.9 288.2 637.4 287.2C635.9 286.2 636.6 286.1 635.6 284.4C634.6 282.7 635.6 283.3 634.2 281.4C632.8 279.5 633.2 279.9 631.0 278.2C628.8 276.5 629.1 277.0 627.0 275.6C624.9 274.2 625.6 274.7 624.0 273.4C622.4 272.1 621.3 272.4 621.8 271.2Z" fill="url(#gV2)" stroke="#8aa39d" stroke-width="1.6" stroke-linejoin="round"/><path d="M621.8 271.2C622.3 270.0 623.1 270.2 625.6 269.3C628.1 268.4 627.2 268.7 630.0 268.1C632.8 267.5 632.0 267.6 635.0 267.2C638.0 266.8 637.0 266.8 640.0 266.6C643.0 266.4 642.0 266.4 645.0 266.5C648.0 266.6 647.1 266.4 650.0 267.1C652.9 267.8 652.6 267.4 654.8 268.8C657.0 270.2 656.3 269.7 657.4 271.6C658.5 273.5 657.6 273.1 658.6 275.0C659.6 276.9 659.1 276.4 660.6 278.0C662.1 279.6 661.7 279.0 663.6 280.4C665.5 281.8 667.1 281.5 666.8 282.6C666.5 283.7 665.1 283.5 662.6 284.0C660.1 284.5 660.4 283.5 658.4 284.4C656.4 285.3 657.3 285.4 656.0 287.0C654.7 288.6 655.8 289.0 654.0 289.7C652.2 290.4 652.7 289.8 650.0 289.2C647.3 288.6 647.8 288.3 645.0 287.8C642.2 287.3 642.9 287.8 640.6 287.6C638.3 287.4 638.9 288.2 637.4 287.2C635.9 286.2 636.6 286.1 635.6 284.4C634.6 282.7 635.6 283.3 634.2 281.4C632.8 279.5 633.2 279.9 631.0 278.2C628.8 276.5 629.1 277.0 627.0 275.6C624.9 274.2 625.6 274.7 624.0 273.4C622.4 272.1 621.3 272.4 621.8 271.2Z" fill="url(#gV2)"/><path d="M603.9 179.5 V226" stroke="#fff" stroke-width="1.1" fill="none"/><path d="M604 227 V268" stroke="#fbfcfc" stroke-width="0.9" fill="none"/>
<path d="M202.7 416.1L200.7 416.1L198.8 415.3L196.9 414.7M201.3 412.4L202.5 410.8L203.6 409.1L204.8 407.6L206.0 406.0M202.0 422.0L202.1 420.0L202.8 418.1L202.7 416.1L202.0 414.2L201.3 412.4L201.3 410.4M213.8 420.5L215.8 420.2L217.7 420.4M211.4 423.7L212.6 422.1L213.8 420.5M205.9 421.7L207.5 422.9L209.4 423.5L211.4 423.7L213.4 423.4L215.4 423.7M209.8 427.5L211.6 428.5L213.5 428.9L215.5 428.7M207.9 421.9L208.5 423.8L209.4 425.6L209.8 427.5L210.8 429.2L211.8 431.0L213.4 432.2M219.8 423.8L221.8 423.9L223.8 423.7M216.9 418.6L217.7 420.4L218.6 422.1L219.8 423.8M222.2 420.5L224.2 420.3L226.1 420.0M218.8 418.3L220.5 419.4L222.2 420.5L224.0 421.3M209.9 421.8L211.4 420.5L213.0 419.2L214.9 418.6L216.9 418.6L218.8 418.3M214.1 418.3L214.1 416.3L214.0 414.3L213.5 412.4M208.1 411.8L206.3 412.6L204.4 413.4L202.5 414.1M214.4 416.3L213.3 414.7L211.7 413.5L209.8 412.9L208.1 411.8M215.4 414.6L214.1 413.1L212.3 412.0L210.5 411.4L209.0 410.0M221.9 410.2L223.3 411.7L225.0 412.7M216.0 410.6L218.0 410.1L220.0 409.9L221.9 410.2M211.9 421.6L213.1 420.0L214.1 418.3L214.4 416.3L215.4 414.6L215.7 412.6L216.0 410.6M220.6 413.0L220.8 411.0L221.5 409.1M222.5 412.2L224.3 413.0L226.2 413.5M217.3 415.2L218.9 414.1L220.6 413.0L222.5 412.2M214.4 405.9L213.1 404.4L211.4 403.3M219.1 409.6L217.4 408.4L216.1 407.0L214.4 405.9M219.1 407.6L220.9 406.6L222.2 405.1M215.8 421.0L216.0 419.0L216.7 417.1L217.3 415.2L218.1 413.4L218.8 411.5L219.1 409.6L219.1 407.6M198.0 422.2L200.0 422.3L202.0 422.0L204.0 422.0L205.9 421.7L207.9 421.9L209.9 421.8L211.9 421.6L213.9 421.5L215.8 421.0L217.5 419.8L219.2 418.8L221.1 418.2M208.3 432.8L209.8 434.1L211.6 435.0M208.8 434.8L210.3 436.1L211.7 437.6L212.7 439.3M209.7 425.1L209.4 427.0L208.8 428.9L208.2 430.9L208.3 432.8L208.8 434.8M215.6 434.0L215.3 436.0L214.7 437.9M213.7 430.5L214.9 432.2L215.6 434.0L216.7 435.7M219.7 433.6L220.6 435.4L222.1 436.8M215.7 433.9L217.7 433.9L219.7 433.6L221.7 433.2M211.6 425.0L212.7 426.7L213.5 428.5L213.7 430.5L214.4 432.4L215.7 433.9L217.4 435.0L219.1 436.0M216.9 417.6L215.4 416.3L214.2 414.7L213.4 412.9M215.6 425.4L216.2 423.5L216.7 421.6L216.9 419.6L216.9 417.6L217.0 415.6L217.3 413.6M197.9 422.8L199.9 423.3L201.8 423.7L203.8 423.9L205.8 423.9L207.7 424.6L209.7 425.1L211.6 425.0L213.6 425.4L215.6 425.4L217.5 424.6L219.3 423.8L221.1 422.9L222.9 422.0M206.3 432.4L207.5 434.0L208.3 435.8M208.3 432.6L209.1 430.8L209.8 428.9M202.4 432.0L204.4 432.0L206.3 432.4L208.3 432.6L210.3 433.0M193.4 438.4L191.7 439.4L190.3 440.8M199.3 438.7L197.4 439.0L195.4 438.7L193.4 438.4M197.7 439.8L196.5 441.4L195.4 443.1L194.6 444.9L194.4 446.9M196.0 445.4L197.6 446.6L199.4 447.4L201.2 448.4L203.1 448.8M202.9 433.9L202.1 435.8L200.7 437.2L199.3 438.7L197.7 439.8L196.6 441.5L195.9 443.4L196.0 445.4M206.3 441.0L206.2 443.0L206.8 445.0L207.8 446.7L208.3 448.6L208.4 450.6M211.5 441.0L212.8 442.6L214.5 443.6L216.5 444.0M215.4 441.6L215.5 443.6L215.1 445.5L215.1 447.5M207.8 442.4L209.5 441.3L211.5 441.0L213.5 441.0L215.4 441.6L217.4 441.9L219.2 442.6M197.7 423.4L199.0 424.9L200.3 426.4L201.3 428.2L201.8 430.1L202.4 432.0L202.9 433.9L203.4 435.9L204.0 437.8L205.2 439.4L206.3 441.0L207.8 442.4L208.9 444.1M205.5 430.9L206.1 429.0L206.2 427.0M211.2 429.8L213.1 430.5L215.0 430.4M201.5 430.6L203.5 430.8L205.5 430.9L207.4 431.2L209.4 430.6L211.2 429.8M203.2 437.9L204.6 439.3L205.7 441.0M203.3 441.8L204.6 443.3L205.7 445.0M203.8 433.9L203.5 435.9L203.2 437.9L203.0 439.9L203.3 441.8L203.6 443.8M201.4 446.6L199.4 446.8L197.5 447.3M204.5 441.5L203.2 443.0L202.2 444.7L201.4 446.6M204.5 435.7L203.9 437.6L203.9 439.6L204.5 441.5L205.5 443.3M213.7 441.5L215.3 440.2L216.8 438.9L217.9 437.2M206.1 439.3L208.0 440.0L210.0 440.3L212.0 440.6L213.7 441.5L215.4 442.6M197.1 424.0L198.1 425.7L199.0 427.5L200.2 429.1L201.5 430.6L202.5 432.3L203.8 433.9L204.5 435.7L205.0 437.7L206.1 439.3L207.0 441.1M202.9 429.2L202.5 431.1L202.8 433.1L202.6 435.1L202.1 437.0L200.9 438.7M205.6 436.3L207.6 436.3L209.5 435.8L211.5 435.3M205.4 432.3L205.3 434.3L205.6 436.3L206.4 438.1L207.4 439.8M202.7 438.3L202.8 440.3L203.1 442.3M206.7 433.9L205.3 435.3L203.8 436.6L202.7 438.3M207.9 439.7L206.5 441.2L205.2 442.6L203.5 443.7L201.6 444.3M196.9 424.1L198.1 425.7L199.8 426.7L201.3 428.1L202.9 429.2L204.2 430.7L205.4 432.3L206.7 433.9L207.4 435.7L207.6 437.7L207.9 439.7M203.0 436.5L203.6 434.6L204.5 432.8M197.1 435.8L199.0 436.5L201.0 436.5L203.0 436.5M198.1 432.0L197.2 433.8L197.1 435.8L197.0 437.8L197.3 439.8L196.9 441.8L196.5 443.7M195.3 441.4L193.8 442.7L192.8 444.4M197.9 436.0L196.8 437.6L196.0 439.5L195.3 441.4L195.2 443.4M198.0 440.0L199.6 441.1L201.3 442.2L202.5 443.7L204.0 445.2L205.3 446.7L207.0 447.7M198.4 441.9L197.5 443.7L197.1 445.7L196.0 447.3L195.4 449.2L195.3 451.2M202.2 447.9L203.2 449.7L203.3 451.6M204.1 448.5L206.0 447.8L207.6 446.5L208.7 444.9M205.9 449.3L207.9 449.1L209.8 448.4L211.7 447.9M198.0 443.9L199.1 445.5L200.4 447.1L202.2 447.9L204.1 448.5L205.9 449.3L207.6 450.5M196.4 424.3L197.2 426.1L197.4 428.1L197.8 430.0L198.1 432.0L197.7 434.0L197.9 436.0L197.9 438.0L198.0 440.0L198.4 441.9L198.0 443.9L198.2 445.9L198.7 447.8M196.6 428.2L198.3 429.3L199.9 430.5L201.5 431.6L203.0 433.0L204.3 434.5M200.8 436.9L200.8 438.9L200.2 440.8L199.8 442.8L200.3 444.8L200.3 446.7L199.9 448.7L199.4 450.6M214.5 438.3L214.7 436.3L214.9 434.3M203.1 440.2L205.0 440.7L207.0 440.8L209.0 440.7L210.9 440.1L212.7 439.2L214.5 438.3M212.1 444.5L213.5 443.1L214.4 441.3M216.0 444.9L217.6 443.8L218.8 442.2L219.5 440.3M206.2 445.3L208.2 445.0L210.1 444.4L212.1 444.5L214.1 444.3L216.0 444.9M195.9 424.3L196.0 426.3L196.6 428.2L196.5 430.2L197.2 432.1L198.4 433.7L199.6 435.3L200.8 436.9L201.9 438.6L203.1 440.2L204.3 441.8L205.4 443.4L206.2 445.3M191.9 434.7L190.6 436.3L188.8 437.2L187.6 438.7M193.5 438.3L192.8 440.2L192.8 442.2L193.0 444.2M191.5 428.8L191.3 430.8L191.4 432.7L191.9 434.7L192.8 436.4L193.5 438.3M192.7 439.3L194.6 440.0L196.5 440.5M189.3 432.1L190.0 434.0L190.7 435.8L191.5 437.7L192.7 439.3M188.1 433.7L188.5 435.6L189.4 437.4L190.5 439.0L191.0 441.0L190.7 443.0M188.7 441.3L187.3 442.7L185.9 444.1L184.4 445.5M189.5 449.7L187.6 449.0L186.0 447.9M191.4 444.2L191.0 446.1L190.6 448.1L189.5 449.7M192.4 445.9L194.1 447.0L196.0 447.5M187.2 435.5L188.0 437.4L188.1 439.4L188.7 441.3L190.0 442.8L191.4 444.2L192.4 445.9M185.4 441.0L186.7 442.4L188.2 443.8L190.1 444.5M185.7 447.0L184.0 448.1L182.2 448.9M186.0 437.1L186.0 439.1L185.4 441.0L185.4 443.0L185.6 445.0L185.7 447.0M184.7 438.6L185.5 440.4L186.1 442.3L186.2 444.3L186.2 446.3M195.4 424.2L194.1 425.8L192.9 427.4L191.5 428.8L190.6 430.5L189.3 432.1L188.1 433.7L187.2 435.5L186.0 437.1L184.7 438.6L183.0 439.6L181.3 440.6M175.3 435.4L175.7 433.4L176.1 431.5L176.1 429.5M174.1 433.8L172.4 432.7L170.8 431.5L169.6 430.0M173.4 428.5L174.8 427.1L176.4 425.9M174.1 426.6L173.6 424.7L173.9 422.7M172.7 432.3L173.4 430.5L173.4 428.5L174.1 426.6M178.6 437.6L177.0 436.4L175.3 435.4L174.1 433.8L172.7 432.3L171.4 430.9L169.8 429.7M171.3 440.4L171.2 442.3M173.0 436.7L172.2 438.6L171.3 440.4M169.2 435.4L168.2 437.0M176.7 438.1L174.9 437.2L173.0 436.7L171.1 436.1L169.2 435.4L167.3 434.9M194.6 423.7L193.6 425.5L192.2 426.9L190.4 427.6L188.4 427.9L186.6 428.9L185.0 430.0L183.8 431.6L182.6 433.2L181.5 434.9L180.2 436.4L178.6 437.6L176.7 438.1M185.4 424.3L183.4 424.5L181.5 423.9M183.4 424.3L182.4 426.0L181.8 427.9M191.2 425.9L189.3 425.3L187.3 424.9L185.4 424.3L183.4 424.3M181.9 427.5L180.1 428.3L178.4 429.3M180.7 425.9L178.7 426.4L176.9 427.2L175.1 428.0M187.1 430.2L185.2 429.7L183.4 428.8L181.9 427.5L180.7 425.9M178.5 434.2L177.5 435.9L176.8 437.8M176.5 433.9L176.1 431.9L175.9 430.0M184.3 433.0L182.3 433.1L180.4 433.8L178.5 434.2L176.5 433.9M194.3 423.4L192.8 424.7L191.2 425.9L189.8 427.3L188.7 429.0L187.1 430.2L185.5 431.4L184.3 433.0L182.7 434.2L180.8 434.8L178.8 434.6M182.4 424.3L181.9 422.3L181.5 420.4L181.7 418.4L182.0 416.4L181.7 414.5M180.4 424.0L179.2 425.6L177.8 427.0L176.7 428.7L175.6 430.4L173.9 431.5L172.0 431.9M178.5 423.2L177.8 421.4L177.1 419.5L176.8 417.5L177.1 415.5L177.0 413.5M194.1 422.8L192.1 423.4L190.3 424.1L188.3 424.2L186.3 424.7L184.3 424.6L182.4 424.3L180.4 424.0L178.5 423.2L176.6 422.7L174.8 421.9M186.9 426.6L187.2 428.6L187.0 430.5L186.7 432.5M182.2 430.3L180.3 429.7L178.4 429.1L176.4 429.1M190.1 421.6L188.7 423.0L187.8 424.8L186.9 426.6L185.6 428.1L184.0 429.3L182.2 430.3M189.2 414.6L188.1 412.9L187.5 411.0L186.7 409.2M189.1 410.6L190.1 408.9L191.1 407.2L192.5 405.7M182.8 406.8L182.1 404.9L182.0 402.9M188.4 408.7L186.5 408.2L184.7 407.4L182.8 406.8M188.4 420.5L188.6 418.5L188.7 416.5L189.2 414.6L189.2 412.6L189.1 410.6L188.4 408.7M181.7 423.0L180.2 421.7L179.2 420.0L177.8 418.5M184.4 420.0L183.2 421.7L181.7 423.0L180.6 424.7L179.8 426.5L179.3 428.4L178.4 430.2M182.4 419.8L180.8 421.0L178.9 421.5L177.0 422.3L175.5 423.6M180.5 419.3L178.7 420.2L176.8 420.9L175.2 422.0L173.7 423.4L171.9 424.2M176.5 419.4L175.1 417.9L174.3 416.1L173.1 414.5L172.3 412.6L171.6 410.8M167.8 417.7L167.7 415.7L167.8 413.7L168.0 411.7M172.9 420.9L171.0 420.1L169.3 419.0L167.8 417.7L166.3 416.5L165.2 414.8M194.0 422.1L192.0 422.0L190.1 421.6L188.4 420.5L186.4 420.2L184.4 420.0L182.4 419.8L180.5 419.3L178.5 419.4L176.5 419.4L174.5 419.8L172.9 420.9M188.7 419.0L187.5 417.4L186.4 415.8L184.7 414.6L183.1 413.4L181.3 412.5M184.2 412.8L185.5 411.3L186.7 409.7M185.5 416.6L184.8 414.7L184.2 412.8L183.0 411.2L181.9 409.6M178.4 410.7L177.2 409.0L176.6 407.1L175.3 405.6M182.1 411.7L180.1 411.6L178.4 410.7L176.4 410.3L174.5 410.7L172.5 410.4L170.5 410.5M194.2 421.5L192.3 420.8L190.5 420.0L188.7 419.0L187.2 417.7L185.5 416.6L184.1 415.2L183.1 413.5L182.1 411.7L180.7 410.3L179.6 408.6L178.2 407.3L176.6 406.0M189.6 406.8L191.1 405.5L192.4 404.0M189.4 402.9L188.2 401.3L187.0 399.7M188.9 410.7L189.6 408.8L189.6 406.8L189.3 404.9L189.4 402.9M194.4 421.1L193.2 419.5L191.7 418.2L190.7 416.4L190.3 414.5L189.5 412.7L188.9 410.7L188.5 408.8L188.1 406.8L187.2 405.0L185.7 403.7M191.6 418.2L191.0 416.3L190.4 414.4L190.1 412.4L189.4 410.6L189.1 408.6M172.1 417.6L172.0 419.6L172.2 421.5L172.7 423.5M178.7 413.1L177.0 414.1L175.2 415.1L173.8 416.5L172.1 417.6L170.1 417.9L168.4 418.9M194.7 420.8L193.2 419.5L191.6 418.2L189.9 417.3L188.1 416.3L186.3 415.5L184.3 415.2L182.5 414.2L180.6 413.9L178.7 413.1L176.8 412.5L175.1 411.5L173.2 411.1M192.1 415.5L193.4 413.9L194.3 412.1L194.7 410.2L195.1 408.2M196.9 405.8L198.1 404.2L199.4 402.7M198.8 405.2L200.2 406.6L201.7 408.0L202.5 409.8M192.4 409.5L193.5 407.9L195.1 406.6L196.9 405.8L198.8 405.2M197.6 401.9L199.3 402.9L201.0 403.9M193.1 405.6L194.2 403.9L195.7 402.6L197.6 401.9L199.1 400.6M189.6 394.8L190.1 392.8M189.5 398.7L189.9 396.8L189.6 394.8M192.6 403.6L191.1 402.3L190.1 400.6L189.5 398.7L189.4 396.7L188.6 394.9M195.0 420.6L193.6 419.1L192.6 417.4L192.1 415.5L191.8 413.5L192.1 411.5L192.4 409.5L192.7 407.6L193.1 405.6L192.6 403.6M186.9 418.0L185.8 419.6L184.5 421.1L182.9 422.3M181.4 423.6L179.4 423.8L177.4 424.1M183.7 420.3L182.6 422.0L181.4 423.6L179.9 425.0M182.0 421.4L180.1 422.0L178.2 422.6L176.2 422.5M192.3 415.6L190.3 415.8L188.5 416.8L186.9 418.0L185.3 419.2L183.7 420.3L182.0 421.4M183.7 410.6L182.0 411.6L180.5 412.9L179.2 414.4M190.8 414.2L188.9 413.6L187.1 412.7L185.4 411.8L183.7 410.6L182.2 409.4L180.4 408.5M182.4 406.2L181.2 407.9L179.6 409.0L177.8 409.8M176.5 406.8L176.4 404.8L176.8 402.8L177.2 400.9M174.5 407.0L173.3 405.4L171.7 404.3M186.3 405.6L184.3 405.6L182.4 406.2L180.5 406.9L178.5 406.9L176.5 406.8L174.5 407.0M183.6 399.2L181.6 398.8L179.6 398.9L177.6 398.6M186.8 401.6L185.3 400.3L183.6 399.2L181.6 398.6L179.8 398.0L177.9 397.3M186.7 399.6L184.9 398.7L182.9 398.4L181.0 398.8L179.0 399.2L177.0 399.1M195.8 420.3L195.0 418.5L193.7 416.9L192.3 415.6L190.8 414.2L189.4 412.8L188.4 411.1L187.3 409.4L186.5 407.6L186.3 405.6L186.7 403.6L186.8 401.6L186.7 399.6L187.0 397.6M202.6 404.0L202.6 402.0L202.0 400.1L201.0 398.3M207.5 399.5L207.7 397.5L208.1 395.6M202.3 402.0L203.8 400.7L205.5 399.7L207.5 399.5M200.0 413.5L200.1 411.5L200.9 409.6L201.9 407.9L202.2 405.9L202.6 404.0L202.3 402.0M202.7 408.2L202.3 406.3L202.1 404.3L202.4 402.3L202.9 400.4L203.4 398.4M202.7 400.6L204.7 400.8L206.7 400.6L208.6 399.9M203.4 406.3L202.5 404.5L202.2 402.5L202.7 400.6L202.6 398.6M206.8 397.7L207.2 395.7L206.8 393.7M203.9 400.4L205.6 399.3L206.8 397.7L208.4 396.6L209.9 395.3M196.5 420.4L196.7 418.4L197.5 416.5L198.7 414.9L200.0 413.5L201.4 412.0L202.1 410.1L202.7 408.2L203.4 406.3L203.4 404.3L203.5 402.3L203.9 400.4M209.1 415.0L210.2 416.7L210.8 418.6M201.3 416.5L203.3 416.3L205.3 416.2L207.1 415.4L209.1 415.0L211.0 414.5L212.7 413.4M211.7 419.2L212.3 421.1L213.1 423.0M207.9 418.3L209.8 418.7L211.7 419.2L213.7 419.5M209.8 418.7L210.3 420.6L210.7 422.6L211.4 424.4M202.8 415.2L204.3 416.4L206.1 417.3L207.9 418.3L209.8 418.7L211.7 419.4M219.5 409.4L220.4 407.7L221.9 406.4L223.6 405.3M215.5 409.4L217.5 409.4L219.5 409.4L221.4 410.1L223.0 411.2L224.7 412.3L226.3 413.5L227.7 414.9M197.0 420.6L198.1 418.9L199.7 417.7L201.3 416.5L202.8 415.2L204.5 414.2L206.4 413.5L208.3 412.8L210.1 412.1L211.7 410.8L213.6 410.1L215.5 409.4L217.0 408.2L218.9 407.5M198.3 409.8L196.6 408.7L194.7 408.2L193.1 407.0M194.0 402.9L193.0 404.6L192.0 406.4M197.9 403.9L196.0 403.3L194.0 402.9L192.2 402.2M200.1 415.5L199.7 413.5L198.7 411.8L198.3 409.8L197.9 407.9L198.1 405.9L197.9 403.9M199.5 402.3L197.6 402.7L195.6 402.8L193.8 403.8M203.8 406.3L202.2 405.2L201.1 403.5L199.5 402.3L197.8 401.4L195.9 400.6L194.0 400.1M215.1 404.7L216.6 406.0L218.1 407.4L219.1 409.0M217.1 404.6L218.3 403.0L219.0 401.2M219.0 404.3L220.3 405.8L221.1 407.7L222.3 409.3M207.7 401.9L209.7 402.5L211.2 403.8L213.1 404.3L215.1 404.7L217.1 404.6L219.0 404.3M197.1 420.6L198.1 418.9L199.2 417.3L200.1 415.5L200.9 413.6L202.1 412.0L202.6 410.1L202.9 408.1L203.8 406.3L205.4 405.1L206.3 403.3L207.7 401.9L209.4 400.7L210.6 399.2M206.6 413.5L205.6 411.8L204.0 410.5L202.4 409.4L200.8 408.2L199.2 407.0M216.4 415.4L217.6 417.0L218.9 418.5M209.8 411.2L211.4 412.4L212.9 413.6L214.5 414.9L216.4 415.4L218.3 416.1M197.7 421.2L199.4 420.2L201.2 419.2L202.6 417.9L204.1 416.6L205.7 415.3L206.6 413.5L207.9 412.0L209.8 411.2L211.1 409.7L212.4 408.2L214.0 407.0M198.3 415.9L198.1 413.9L198.6 412.0M196.3 410.3L197.0 408.4L196.9 406.4M200.8 418.9L199.8 417.2L198.3 415.9L197.2 414.2L196.7 412.3L196.3 410.3M202.6 418.0L204.1 416.7L205.5 415.3L207.1 414.1L208.8 413.1L210.7 412.4L212.2 411.0M210.0 415.2L210.7 413.4L211.4 411.5L212.3 409.7L213.1 407.9M215.8 405.8L213.9 405.5L211.9 405.9M217.7 411.4L217.4 409.4L216.8 407.5L215.8 405.8M213.9 415.9L214.9 414.2L216.6 413.0L217.7 411.4L218.2 409.5L218.6 407.5L219.2 405.6M197.9 421.6L199.5 420.5L200.8 418.9L202.6 418.0L204.4 417.2L206.1 416.1L208.0 415.7L210.0 415.2L212.0 415.3L213.9 415.9L215.9 415.9L217.8 415.3L219.8 415.3M198.3 422.7L196.3 422.4L194.5 421.5L192.7 420.7M192.1 428.8L191.3 427.0L191.0 425.0L191.4 423.0L192.3 421.2L192.3 419.2M188.5 421.9L188.3 420.0L188.8 418.0L189.5 416.2L189.8 414.2M189.7 425.1L187.8 425.6L185.8 425.8L183.8 426.1L181.9 426.8L180.2 427.8M194.1 428.2L192.1 428.0L190.3 427.1L188.4 426.4L186.8 425.3L185.1 424.2M192.1 422.8L190.1 423.3L188.3 424.2L186.4 424.8M192.8 417.0L192.6 419.0L192.0 420.8L192.1 422.8L192.2 424.8M193.2 428.3L191.5 427.2L189.9 426.0L188.1 425.1L186.2 424.8L184.4 424.0M194.8 425.0L196.2 426.5L197.2 428.3L198.1 430.0L199.4 431.6L201.1 432.6M193.7 426.0L195.5 425.1L197.5 424.8L199.2 423.9L200.6 422.4M188.5 420.7L189.8 419.3L191.3 417.9L192.9 416.6" fill="none" stroke="#6c2a3c" stroke-width="0.7" stroke-linecap="round" stroke-linejoin="round" opacity="0.95"/><text x="196.3" y="426.3" font-family="Liberation Serif" font-weight="bold" font-size="13.5" fill="#111" text-anchor="middle">Aβ</text>
<rect x="259.0" y="411.0" width="112.5" height="27.0" rx="1.5" fill="url(#gTub)"/><ellipse cx="261.6" cy="412.6" rx="2.45" ry="2.00" fill="#fff" stroke="#1d2a35" stroke-width="0.55" stroke-dasharray="1.0 0.6"/><ellipse cx="268.0" cy="412.6" rx="2.45" ry="2.00" fill="#fff" stroke="#1d2a35" stroke-width="0.55" stroke-dasharray="1.0 0.6"/><ellipse cx="274.4" cy="412.6" rx="2.45" ry="2.00" fill="#fff" stroke="#1d2a35" stroke-width="0.55" stroke-dasharray="1.0 0.6"/><ellipse cx="280.9" cy="412.6" rx="2.45" ry="2.00" fill="#fff" stroke="#1d2a35" stroke-width="0.55" stroke-dasharray="1.0 0.6"/><ellipse cx="287.3" cy="412.6" rx="2.45" ry="2.00" fill="#fff" stroke="#1d2a35" stroke-width="0.55" stroke-dasharray="1.0 0.6"/><ellipse cx="293.7" cy="412.6" rx="2.45" ry="2.00" fill="#fff" stroke="#1d2a35" stroke-width="0.55" stroke-dasharray="1.0 0.6"/><ellipse cx="300.1" cy="412.6" rx="2.45" ry="2.00" fill="#fff" stroke="#1d2a35" stroke-width="0.55" stroke-dasharray="1.0 0.6"/><ellipse cx="306.5" cy="412.6" rx="2.45" ry="2.00" fill="#fff" stroke="#1d2a35" stroke-width="0.55" stroke-dasharray="1.0 0.6"/><ellipse cx="313.0" cy="412.6" rx="2.45" ry="2.00" fill="#fff" stroke="#1d2a35" stroke-width="0.55" stroke-dasharray="1.0 0.6"/><ellipse cx="319.4" cy="412.6" rx="2.45" ry="2.00" fill="#fff" stroke="#1d2a35" stroke-width="0.55" stroke-dasharray="1.0 0.6"/><ellipse cx="325.8" cy="412.6" rx="2.45" ry="2.00" fill="#fff" stroke="#1d2a35" stroke-width="0.55" stroke-dasharray="1.0 0.6"/><ellipse cx="332.2" cy="412.6" rx="2.45" ry="2.00" fill="#fff" stroke="#1d2a35" stroke-width="0.55" stroke-dasharray="1.0 0.6"/><ellipse cx="338.6" cy="412.6" rx="2.45" ry="2.00" fill="#fff" stroke="#1d2a35" stroke-width="0.55" stroke-dasharray="1.0 0.6"/><ellipse cx="345.1" cy="412.6" rx="2.45" ry="2.00" fill="#fff" stroke="#1d2a35" stroke-width="0.55" stroke-dasharray="1.0 0.6"/><ellipse cx="351.5" cy="412.6" rx="2.45" ry="2.00" fill="#fff" stroke="#1d2a35" stroke-width="0.55" stroke-dasharray="1.0 0.6"/><ellipse cx="357.9" cy="412.6" rx="2.45" ry="2.00" fill="#fff" stroke="#1d2a35" stroke-width="0.55" stroke-dasharray="1.0 0.6"/><ellipse cx="364.3" cy="412.6" rx="2.45" ry="2.00" fill="#fff" stroke="#1d2a35" stroke-width="0.55" stroke-dasharray="1.0 0.6"/><ellipse cx="264.8" cy="417.9" rx="2.45" ry="2.00" fill="#fff" stroke="#1d2a35" stroke-width="0.55" stroke-dasharray="1.0 0.6"/><ellipse cx="271.2" cy="417.9" rx="2.45" ry="2.00" fill="#fff" stroke="#1d2a35" stroke-width="0.55" stroke-dasharray="1.0 0.6"/><ellipse cx="277.6" cy="417.9" rx="2.45" ry="2.00" fill="#fff" stroke="#1d2a35" stroke-width="0.55" stroke-dasharray="1.0 0.6"/><ellipse cx="284.1" cy="417.9" rx="2.45" ry="2.00" fill="#fff" stroke="#1d2a35" stroke-width="0.55" stroke-dasharray="1.0 0.6"/><ellipse cx="290.5" cy="417.9" rx="2.45" ry="2.00" fill="#fff" stroke="#1d2a35" stroke-width="0.55" stroke-dasharray="1.0 0.6"/><ellipse cx="296.9" cy="417.9" rx="2.45" ry="2.00" fill="#fff" stroke="#1d2a35" stroke-width="0.55" stroke-dasharray="1.0 0.6"/><ellipse cx="303.3" cy="417.9" rx="2.45" ry="2.00" fill="#fff" stroke="#1d2a35" stroke-width="0.55" stroke-dasharray="1.0 0.6"/><ellipse cx="309.8" cy="417.9" rx="2.45" ry="2.00" fill="#fff" stroke="#1d2a35" stroke-width="0.55" stroke-dasharray="1.0 0.6"/><ellipse cx="316.2" cy="417.9" rx="2.45" ry="2.00" fill="#fff" stroke="#1d2a35" stroke-width="0.55" stroke-dasharray="1.0 0.6"/><ellipse cx="322.6" cy="417.9" rx="2.45" ry="2.00" fill="#fff" stroke="#1d2a35" stroke-width="0.55" stroke-dasharray="1.0 0.6"/><ellipse cx="329.0" cy="417.9" rx="2.45" ry="2.00" fill="#fff" stroke="#1d2a35" stroke-width="0.55" stroke-dasharray="1.0 0.6"/><ellipse cx="335.4" cy="417.9" rx="2.45" ry="2.00" fill="#fff" stroke="#1d2a35" stroke-width="0.55" stroke-dasharray="1.0 0.6"/><ellipse cx="341.9" cy="417.9" rx="2.45" ry="2.00" fill="#fff" stroke="#1d2a35" stroke-width="0.55" stroke-dasharray="1.0 0.6"/><ellipse cx="348.3" cy="417.9" rx="2.45" ry="2.00" fill="#fff" stroke="#1d2a35" stroke-width="0.55" stroke-dasharray="1.0 0.6"/><ellipse cx="354.7" cy="417.9" rx="2.45" ry="2.00" fill="#fff" stroke="#1d2a35" stroke-width="0.55" stroke-dasharray="1.0 0.6"/><ellipse cx="361.1" cy="417.9" rx="2.45" ry="2.00" fill="#fff" stroke="#1d2a35" stroke-width="0.55" stroke-dasharray="1.0 0.6"/><ellipse cx="367.5" cy="417.9" rx="2.45" ry="2.00" fill="#fff" stroke="#1d2a35" stroke-width="0.55" stroke-dasharray="1.0 0.6"/><ellipse cx="261.6" cy="423.2" rx="2.45" ry="2.00" fill="#fff" stroke="#1d2a35" stroke-width="0.55" stroke-dasharray="1.0 0.6"/><ellipse cx="268.0" cy="423.2" rx="2.45" ry="2.00" fill="#fff" stroke="#1d2a35" stroke-width="0.55" stroke-dasharray="1.0 0.6"/><ellipse cx="274.4" cy="423.2" rx="2.45" ry="2.00" fill="#fff" stroke="#1d2a35" stroke-width="0.55" stroke-dasharray="1.0 0.6"/><ellipse cx="280.9" cy="423.2" rx="2.45" ry="2.00" fill="#fff" stroke="#1d2a35" stroke-width="0.55" stroke-dasharray="1.0 0.6"/><ellipse cx="287.3" cy="423.2" rx="2.45" ry="2.00" fill="#fff" stroke="#1d2a35" stroke-width="0.55" stroke-dasharray="1.0 0.6"/><ellipse cx="293.7" cy="423.2" rx="2.45" ry="2.00" fill="#fff" stroke="#1d2a35" stroke-width="0.55" stroke-dasharray="1.0 0.6"/><ellipse cx="300.1" cy="423.2" rx="2.45" ry="2.00" fill="#fff" stroke="#1d2a35" stroke-width="0.55" stroke-dasharray="1.0 0.6"/><ellipse cx="306.5" cy="423.2" rx="2.45" ry="2.00" fill="#fff" stroke="#1d2a35" stroke-width="0.55" stroke-dasharray="1.0 0.6"/><ellipse cx="313.0" cy="423.2" rx="2.45" ry="2.00" fill="#fff" stroke="#1d2a35" stroke-width="0.55" stroke-dasharray="1.0 0.6"/><ellipse cx="319.4" cy="423.2" rx="2.45" ry="2.00" fill="#fff" stroke="#1d2a35" stroke-width="0.55" stroke-dasharray="1.0 0.6"/><ellipse cx="325.8" cy="423.2" rx="2.45" ry="2.00" fill="#fff" stroke="#1d2a35" stroke-width="0.55" stroke-dasharray="1.0 0.6"/><ellipse cx="332.2" cy="423.2" rx="2.45" ry="2.00" fill="#fff" stroke="#1d2a35" stroke-width="0.55" stroke-dasharray="1.0 0.6"/><ellipse cx="338.6" cy="423.2" rx="2.45" ry="2.00" fill="#fff" stroke="#1d2a35" stroke-width="0.55" stroke-dasharray="1.0 0.6"/><ellipse cx="345.1" cy="423.2" rx="2.45" ry="2.00" fill="#fff" stroke="#1d2a35" stroke-width="0.55" stroke-dasharray="1.0 0.6"/><ellipse cx="351.5" cy="423.2" rx="2.45" ry="2.00" fill="#fff" stroke="#1d2a35" stroke-width="0.55" stroke-dasharray="1.0 0.6"/><ellipse cx="357.9" cy="423.2" rx="2.45" ry="2.00" fill="#fff" stroke="#1d2a35" stroke-width="0.55" stroke-dasharray="1.0 0.6"/><ellipse cx="364.3" cy="423.2" rx="2.45" ry="2.00" fill="#fff" stroke="#1d2a35" stroke-width="0.55" stroke-dasharray="1.0 0.6"/><ellipse cx="264.8" cy="428.5" rx="2.45" ry="2.00" fill="#fff" stroke="#1d2a35" stroke-width="0.55" stroke-dasharray="1.0 0.6"/><ellipse cx="271.2" cy="428.5" rx="2.45" ry="2.00" fill="#fff" stroke="#1d2a35" stroke-width="0.55" stroke-dasharray="1.0 0.6"/><ellipse cx="277.6" cy="428.5" rx="2.45" ry="2.00" fill="#fff" stroke="#1d2a35" stroke-width="0.55" stroke-dasharray="1.0 0.6"/><ellipse cx="284.1" cy="428.5" rx="2.45" ry="2.00" fill="#fff" stroke="#1d2a35" stroke-width="0.55" stroke-dasharray="1.0 0.6"/><ellipse cx="290.5" cy="428.5" rx="2.45" ry="2.00" fill="#fff" stroke="#1d2a35" stroke-width="0.55" stroke-dasharray="1.0 0.6"/><ellipse cx="296.9" cy="428.5" rx="2.45" ry="2.00" fill="#fff" stroke="#1d2a35" stroke-width="0.55" stroke-dasharray="1.0 0.6"/><ellipse cx="303.3" cy="428.5" rx="2.45" ry="2.00" fill="#fff" stroke="#1d2a35" stroke-width="0.55" stroke-dasharray="1.0 0.6"/><ellipse cx="309.8" cy="428.5" rx="2.45" ry="2.00" fill="#fff" stroke="#1d2a35" stroke-width="0.55" stroke-dasharray="1.0 0.6"/><ellipse cx="316.2" cy="428.5" rx="2.45" ry="2.00" fill="#fff" stroke="#1d2a35" stroke-width="0.55" stroke-dasharray="1.0 0.6"/><ellipse cx="322.6" cy="428.5" rx="2.45" ry="2.00" fill="#fff" stroke="#1d2a35" stroke-width="0.55" stroke-dasharray="1.0 0.6"/><ellipse cx="329.0" cy="428.5" rx="2.45" ry="2.00" fill="#fff" stroke="#1d2a35" stroke-width="0.55" stroke-dasharray="1.0 0.6"/><ellipse cx="335.4" cy="428.5" rx="2.45" ry="2.00" fill="#fff" stroke="#1d2a35" stroke-width="0.55" stroke-dasharray="1.0 0.6"/><ellipse cx="341.9" cy="428.5" rx="2.45" ry="2.00" fill="#fff" stroke="#1d2a35" stroke-width="0.55" stroke-dasharray="1.0 0.6"/><ellipse cx="348.3" cy="428.5" rx="2.45" ry="2.00" fill="#fff" stroke="#1d2a35" stroke-width="0.55" stroke-dasharray="1.0 0.6"/><ellipse cx="354.7" cy="428.5" rx="2.45" ry="2.00" fill="#fff" stroke="#1d2a35" stroke-width="0.55" stroke-dasharray="1.0 0.6"/><ellipse cx="361.1" cy="428.5" rx="2.45" ry="2.00" fill="#fff" stroke="#1d2a35" stroke-width="0.55" stroke-dasharray="1.0 0.6"/><ellipse cx="367.5" cy="428.5" rx="2.45" ry="2.00" fill="#fff" stroke="#1d2a35" stroke-width="0.55" stroke-dasharray="1.0 0.6"/><ellipse cx="261.6" cy="433.8" rx="2.45" ry="2.00" fill="#fff" stroke="#1d2a35" stroke-width="0.55" stroke-dasharray="1.0 0.6"/><ellipse cx="268.0" cy="433.8" rx="2.45" ry="2.00" fill="#fff" stroke="#1d2a35" stroke-width="0.55" stroke-dasharray="1.0 0.6"/><ellipse cx="274.4" cy="433.8" rx="2.45" ry="2.00" fill="#fff" stroke="#1d2a35" stroke-width="0.55" stroke-dasharray="1.0 0.6"/><ellipse cx="280.9" cy="433.8" rx="2.45" ry="2.00" fill="#fff" stroke="#1d2a35" stroke-width="0.55" stroke-dasharray="1.0 0.6"/><ellipse cx="287.3" cy="433.8" rx="2.45" ry="2.00" fill="#fff" stroke="#1d2a35" stroke-width="0.55" stroke-dasharray="1.0 0.6"/><ellipse cx="293.7" cy="433.8" rx="2.45" ry="2.00" fill="#fff" stroke="#1d2a35" stroke-width="0.55" stroke-dasharray="1.0 0.6"/><ellipse cx="300.1" cy="433.8" rx="2.45" ry="2.00" fill="#fff" stroke="#1d2a35" stroke-width="0.55" stroke-dasharray="1.0 0.6"/><ellipse cx="306.5" cy="433.8" rx="2.45" ry="2.00" fill="#fff" stroke="#1d2a35" stroke-width="0.55" stroke-dasharray="1.0 0.6"/><ellipse cx="313.0" cy="433.8" rx="2.45" ry="2.00" fill="#fff" stroke="#1d2a35" stroke-width="0.55" stroke-dasharray="1.0 0.6"/><ellipse cx="319.4" cy="433.8" rx="2.45" ry="2.00" fill="#fff" stroke="#1d2a35" stroke-width="0.55" stroke-dasharray="1.0 0.6"/><ellipse cx="325.8" cy="433.8" rx="2.45" ry="2.00" fill="#fff" stroke="#1d2a35" stroke-width="0.55" stroke-dasharray="1.0 0.6"/><ellipse cx="332.2" cy="433.8" rx="2.45" ry="2.00" fill="#fff" stroke="#1d2a35" stroke-width="0.55" stroke-dasharray="1.0 0.6"/><ellipse cx="338.6" cy="433.8" rx="2.45" ry="2.00" fill="#fff" stroke="#1d2a35" stroke-width="0.55" stroke-dasharray="1.0 0.6"/><ellipse cx="345.1" cy="433.8" rx="2.45" ry="2.00" fill="#fff" stroke="#1d2a35" stroke-width="0.55" stroke-dasharray="1.0 0.6"/><ellipse cx="351.5" cy="433.8" rx="2.45" ry="2.00" fill="#fff" stroke="#1d2a35" stroke-width="0.55" stroke-dasharray="1.0 0.6"/><ellipse cx="357.9" cy="433.8" rx="2.45" ry="2.00" fill="#fff" stroke="#1d2a35" stroke-width="0.55" stroke-dasharray="1.0 0.6"/><ellipse cx="364.3" cy="433.8" rx="2.45" ry="2.00" fill="#fff" stroke="#1d2a35" stroke-width="0.55" stroke-dasharray="1.0 0.6"/><ellipse cx="264.8" cy="438.2" rx="2.45" ry="1.50" fill="#fff" stroke="#1d2a35" stroke-width="0.55" stroke-dasharray="1.0 0.6"/><ellipse cx="271.2" cy="438.2" rx="2.45" ry="1.50" fill="#fff" stroke="#1d2a35" stroke-width="0.55" stroke-dasharray="1.0 0.6"/><ellipse cx="277.6" cy="438.2" rx="2.45" ry="1.50" fill="#fff" stroke="#1d2a35" stroke-width="0.55" stroke-dasharray="1.0 0.6"/><ellipse cx="284.1" cy="438.2" rx="2.45" ry="1.50" fill="#fff" stroke="#1d2a35" stroke-width="0.55" stroke-dasharray="1.0 0.6"/><ellipse cx="290.5" cy="438.2" rx="2.45" ry="1.50" fill="#fff" stroke="#1d2a35" stroke-width="0.55" stroke-dasharray="1.0 0.6"/><ellipse cx="296.9" cy="438.2" rx="2.45" ry="1.50" fill="#fff" stroke="#1d2a35" stroke-width="0.55" stroke-dasharray="1.0 0.6"/><ellipse cx="303.3" cy="438.2" rx="2.45" ry="1.50" fill="#fff" stroke="#1d2a35" stroke-width="0.55" stroke-dasharray="1.0 0.6"/><ellipse cx="309.8" cy="438.2" rx="2.45" ry="1.50" fill="#fff" stroke="#1d2a35" stroke-width="0.55" stroke-dasharray="1.0 0.6"/><ellipse cx="316.2" cy="438.2" rx="2.45" ry="1.50" fill="#fff" stroke="#1d2a35" stroke-width="0.55" stroke-dasharray="1.0 0.6"/><ellipse cx="322.6" cy="438.2" rx="2.45" ry="1.50" fill="#fff" stroke="#1d2a35" stroke-width="0.55" stroke-dasharray="1.0 0.6"/><ellipse cx="329.0" cy="438.2" rx="2.45" ry="1.50" fill="#fff" stroke="#1d2a35" stroke-width="0.55" stroke-dasharray="1.0 0.6"/><ellipse cx="335.4" cy="438.2" rx="2.45" ry="1.50" fill="#fff" stroke="#1d2a35" stroke-width="0.55" stroke-dasharray="1.0 0.6"/><ellipse cx="341.9" cy="438.2" rx="2.45" ry="1.50" fill="#fff" stroke="#1d2a35" stroke-width="0.55" stroke-dasharray="1.0 0.6"/><ellipse cx="348.3" cy="438.2" rx="2.45" ry="1.50" fill="#fff" stroke="#1d2a35" stroke-width="0.55" stroke-dasharray="1.0 0.6"/><ellipse cx="354.7" cy="438.2" rx="2.45" ry="1.50" fill="#fff" stroke="#1d2a35" stroke-width="0.55" stroke-dasharray="1.0 0.6"/><ellipse cx="361.1" cy="438.2" rx="2.45" ry="1.50" fill="#fff" stroke="#1d2a35" stroke-width="0.55" stroke-dasharray="1.0 0.6"/><ellipse cx="367.5" cy="438.2" rx="2.45" ry="1.50" fill="#fff" stroke="#1d2a35" stroke-width="0.55" stroke-dasharray="1.0 0.6"/><path d="M260.0 410.9 H370.5" stroke="#1e2b36" stroke-width="0.5" stroke-dasharray="1.6 1" fill="none"/><ellipse cx="370.0" cy="414.5" rx="2.6" ry="2.4" fill="#5aaee0" stroke="#2d7fb8" stroke-width="0.35"/><ellipse cx="371.5" cy="419.5" rx="2.6" ry="2.4" fill="#5aaee0" stroke="#2d7fb8" stroke-width="0.35"/><ellipse cx="372.0" cy="425.0" rx="2.6" ry="2.4" fill="#5aaee0" stroke="#2d7fb8" stroke-width="0.35"/><ellipse cx="371.5" cy="430.5" rx="2.6" ry="2.4" fill="#5aaee0" stroke="#2d7fb8" stroke-width="0.35"/><ellipse cx="370.0" cy="436.0" rx="2.6" ry="2.4" fill="#5aaee0" stroke="#2d7fb8" stroke-width="0.35"/><ellipse cx="380.8" cy="421.0" rx="2.8" ry="2.1" transform="rotate(-15 380.8 421.0)" fill="#58aee2" stroke="#2d7fb8" stroke-width="0.4"/><ellipse cx="387.3" cy="415.5" rx="2.8" ry="2.0" transform="rotate(-15 387.3 415.5)" fill="#fff" stroke="#55677a" stroke-width="0.45" stroke-dasharray="1 0.6"/><ellipse cx="379.5" cy="428.8" rx="2.8" ry="2.1" transform="rotate(-15 379.5 428.8)" fill="#58aee2" stroke="#2d7fb8" stroke-width="0.4"/><ellipse cx="389.2" cy="428.3" rx="2.8" ry="2.1" transform="rotate(-15 389.2 428.3)" fill="#58aee2" stroke="#2d7fb8" stroke-width="0.4"/><ellipse cx="384.5" cy="424.5" rx="2.8" ry="2.0" transform="rotate(-15 384.5 424.5)" fill="#fff" stroke="#55677a" stroke-width="0.45" stroke-dasharray="1 0.6"/><ellipse cx="400.2" cy="409.3" rx="2.8" ry="2.1" transform="rotate(-15 400.2 409.3)" fill="#58aee2" stroke="#2d7fb8" stroke-width="0.4"/><ellipse cx="403.0" cy="406.8" rx="2.8" ry="2.0" transform="rotate(-15 403.0 406.8)" fill="#fff" stroke="#55677a" stroke-width="0.45" stroke-dasharray="1 0.6"/><ellipse cx="386.2" cy="411.5" rx="2.8" ry="2.0" transform="rotate(-15 386.2 411.5)" fill="#fff" stroke="#55677a" stroke-width="0.45" stroke-dasharray="1 0.6"/><ellipse cx="392.3" cy="420.5" rx="2.8" ry="2.0" transform="rotate(-15 392.3 420.5)" fill="#fff" stroke="#55677a" stroke-width="0.45" stroke-dasharray="1 0.6"/><ellipse cx="393.5" cy="433.0" rx="2.8" ry="2.0" transform="rotate(-15 393.5 433.0)" fill="#fff" stroke="#55677a" stroke-width="0.45" stroke-dasharray="1 0.6"/><ellipse cx="396.3" cy="426.5" rx="2.8" ry="2.1" transform="rotate(-15 396.3 426.5)" fill="#58aee2" stroke="#2d7fb8" stroke-width="0.4"/><ellipse cx="382.0" cy="416.8" rx="2.8" ry="2.0" transform="rotate(-15 382.0 416.8)" fill="#fff" stroke="#55677a" stroke-width="0.45" stroke-dasharray="1 0.6"/><ellipse cx="394.6" cy="416.2" rx="2.8" ry="2.1" transform="rotate(-15 394.6 416.2)" fill="#58aee2" stroke="#2d7fb8" stroke-width="0.4"/><g transform="translate(263.0 413.4) rotate(-13.8)"><rect x="0" y="-1.65" width="28.4" height="3.30" rx="1.65" fill="#8c1b2e" stroke="#4d0d18" stroke-width="0.55"/><path d="M8.5 -1.6 V1.6M15.6 -1.6 V1.6M22.2 -1.6 V1.6" stroke="#5a0f1c" stroke-width="0.5" fill="none"/></g><path d="M290.6 406.6Q294.0 404.5 295.5 401.5Q297.0 399.0 301.5 398.3" fill="none" stroke="#4b5f93" stroke-width="0.7" stroke-linecap="round"/><g transform="translate(275.5 424.3) rotate(42.2)"><rect x="0" y="-1.65" width="29.3" height="3.30" rx="1.65" fill="#8c1b2e" stroke="#4d0d18" stroke-width="0.55"/><path d="M8.8 -1.6 V1.6M16.1 -1.6 V1.6M22.9 -1.6 V1.6" stroke="#5a0f1c" stroke-width="0.5" fill="none"/></g><path d="M297.2 444.0Q301.0 445.8 304.5 444.6Q308.0 444.5 311.0 448.3" fill="none" stroke="#4b5f93" stroke-width="0.7" stroke-linecap="round"/><g transform="translate(298.3 418.0) rotate(19.8)"><rect x="0" y="-1.65" width="28.9" height="3.30" rx="1.65" fill="#8c1b2e" stroke="#4d0d18" stroke-width="0.55"/><path d="M8.7 -1.6 V1.6M15.9 -1.6 V1.6M22.6 -1.6 V1.6" stroke="#5a0f1c" stroke-width="0.5" fill="none"/></g><g transform="translate(324.0 413.0) rotate(-1.8)"><rect x="0" y="-1.65" width="28.6" height="3.30" rx="1.65" fill="#8c1b2e" stroke="#4d0d18" stroke-width="0.55"/><path d="M8.6 -1.6 V1.6M15.7 -1.6 V1.6M22.3 -1.6 V1.6" stroke="#5a0f1c" stroke-width="0.5" fill="none"/></g><path d="M352.6 412.1Q355.5 408.5 359.0 407.5Q362.0 406.2 365.8 406.6" fill="none" stroke="#4b5f93" stroke-width="0.7" stroke-linecap="round"/><g transform="translate(326.2 402.6) rotate(41.5)"><rect x="0" y="-1.65" width="28.1" height="3.30" rx="1.65" fill="#8c1b2e" stroke="#4d0d18" stroke-width="0.55"/><path d="M8.4 -1.6 V1.6M15.4 -1.6 V1.6M21.9 -1.6 V1.6" stroke="#5a0f1c" stroke-width="0.5" fill="none"/></g><path d="M326.2 402.6Q323.0 401.8 321.0 403.7Q319.0 405.5 316.3 405.2" fill="none" stroke="#4b5f93" stroke-width="0.7" stroke-linecap="round"/><g transform="translate(362.4 419.6) rotate(130.2)"><rect x="0" y="-1.65" width="29.7" height="3.30" rx="1.65" fill="#8c1b2e" stroke="#4d0d18" stroke-width="0.55"/><path d="M8.9 -1.6 V1.6M16.4 -1.6 V1.6M23.2 -1.6 V1.6" stroke="#5a0f1c" stroke-width="0.5" fill="none"/></g><path d="M343.2 442.3Q341.0 445.0 341.5 448.5Q341.5 452.0 339.2 454.8" fill="none" stroke="#4b5f93" stroke-width="0.7" stroke-linecap="round"/>
<g fill="#b2b2b2"><ellipse cx="404.4" cy="428" rx="10.4" ry="8.8"/><path d="M398.5 434.5 L396.3 439.6 L402.2 436.6 Z"/><ellipse cx="412.6" cy="434.4" rx="8.6" ry="7.4" stroke="#fff" stroke-width="1.1"/><path d="M416.5 440.3 L419.3 443.6 L413.8 441.6 Z"/></g><circle cx="409.6" cy="432.6" r="1.15" fill="#fff"/><circle cx="415.7" cy="432.6" r="1.15" fill="#fff"/><ellipse cx="401.6" cy="420.6" rx="2.7" ry="2.1" transform="rotate(-15 401.6 420.6)" fill="#4a8fc0" stroke="#2d6f9f" stroke-width="0.4" opacity="0.85"/><ellipse cx="403.4" cy="424.6" rx="2.7" ry="2.1" transform="rotate(-15 403.4 424.6)" fill="#4a8fc0" stroke="#2d6f9f" stroke-width="0.4" opacity="0.85"/><ellipse cx="399.2" cy="425.4" rx="2.7" ry="2.1" transform="rotate(-15 399.2 425.4)" fill="#4a8fc0" stroke="#2d6f9f" stroke-width="0.4" opacity="0.85"/><text x="426.9" y="439.5" font-size="21.6" textLength="64.8" lengthAdjust="spacing" style="font-family:'Liberation Sans','Noto Sans CJK SC',sans-serif" fill="#acacac">服务号</text><circle cx="502.3" cy="432" r="1.7" fill="#acacac"/><text x="514.4" y="439.6" font-size="22" textLength="241.8" lengthAdjust="spacing" style="font-family:'Liberation Sans','Noto Sans CJK SC',sans-serif" fill="#acacac">生物化学与生物物理进展</text>
</g>
</svg>
</body></html>
